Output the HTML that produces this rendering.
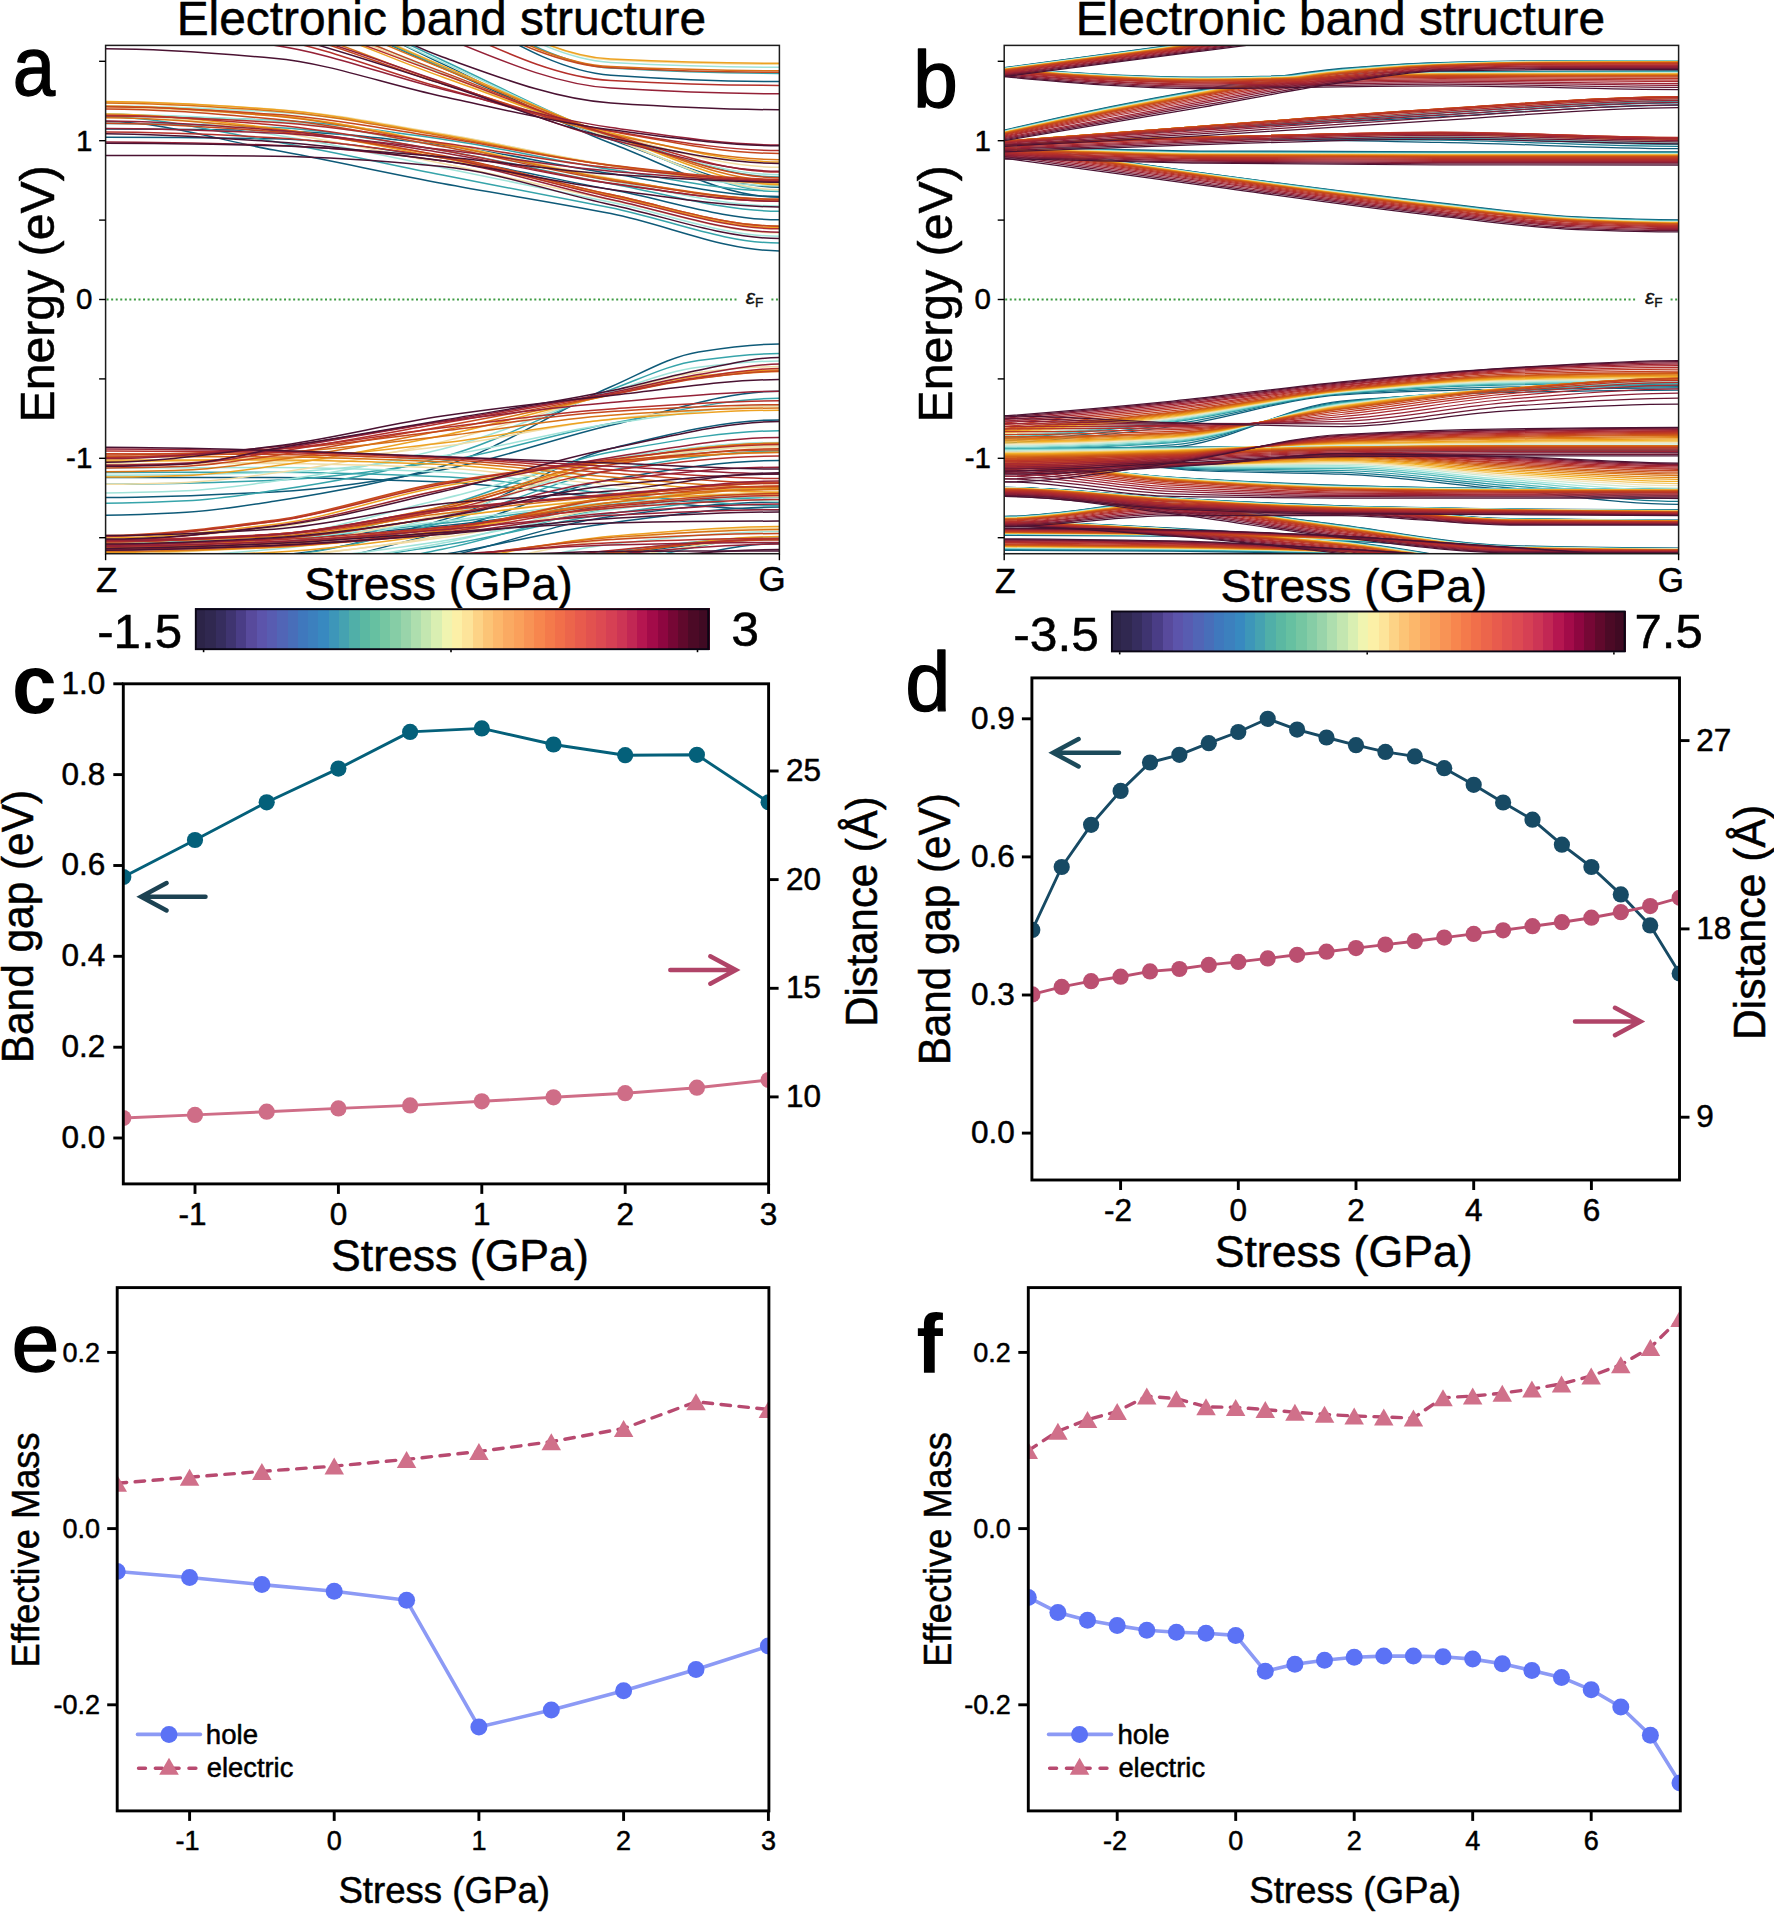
<!DOCTYPE html>
<html lang="en">
<head>
<meta charset="utf-8">
<title>Electronic band structure under stress</title>
<style>
html,body{margin:0;padding:0;background:#fff;}
body{width:1774px;height:1913px;overflow:hidden;}
svg{display:block;font-family:"Liberation Sans", sans-serif;}
svg text{font-family:"Liberation Sans", sans-serif;}
.bd path{fill:none;}
</style>
</head>
<body>
<svg width="1774" height="1913" viewBox="0 0 1774 1913">
<rect x="0" y="0" width="1774" height="1913" fill="#fff"/>
<defs>
<clipPath id="cla"><rect x="105.6" y="45.4" width="673.8" height="508.3"/></clipPath>
<clipPath id="clb"><rect x="1004.2" y="45.4" width="674.4" height="508.3"/></clipPath>
<clipPath id="clc"><rect x="123.3" y="683.8" width="645.3" height="500.1"/></clipPath>
<clipPath id="cld"><rect x="1031.9" y="677.9" width="647.6" height="502.1"/></clipPath>
<clipPath id="cle"><rect x="117.2" y="1287.6" width="651.7" height="523.3"/></clipPath>
<clipPath id="clf"><rect x="1028.3" y="1287.6" width="652" height="523.3"/></clipPath>
</defs>
<line x1="106.6" y1="299.5" x2="738.4" y2="299.5" stroke="#3f9c44" stroke-width="1.9" stroke-dasharray="2 2.55"/>
<line x1="771.4" y1="299.5" x2="778.9" y2="299.5" stroke="#3f9c44" stroke-width="1.9" stroke-dasharray="2 2.55"/>
<text x="745.8" y="303.6" font-size="21" font-style="italic" fill="#111" stroke="#111" stroke-width="0.4" font-family="'DejaVu Sans', 'Liberation Sans', sans-serif">ε<tspan font-size="13.5" font-style="normal" dy="3">F</tspan></text>
<g class="bd" clip-path="url(#cla)" stroke-width="1.5">
<path d="M105.6 121.5C161.7 121.5 217.9 139.9 274 150.1C330.2 160.4 386.3 172.9 442.5 183.5C498.6 194 554.8 202.5 610.9 213.6C667.1 224.8 723.2 250.9 779.4 250.9" stroke="#0e5a78"/>
<path d="M105.6 137.2C161.7 137.2 217.9 137.8 274 138.8C330.2 139.8 386.3 149.9 442.5 157.8C498.6 165.8 554.8 179.3 610.9 189.6C667.1 199.9 723.2 219.8 779.4 219.8" stroke="#0e5a78"/>
<path d="M105.6 129.1C161.7 129.1 217.9 129.8 274 130.7C330.2 131.7 386.3 138.7 442.5 145C498.6 151.4 554.8 165.1 610.9 173.6C667.1 182.1 723.2 196.5 779.4 196.5" stroke="#0e5a78"/>
<path d="M105.6 -51C161.7 -51 217.9 -22.5 274 -3.4C330.2 15.7 386.3 44.2 442.5 68.1C498.6 91.9 554.8 120.5 610.9 139.5C667.1 158.6 723.2 187.2 779.4 187.2" stroke="#0e5a78"/>
<path d="M105.6 -79C161.7 -79 217.9 -39 274 -15.5C330.2 8 386.3 37.4 442.5 63.9C498.6 90.3 554.8 121.9 610.9 143.3C667.1 164.7 723.2 197.3 779.4 197.3" stroke="#0e5a78"/>
<path d="M105.6 -210.6C161.7 -210.6 217.9 -150.6 274 -115.3C330.2 -80 386.3 -26 442.5 3.8C498.6 33.6 554.8 71.4 610.9 75.2C667.1 79.1 723.2 81.6 779.4 81.6" stroke="#0e5a78"/>
<path d="M105.6 515.2C132.6 515.2 159.5 513.8 186.5 512.3C215.7 510.7 244.9 505.7 274 501.2C330.2 492.6 386.3 482.4 442.5 466.2C498.6 450.1 554.8 410.9 610.9 386.8C640.1 374.3 669.3 356.5 698.5 351.9C725.5 347.7 752.4 344 779.4 344" stroke="#0e5a78"/>
<path d="M105.6 497.6C161.7 497.6 217.9 494.9 274 491.9C330.2 488.9 386.3 479.6 442.5 469.7C498.6 459.8 554.8 438 610.9 425.2C667.1 412.4 723.2 391.2 779.4 391.2" stroke="#0e5a78"/>
<path d="M105.6 558.1C161.7 558.1 217.9 556.8 274 554.9C330.2 552.9 386.3 535.6 442.5 519.9C498.6 504.3 554.8 462.1 610.9 448.5C667.1 434.9 723.2 419.9 779.4 419.9" stroke="#0e5a78"/>
<path d="M105.6 477.4C161.7 477.4 217.9 477.4 274 477.4C330.2 477.4 386.3 479.7 442.5 482.1C498.6 484.6 554.8 493.5 610.9 498C667.1 502.5 723.2 509.8 779.4 509.8" stroke="#0e5a78"/>
<path d="M105.6 579.6C161.7 579.6 217.9 574.1 274 568.5C330.2 562.8 386.3 546.3 442.5 531.9C498.6 517.6 554.8 488.8 610.9 479.5C667.1 470.2 723.2 460.5 779.4 460.5" stroke="#0e5a78"/>
<path d="M105.6 602.2C161.7 602.2 217.9 595.5 274 589.5C330.2 583.4 386.3 569.7 442.5 557.7C498.6 545.7 554.8 523.5 610.9 516.4C667.1 509.3 723.2 502.1 779.4 502.1" stroke="#0e5a78"/>
<path d="M105.6 647.5C161.7 647.5 217.9 638.6 274 631.6C330.2 624.5 386.3 612.2 442.5 599.8C498.6 587.5 554.8 563.2 610.9 555.4C667.1 547.6 723.2 539.5 779.4 539.5" stroke="#0e5a78"/>
<path d="M105.6 541.7C161.7 541.7 217.9 540.2 274 538.5C330.2 536.8 386.3 530.9 442.5 525.8C498.6 520.7 554.8 511 610.9 506.8C667.1 502.5 723.2 497.2 779.4 497.2" stroke="#0e5a78"/>
<path d="M105.6 586.4C161.7 586.4 217.9 582.4 274 578.5C330.2 574.5 386.3 563.7 442.5 554.7C498.6 545.6 554.8 530 610.9 522.9C667.1 515.8 723.2 507 779.4 507" stroke="#0e5a78"/>
<path d="M105.6 680.9C161.7 680.9 217.9 672.1 274 665.1C330.2 658 386.3 646.8 442.5 633.3C498.6 619.8 554.8 591.8 610.9 577.7C667.1 563.6 723.2 543.6 779.4 543.6" stroke="#0e5a78"/>
<path d="M105.6 116.9C161.7 116.9 217.9 132.2 274 141.6C330.2 151.1 386.3 164.1 442.5 175.1C498.6 186.1 554.8 196.4 610.9 207.7C667.1 219 723.2 243.1 779.4 243.1" stroke="#36a4aa"/>
<path d="M105.6 123.4C161.7 123.4 217.9 125.3 274 127.6C330.2 130 386.3 141.4 442.5 150.4C498.6 159.5 554.8 173.7 610.9 183.7C667.1 193.8 723.2 211.2 779.4 211.2" stroke="#36a4aa"/>
<path d="M105.6 116.2C161.7 116.2 217.9 118 274 120.3C330.2 122.5 386.3 131.4 442.5 139.2C498.6 147 554.8 161 610.9 169.4C667.1 177.8 723.2 191.1 779.4 191.1" stroke="#36a4aa"/>
<path d="M105.6 -49C161.7 -49 217.9 -21.5 274 -3C330.2 15.4 386.3 43.9 442.5 66.9C498.6 89.9 554.8 117.4 610.9 134.8C667.1 152.1 723.2 177 779.4 177" stroke="#36a4aa"/>
<path d="M105.6 -77C161.7 -77 217.9 -39.7 274 -17.2C330.2 5.2 386.3 34.5 442.5 60.2C498.6 86 554.8 116.3 610.9 137.4C667.1 158.6 723.2 191.4 779.4 191.4" stroke="#36a4aa"/>
<path d="M105.6 -224.8C161.7 -224.8 217.9 -164.5 274 -128.1C330.2 -91.8 386.3 -33.4 442.5 -3.2C498.6 27.1 554.8 64.6 610.9 68C667.1 71.4 723.2 73.4 779.4 73.4" stroke="#36a4aa"/>
<path d="M105.6 503.2C132.6 503.2 159.5 502.1 186.5 500.8C215.7 499.4 244.9 494.8 274 490.6C330.2 482.6 386.3 472 442.5 457C498.6 442.1 554.8 409.9 610.9 389.6C640.1 379.1 669.3 364.3 698.5 360.4C725.5 356.7 752.4 353.5 779.4 353.5" stroke="#36a4aa"/>
<path d="M105.6 484.2C161.7 484.2 217.9 482.5 274 480.3C330.2 478.2 386.3 469.7 442.5 461.3C498.6 452.9 554.8 433.6 610.9 423.6C667.1 413.5 723.2 398.3 779.4 398.3" stroke="#36a4aa"/>
<path d="M105.6 549.5C161.7 549.5 217.9 546.5 274 542.7C330.2 538.9 386.3 521 442.5 506.5C498.6 492 554.8 462.2 610.9 452C667.1 441.9 723.2 430.8 779.4 430.8" stroke="#36a4aa"/>
<path d="M105.6 472.4C161.7 472.4 217.9 472.2 274 472.2C330.2 472.2 386.3 474.4 442.5 476.8C498.6 479.2 554.8 488.8 610.9 493.5C667.1 498.1 723.2 505.5 779.4 505.5" stroke="#36a4aa"/>
<path d="M105.6 567.5C161.7 567.5 217.9 562.5 274 557.2C330.2 551.9 386.3 536.4 442.5 522.5C498.6 508.5 554.8 479.5 610.9 470.2C667.1 460.8 723.2 451 779.4 451" stroke="#36a4aa"/>
<path d="M105.6 587.3C161.7 587.3 217.9 582.1 274 577.1C330.2 572.1 386.3 560.3 442.5 549.2C498.6 538.1 554.8 515.5 610.9 508.2C667.1 500.9 723.2 493.2 779.4 493.2" stroke="#36a4aa"/>
<path d="M105.6 632.7C161.7 632.7 217.9 625 274 618.8C330.2 612.7 386.3 602.1 442.5 591.3C498.6 580.5 554.8 558.7 610.9 551.7C667.1 544.7 723.2 537.3 779.4 537.3" stroke="#36a4aa"/>
<path d="M105.6 542.1C161.7 542.1 217.9 540.5 274 538.5C330.2 536.6 386.3 528.8 442.5 523.2C498.6 517.5 554.8 507.8 610.9 504.2C667.1 500.6 723.2 496.7 779.4 496.7" stroke="#36a4aa"/>
<path d="M105.6 574.2C161.7 574.2 217.9 570.7 274 567.2C330.2 563.7 386.3 554 442.5 545.4C498.6 536.8 554.8 520.8 610.9 513.6C667.1 506.4 723.2 497.2 779.4 497.2" stroke="#36a4aa"/>
<path d="M105.6 658.7C161.7 658.7 217.9 651.5 274 645.3C330.2 639.1 386.3 627.7 442.5 615.3C498.6 602.9 554.8 578.3 610.9 566.1C667.1 554 723.2 537.2 779.4 537.2" stroke="#36a4aa"/>
<path d="M105.6 113.7C161.7 113.7 217.9 126.2 274 134.8C330.2 143.3 386.3 156.4 442.5 167.7C498.6 178.9 554.8 190.9 610.9 202.3C667.1 213.8 723.2 236.3 779.4 236.3" stroke="#a0e3d9"/>
<path d="M105.6 114.6C161.7 114.6 217.9 117.6 274 120.9C330.2 124.3 386.3 136.8 442.5 146.6C498.6 156.4 554.8 171.2 610.9 180.9C667.1 190.6 723.2 206.1 779.4 206.1" stroke="#a0e3d9"/>
<path d="M105.6 106.1C161.7 106.1 217.9 108.8 274 111.9C330.2 115 386.3 125.6 442.5 134.3C498.6 143 554.8 157.1 610.9 165.4C667.1 173.6 723.2 185.8 779.4 185.8" stroke="#a0e3d9"/>
<path d="M105.6 -38.1C161.7 -38.1 217.9 -12.2 274 5.5C330.2 23.2 386.3 51.4 442.5 73.4C498.6 95.4 554.8 121.7 610.9 137.5C667.1 153.2 723.2 174.7 779.4 174.7" stroke="#a0e3d9"/>
<path d="M105.6 -68.9C161.7 -68.9 217.9 -34.2 274 -12.8C330.2 8.6 386.3 37.4 442.5 62.4C498.6 87.4 554.8 116.6 610.9 137.3C667.1 158 723.2 190.4 779.4 190.4" stroke="#a0e3d9"/>
<path d="M105.6 -233.5C161.7 -233.5 217.9 -173.2 274 -136.3C330.2 -99.4 386.3 -38 442.5 -7.8C498.6 22.5 554.8 59.5 610.9 62.4C667.1 65.4 723.2 67.2 779.4 67.2" stroke="#a0e3d9"/>
<path d="M105.6 492.9C132.6 492.9 159.5 491.9 186.5 490.8C215.7 489.6 244.9 485.2 274 481.3C330.2 473.7 386.3 462.7 442.5 448.9C498.6 435.1 554.8 408.9 610.9 391.8C640.1 383 669.3 370.7 698.5 367.2C725.5 364 752.4 361 779.4 361" stroke="#a0e3d9"/>
<path d="M105.6 475.3C161.7 475.3 217.9 474.2 274 472.6C330.2 471.1 386.3 463.1 442.5 455.8C498.6 448.4 554.8 431.5 610.9 423.7C667.1 416 723.2 405.5 779.4 405.5" stroke="#a0e3d9"/>
<path d="M105.6 545.7C161.7 545.7 217.9 541.2 274 536.1C330.2 530.9 386.3 511.9 442.5 498.9C498.6 485.9 554.8 465.5 610.9 458C667.1 450.4 723.2 442.4 779.4 442.4" stroke="#a0e3d9"/>
<path d="M105.6 467.9C161.7 467.9 217.9 467.5 274 467.5C330.2 467.5 386.3 469.7 442.5 472.1C498.6 474.5 554.8 484.4 610.9 489.1C667.1 493.8 723.2 501.2 779.4 501.2" stroke="#a0e3d9"/>
<path d="M105.6 558.8C161.7 558.8 217.9 554.2 274 549.3C330.2 544.4 386.3 529.7 442.5 516.3C498.6 502.9 554.8 473.9 610.9 464.6C667.1 455.4 723.2 445.7 779.4 445.7" stroke="#a0e3d9"/>
<path d="M105.6 575.7C161.7 575.7 217.9 571.6 274 567.5C330.2 563.4 386.3 553.2 442.5 543.1C498.6 533 554.8 510.4 610.9 503C667.1 495.7 723.2 487.8 779.4 487.8" stroke="#a0e3d9"/>
<path d="M105.6 614.9C161.7 614.9 217.9 608.2 274 602.9C330.2 597.6 386.3 588.6 442.5 579.2C498.6 569.8 554.8 550.5 610.9 544.3C667.1 538 723.2 531.5 779.4 531.5" stroke="#a0e3d9"/>
<path d="M105.6 543C161.7 543 217.9 541.3 274 539.1C330.2 537 386.3 527.5 442.5 521.4C498.6 515.3 554.8 505.8 610.9 502.7C667.1 499.6 723.2 496.4 779.4 496.4" stroke="#a0e3d9"/>
<path d="M105.6 567.1C161.7 567.1 217.9 564.1 274 561C330.2 557.8 386.3 549.2 442.5 541.1C498.6 533 554.8 517 610.9 509.8C667.1 502.6 723.2 493.3 779.4 493.3" stroke="#a0e3d9"/>
<path d="M105.6 645C161.7 645 217.9 639 274 633.6C330.2 628.2 386.3 616.8 442.5 605.4C498.6 593.9 554.8 572.4 610.9 561.9C667.1 551.5 723.2 537.5 779.4 537.5" stroke="#a0e3d9"/>
<path d="M105.6 114.4C161.7 114.4 217.9 124.4 274 132C330.2 139.5 386.3 152.4 442.5 163.6C498.6 174.9 554.8 188.5 610.9 200C667.1 211.5 723.2 232.8 779.4 232.8" stroke="#f1dca4"/>
<path d="M105.6 107.8C161.7 107.8 217.9 111.7 274 115.8C330.2 119.9 386.3 133 442.5 143.3C498.6 153.6 554.8 169 610.9 178.2C667.1 187.5 723.2 201.4 779.4 201.4" stroke="#f1dca4"/>
<path d="M105.6 102.1C161.7 102.1 217.9 105.6 274 109.2C330.2 112.9 386.3 124.6 442.5 133.8C498.6 142.9 554.8 157.1 610.9 165C667.1 172.9 723.2 184 779.4 184" stroke="#f1dca4"/>
<path d="M105.6 -31.6C161.7 -31.6 217.9 -7.7 274 9C330.2 25.7 386.3 53.4 442.5 74.3C498.6 95.2 554.8 120.3 610.9 134.5C667.1 148.6 723.2 167.3 779.4 167.3" stroke="#f1dca4"/>
<path d="M105.6 -59.4C161.7 -59.4 217.9 -27.2 274 -6.9C330.2 13.5 386.3 41.7 442.5 65.8C498.6 90 554.8 118.1 610.9 138.2C667.1 158.2 723.2 189.7 779.4 189.7" stroke="#f1dca4"/>
<path d="M105.6 -235.5C161.7 -235.5 217.9 -175.5 274 -138.5C330.2 -101.4 386.3 -38.7 442.5 -8.8C498.6 21.2 554.8 57.2 610.9 59.9C667.1 62.6 723.2 64.2 779.4 64.2" stroke="#f1dca4"/>
<path d="M105.6 484.2C132.6 484.2 159.5 483.4 186.5 482.4C215.7 481.3 244.9 477 274 473.1C330.2 465.8 386.3 454.4 442.5 441.7C498.6 429 554.8 408 610.9 393.5C640.1 385.9 669.3 375.7 698.5 372.5C725.5 369.4 752.4 366.5 779.4 366.5" stroke="#f1dca4"/>
<path d="M105.6 464.4C161.7 464.4 217.9 463.4 274 462C330.2 460.7 386.3 453 442.5 446.3C498.6 439.7 554.8 424.8 610.9 419C667.1 413.2 723.2 406.1 779.4 406.1" stroke="#f1dca4"/>
<path d="M105.6 539.3C161.7 539.3 217.9 533.4 274 527.3C330.2 521.3 386.3 500.9 442.5 489.6C498.6 478.3 554.8 464.4 610.9 458.7C667.1 453 723.2 446.9 779.4 446.9" stroke="#f1dca4"/>
<path d="M105.6 463.8C161.7 463.8 217.9 463.4 274 463.4C330.2 463.4 386.3 465.6 442.5 468C498.6 470.4 554.8 480.3 610.9 484.9C667.1 489.6 723.2 496.8 779.4 496.8" stroke="#f1dca4"/>
<path d="M105.6 554.4C161.7 554.4 217.9 550.1 274 545.6C330.2 541 386.3 527.2 442.5 514.3C498.6 501.5 554.8 472.9 610.9 463.9C667.1 454.8 723.2 445.3 779.4 445.3" stroke="#f1dca4"/>
<path d="M105.6 563.6C161.7 563.6 217.9 560.4 274 557C330.2 553.7 386.3 544.8 442.5 535.7C498.6 526.5 554.8 504.5 610.9 497.2C667.1 490 723.2 482.1 779.4 482.1" stroke="#f1dca4"/>
<path d="M105.6 600.3C161.7 600.3 217.9 594.6 274 590.1C330.2 585.6 386.3 577.9 442.5 569.8C498.6 561.7 554.8 544.9 610.9 539.5C667.1 534 723.2 528.2 779.4 528.2" stroke="#f1dca4"/>
<path d="M105.6 541.5C161.7 541.5 217.9 539.6 274 537.3C330.2 534.9 386.3 523.8 442.5 517.5C498.6 511.1 554.8 502.1 610.9 499.1C667.1 496.2 723.2 493.4 779.4 493.4" stroke="#f1dca4"/>
<path d="M105.6 561.3C161.7 561.3 217.9 558.6 274 555.8C330.2 553 386.3 545.2 442.5 537.6C498.6 530.1 554.8 514.6 610.9 507.7C667.1 500.7 723.2 491.6 779.4 491.6" stroke="#f1dca4"/>
<path d="M105.6 634C161.7 634 217.9 629 274 624.3C330.2 619.5 386.3 608.2 442.5 597.8C498.6 587.4 554.8 568.4 610.9 559.5C667.1 550.6 723.2 539 779.4 539" stroke="#f1dca4"/>
<path d="M105.6 114.1C161.7 114.1 217.9 121.9 274 128.4C330.2 134.8 386.3 147.1 442.5 158.1C498.6 169.2 554.8 184.2 610.9 195.8C667.1 207.3 723.2 227.8 779.4 227.8" stroke="#eda222"/>
<path d="M105.6 106.2C161.7 106.2 217.9 110.8 274 115.4C330.2 120 386.3 133.4 442.5 143.8C498.6 154.3 554.8 170 610.9 178.9C667.1 187.7 723.2 200.3 779.4 200.3" stroke="#eda222"/>
<path d="M105.6 101.6C161.7 101.6 217.9 105.4 274 109.4C330.2 113.4 386.3 125.5 442.5 134.8C498.6 144.1 554.8 158.1 610.9 165.5C667.1 172.9 723.2 183 779.4 183" stroke="#eda222"/>
<path d="M105.6 -22.1C161.7 -22.1 217.9 -0.6 274 14.9C330.2 30.4 386.3 57.4 442.5 77C498.6 96.7 554.8 120.4 610.9 133.1C667.1 145.8 723.2 161.9 779.4 161.9" stroke="#eda222"/>
<path d="M105.6 -53.2C161.7 -53.2 217.9 -23.2 274 -4C330.2 15.3 386.3 42.6 442.5 65.9C498.6 89.1 554.8 116.3 610.9 135.5C667.1 154.7 723.2 184.7 779.4 184.7" stroke="#eda222"/>
<path d="M105.6 -231.9C161.7 -231.9 217.9 -172.5 274 -135.8C330.2 -99.2 386.3 -36.5 442.5 -7.3C498.6 21.9 554.8 56.5 610.9 59.1C667.1 61.7 723.2 63.3 779.4 63.3" stroke="#eda222"/>
<path d="M105.6 477.1C132.6 477.1 159.5 476.4 186.5 475.5C215.7 474.5 244.9 469.9 274 466.1C330.2 458.8 386.3 447.3 442.5 435.6C498.6 423.9 554.8 407.1 610.9 394.5C640.1 387.9 669.3 379.3 698.5 376.1C725.5 373.1 752.4 370 779.4 370" stroke="#eda222"/>
<path d="M105.6 461.4C161.7 461.4 217.9 460.2 274 458.6C330.2 457.1 386.3 449.3 442.5 443.1C498.6 436.8 554.8 423.8 610.9 419.4C667.1 415 723.2 410.2 779.4 410.2" stroke="#eda222"/>
<path d="M105.6 538.1C161.7 538.1 217.9 531.1 274 524.4C330.2 517.7 386.3 496.2 442.5 486.3C498.6 476.5 554.8 466.8 610.9 462.1C667.1 457.4 723.2 452.3 779.4 452.3" stroke="#eda222"/>
<path d="M105.6 460C161.7 460 217.9 459.9 274 459.9C330.2 459.9 386.3 462.1 442.5 464.6C498.6 467 554.8 476.4 610.9 480.9C667.1 485.4 723.2 492.3 779.4 492.3" stroke="#eda222"/>
<path d="M105.6 547.5C161.7 547.5 217.9 543.6 274 539.3C330.2 535 386.3 522.1 442.5 509.8C498.6 497.6 554.8 469.8 610.9 461.1C667.1 452.4 723.2 443.2 779.4 443.2" stroke="#eda222"/>
<path d="M105.6 557.4C161.7 557.4 217.9 554.9 274 552.2C330.2 549.4 386.3 541.7 442.5 533.5C498.6 525.3 554.8 504.2 610.9 497.2C667.1 490.3 723.2 482.6 779.4 482.6" stroke="#eda222"/>
<path d="M105.6 588.1C161.7 588.1 217.9 583.3 274 579.4C330.2 575.6 386.3 569.1 442.5 562.2C498.6 555.3 554.8 540.9 610.9 536.2C667.1 531.5 723.2 526.6 779.4 526.6" stroke="#eda222"/>
<path d="M105.6 543.7C161.7 543.7 217.9 541.6 274 539.1C330.2 536.6 386.3 524.1 442.5 517.6C498.6 511.1 554.8 502.8 610.9 499.8C667.1 496.8 723.2 493.9 779.4 493.9" stroke="#eda222"/>
<path d="M105.6 552.4C161.7 552.4 217.9 549.9 274 547.4C330.2 544.9 386.3 537.8 442.5 530.8C498.6 523.8 554.8 509.2 610.9 502.6C667.1 496.1 723.2 487.6 779.4 487.6" stroke="#eda222"/>
<path d="M105.6 620.7C161.7 620.7 217.9 616.5 274 612.3C330.2 608.1 386.3 597.1 442.5 587.6C498.6 578.1 554.8 561.4 610.9 553.8C667.1 546.2 723.2 536.6 779.4 536.6" stroke="#eda222"/>
<path d="M105.6 117.7C161.7 117.7 217.9 123.6 274 128.9C330.2 134.2 386.3 145.5 442.5 156.1C498.6 166.7 554.8 183 610.9 194.6C667.1 206.2 723.2 226.2 779.4 226.2" stroke="#d87217"/>
<path d="M105.6 106.3C161.7 106.3 217.9 111.3 274 116.1C330.2 121 386.3 134.2 442.5 144.6C498.6 155 554.8 170.9 610.9 179.3C667.1 187.8 723.2 199.3 779.4 199.3" stroke="#d87217"/>
<path d="M105.6 102.9C161.7 102.9 217.9 106.8 274 110.9C330.2 114.9 386.3 126.9 442.5 135.9C498.6 145 554.8 158.5 610.9 165.4C667.1 172.3 723.2 181.2 779.4 181.2" stroke="#d87217"/>
<path d="M105.6 -8.6C161.7 -8.6 217.9 10.2 274 24.2C330.2 38.2 386.3 64.3 442.5 82.6C498.6 100.9 554.8 123.1 610.9 134.4C667.1 145.8 723.2 159.7 779.4 159.7" stroke="#d87217"/>
<path d="M105.6 -44.4C161.7 -44.4 217.9 -16.5 274 1.7C330.2 19.8 386.3 46.1 442.5 68.3C498.6 90.6 554.8 117 610.9 135.2C667.1 153.3 723.2 181.1 779.4 181.1" stroke="#d87217"/>
<path d="M105.6 -216.3C161.7 -216.3 217.9 -157.9 274 -122C330.2 -86.2 386.3 -25.2 442.5 2.9C498.6 31.1 554.8 64 610.9 66.6C667.1 69.2 723.2 70.7 779.4 70.7" stroke="#d87217"/>
<path d="M105.6 471.7C132.6 471.7 159.5 471 186.5 470.1C215.7 469.1 244.9 464.2 274 460.3C330.2 452.8 386.3 441.3 442.5 430.5C498.6 419.6 554.8 406.2 610.9 394.9C640.1 389.1 669.3 381.5 698.5 378.1C725.5 375 752.4 371.5 779.4 371.5" stroke="#d87217"/>
<path d="M105.6 456.5C161.7 456.5 217.9 454.7 274 452.7C330.2 450.6 386.3 442.4 442.5 436.2C498.6 430.1 554.8 418.7 610.9 415.2C667.1 411.6 723.2 408 779.4 408" stroke="#d87217"/>
<path d="M105.6 536.1C161.7 536.1 217.9 528.4 274 521.4C330.2 514.3 386.3 492.3 442.5 483.3C498.6 474.2 554.8 466.6 610.9 462.2C667.1 457.8 723.2 452.5 779.4 452.5" stroke="#d87217"/>
<path d="M105.6 456.7C161.7 456.7 217.9 456.7 274 456.9C330.2 457 386.3 459.3 442.5 461.7C498.6 464.2 554.8 472.8 610.9 477C667.1 481.2 723.2 487.8 779.4 487.8" stroke="#d87217"/>
<path d="M105.6 542C161.7 542 217.9 538.3 274 534.3C330.2 530.3 386.3 518.2 442.5 506.6C498.6 495.1 554.8 468.5 610.9 460.2C667.1 451.9 723.2 443.2 779.4 443.2" stroke="#d87217"/>
<path d="M105.6 551.4C161.7 551.4 217.9 549.3 274 547C330.2 544.7 386.3 538 442.5 530.7C498.6 523.3 554.8 503.7 610.9 497.2C667.1 490.7 723.2 483.4 779.4 483.4" stroke="#d87217"/>
<path d="M105.6 581C161.7 581 217.9 577 274 573.7C330.2 570.5 386.3 564.9 442.5 559.1C498.6 553.3 554.8 541.3 610.9 537.4C667.1 533.5 723.2 529.5 779.4 529.5" stroke="#d87217"/>
<path d="M105.6 541.5C161.7 541.5 217.9 539.2 274 536.5C330.2 533.8 386.3 520.2 442.5 513.6C498.6 507.1 554.8 499.8 610.9 496.5C667.1 493.3 723.2 489.6 779.4 489.6" stroke="#d87217"/>
<path d="M105.6 548C161.7 548 217.9 545.8 274 543.4C330.2 541.1 386.3 534.6 442.5 528.2C498.6 521.9 554.8 508.4 610.9 502.5C667.1 496.7 723.2 489.1 779.4 489.1" stroke="#d87217"/>
<path d="M105.6 613.9C161.7 613.9 217.9 610.1 274 606.3C330.2 602.6 386.3 592.1 442.5 583.4C498.6 574.8 554.8 560.1 610.9 553.5C667.1 547 723.2 538.9 779.4 538.9" stroke="#d87217"/>
<path d="M105.6 123.3C161.7 123.3 217.9 127.5 274 131.6C330.2 135.7 386.3 145.7 442.5 155.6C498.6 165.5 554.8 183 610.9 194.6C667.1 206.2 723.2 226.2 779.4 226.2" stroke="#c5471e"/>
<path d="M105.6 108.9C161.7 108.9 217.9 114.1 274 119C330.2 123.9 386.3 136.4 442.5 146.5C498.6 156.6 554.8 172.3 610.9 180.4C667.1 188.5 723.2 199.3 779.4 199.3" stroke="#c5471e"/>
<path d="M105.6 106.8C161.7 106.8 217.9 110.4 274 114.2C330.2 117.9 386.3 129.2 442.5 137.6C498.6 146.1 554.8 159 610.9 165.2C667.1 171.4 723.2 179.2 779.4 179.2" stroke="#c5471e"/>
<path d="M105.6 1.7C161.7 1.7 217.9 17.3 274 29.6C330.2 41.9 386.3 66.9 442.5 83.8C498.6 100.6 554.8 121.1 610.9 131.2C667.1 141.3 723.2 153.5 779.4 153.5" stroke="#c5471e"/>
<path d="M105.6 -34.4C161.7 -34.4 217.9 -8.4 274 8.7C330.2 25.8 386.3 50.7 442.5 71.9C498.6 93 554.8 118.8 610.9 135.7C667.1 152.6 723.2 177.7 779.4 177.7" stroke="#c5471e"/>
<path d="M105.6 -203.2C161.7 -203.2 217.9 -146 274 -111.5C330.2 -76.9 386.3 -19 442.5 7.6C498.6 34.3 554.8 65 610.9 67.8C667.1 70.6 723.2 72.3 779.4 72.3" stroke="#c5471e"/>
<path d="M105.6 467.9C132.6 467.9 159.5 467.2 186.5 466.2C215.7 465.2 244.9 459.7 274 455.7C330.2 447.8 386.3 436.5 442.5 426.4C498.6 416.2 554.8 405.2 610.9 394.8C640.1 389.3 669.3 382.2 698.5 378.5C725.5 375.2 752.4 371 779.4 371" stroke="#c5471e"/>
<path d="M105.6 455C161.7 455 217.9 452.2 274 449.3C330.2 446.4 386.3 437.2 442.5 430.9C498.6 424.6 554.8 414.9 610.9 411.5C667.1 408.2 723.2 404.7 779.4 404.7" stroke="#c5471e"/>
<path d="M105.6 535.5C161.7 535.5 217.9 527.5 274 520.3C330.2 513.1 386.3 491.6 442.5 482.5C498.6 473.4 554.8 466.1 610.9 461.2C667.1 456.3 723.2 449.9 779.4 449.9" stroke="#c5471e"/>
<path d="M105.6 453.7C161.7 453.7 217.9 454 274 454.4C330.2 454.8 386.3 457 442.5 459.5C498.6 462 554.8 469.5 610.9 473.3C667.1 477.1 723.2 483.2 779.4 483.2" stroke="#c5471e"/>
<path d="M105.6 541.4C161.7 541.4 217.9 538 274 534.2C330.2 530.4 386.3 519.1 442.5 508.3C498.6 497.4 554.8 472.4 610.9 464.7C667.1 456.9 723.2 448.8 779.4 448.8" stroke="#c5471e"/>
<path d="M105.6 547.2C161.7 547.2 217.9 545.4 274 543.3C330.2 541.3 386.3 535.4 442.5 528.9C498.6 522.4 554.8 504.8 610.9 498.9C667.1 493 723.2 486.3 779.4 486.3" stroke="#c5471e"/>
<path d="M105.6 575.6C161.7 575.6 217.9 572.3 274 569.6C330.2 566.9 386.3 562.1 442.5 557.2C498.6 552.4 554.8 542.6 610.9 539.6C667.1 536.6 723.2 533.5 779.4 533.5" stroke="#c5471e"/>
<path d="M105.6 540.2C161.7 540.2 217.9 537.8 274 534.9C330.2 532 386.3 517.4 442.5 510.9C498.6 504.5 554.8 498.5 610.9 494.7C667.1 490.9 723.2 486.1 779.4 486.1" stroke="#c5471e"/>
<path d="M105.6 545.9C161.7 545.9 217.9 543.8 274 541.5C330.2 539.3 386.3 533.3 442.5 527.6C498.6 521.8 554.8 510 610.9 505C667.1 500 723.2 493.6 779.4 493.6" stroke="#c5471e"/>
<path d="M105.6 607.4C161.7 607.4 217.9 603.9 274 600.3C330.2 596.8 386.3 587 442.5 579.2C498.6 571.3 554.8 558.2 610.9 552.5C667.1 546.8 723.2 539.9 779.4 539.9" stroke="#c5471e"/>
<path d="M105.6 132.1C161.7 132.1 217.9 134.7 274 137.7C330.2 140.6 386.3 148.9 442.5 157.8C498.6 166.6 554.8 185.1 610.9 196.9C667.1 208.6 723.2 228.8 779.4 228.8" stroke="#b4302b"/>
<path d="M105.6 115.2C161.7 115.2 217.9 120.3 274 125C330.2 129.7 386.3 141.1 442.5 150.6C498.6 160.2 554.8 175.5 610.9 183.2C667.1 191 723.2 201.3 779.4 201.3" stroke="#b4302b"/>
<path d="M105.6 116C161.7 116 217.9 119.1 274 122.3C330.2 125.6 386.3 135.4 442.5 142.9C498.6 150.4 554.8 162.4 610.9 167.8C667.1 173.2 723.2 179.9 779.4 179.9" stroke="#b4302b"/>
<path d="M105.6 16.3C161.7 16.3 217.9 28.4 274 38.7C330.2 48.9 386.3 72.7 442.5 88C498.6 103.3 554.8 122 610.9 130.9C667.1 139.9 723.2 150.6 779.4 150.6" stroke="#b4302b"/>
<path d="M105.6 -25.4C161.7 -25.4 217.9 -1.2 274 14.8C330.2 30.8 386.3 54.1 442.5 74.2C498.6 94.2 554.8 119.5 610.9 134.9C667.1 150.3 723.2 172.1 779.4 172.1" stroke="#b4302b"/>
<path d="M105.6 -174.9C161.7 -174.9 217.9 -119.3 274 -86.5C330.2 -53.7 386.3 -0.5 442.5 24.4C498.6 49.2 554.8 77.4 610.9 80.5C667.1 83.5 723.2 85.4 779.4 85.4" stroke="#b4302b"/>
<path d="M105.6 465.7C132.6 465.7 159.5 464.9 186.5 463.9C215.7 462.8 244.9 456.5 274 452.2C330.2 443.8 386.3 433 442.5 423.3C498.6 413.6 554.8 404.3 610.9 394C640.1 388.7 669.3 381.4 698.5 377.4C725.5 373.6 752.4 368.5 779.4 368.5" stroke="#b4302b"/>
<path d="M105.6 457.4C161.7 457.4 217.9 453 274 449C330.2 445 386.3 434.4 442.5 427.8C498.6 421.1 554.8 412.7 610.9 409C667.1 405.2 723.2 400.8 779.4 400.8" stroke="#b4302b"/>
<path d="M105.6 536.4C161.7 536.4 217.9 528.5 274 521.4C330.2 514.3 386.3 494.3 442.5 484.3C498.6 474.3 554.8 465.4 610.9 459.2C667.1 453 723.2 444.5 779.4 444.5" stroke="#b4302b"/>
<path d="M105.6 451.1C161.7 451.1 217.9 451.8 274 452.5C330.2 453.2 386.3 455.5 442.5 458C498.6 460.4 554.8 466.4 610.9 469.7C667.1 473.1 723.2 478.6 779.4 478.6" stroke="#b4302b"/>
<path d="M105.6 541.8C161.7 541.8 217.9 538.5 274 534.9C330.2 531.3 386.3 520.8 442.5 510.7C498.6 500.7 554.8 477.6 610.9 470.5C667.1 463.4 723.2 456 779.4 456" stroke="#b4302b"/>
<path d="M105.6 549.1C161.7 549.1 217.9 547.2 274 545.3C330.2 543.3 386.3 538.1 442.5 532.3C498.6 526.6 554.8 511.5 610.9 506.4C667.1 501.3 723.2 495.5 779.4 495.5" stroke="#b4302b"/>
<path d="M105.6 571.8C161.7 571.8 217.9 569.1 274 566.9C330.2 564.7 386.3 560.4 442.5 556.4C498.6 552.4 554.8 544.9 610.9 542.7C667.1 540.5 723.2 538.3 779.4 538.3" stroke="#b4302b"/>
<path d="M105.6 539.8C161.7 539.8 217.9 537.2 274 534.2C330.2 531.1 386.3 515.7 442.5 509.4C498.6 503.1 554.8 498.5 610.9 494.2C667.1 489.9 723.2 483.1 779.4 483.1" stroke="#b4302b"/>
<path d="M105.6 544.3C161.7 544.3 217.9 542.1 274 539.9C330.2 537.7 386.3 532.2 442.5 527.1C498.6 522 554.8 512.2 610.9 508.2C667.1 504.2 723.2 499.5 779.4 499.5" stroke="#b4302b"/>
<path d="M105.6 600.8C161.7 600.8 217.9 597.2 274 593.8C330.2 590.4 386.3 581.5 442.5 574.4C498.6 567.2 554.8 555.5 610.9 550.4C667.1 545.3 723.2 539.1 779.4 539.1" stroke="#b4302b"/>
<path d="M105.6 142.1C161.7 142.1 217.9 143.5 274 145.2C330.2 146.9 386.3 153.3 442.5 160.7C498.6 168.1 554.8 187.7 610.9 199.5C667.1 211.4 723.2 232.2 779.4 232.2" stroke="#952137"/>
<path d="M105.6 120.9C161.7 120.9 217.9 125.7 274 130C330.2 134.3 386.3 144.1 442.5 152.8C498.6 161.6 554.8 176.2 610.9 183.6C667.1 191.1 723.2 201.3 779.4 201.3" stroke="#952137"/>
<path d="M105.6 128.5C161.7 128.5 217.9 130.7 274 133.1C330.2 135.6 386.3 143.4 442.5 149.6C498.6 155.9 554.8 166.6 610.9 171.2C667.1 175.7 723.2 181.3 779.4 181.3" stroke="#952137"/>
<path d="M105.6 29C161.7 29 217.9 37.3 274 45.2C330.2 53.2 386.3 75.6 442.5 89.3C498.6 102.9 554.8 119.5 610.9 127.5C667.1 135.5 723.2 145 779.4 145" stroke="#952137"/>
<path d="M105.6 -10.6C161.7 -10.6 217.9 12 274 26.9C330.2 41.8 386.3 63.3 442.5 82.1C498.6 100.9 554.8 125.9 610.9 139.6C667.1 153.2 723.2 171.3 779.4 171.3" stroke="#952137"/>
<path d="M105.6 -147.9C161.7 -147.9 217.9 -94.1 274 -63.6C330.2 -33.1 386.3 14 442.5 36.7C498.6 59.3 554.8 84.6 610.9 88.1C667.1 91.5 723.2 93.7 779.4 93.7" stroke="#952137"/>
<path d="M105.6 465.1C132.6 465.1 159.5 464.3 186.5 463.1C215.7 461.9 244.9 454.5 274 449.9C330.2 441 386.3 430.8 442.5 421.2C498.6 411.7 554.8 403.3 610.9 392.7C640.1 387.2 669.3 379.2 698.5 374.6C725.5 370.3 752.4 364 779.4 364" stroke="#952137"/>
<path d="M105.6 458.6C161.7 458.6 217.9 452.2 274 446.9C330.2 441.5 386.3 428.9 442.5 421.7C498.6 414.4 554.8 407.2 610.9 402.5C667.1 397.7 723.2 391.3 779.4 391.3" stroke="#952137"/>
<path d="M105.6 540C161.7 540 217.9 532.7 274 525.9C330.2 519.1 386.3 501 442.5 489.7C498.6 478.3 554.8 465.6 610.9 457.4C667.1 449.2 723.2 437.5 779.4 437.5" stroke="#952137"/>
<path d="M105.6 449C161.7 449 217.9 450.1 274 451.2C330.2 452.2 386.3 454.6 442.5 457C498.6 459.4 554.8 463.5 610.9 466.3C667.1 469.1 723.2 473.9 779.4 473.9" stroke="#952137"/>
<path d="M105.6 545.3C161.7 545.3 217.9 542.1 274 538.8C330.2 535.4 386.3 525.6 442.5 516.4C498.6 507.1 554.8 486.5 610.9 480.1C667.1 473.7 723.2 467.2 779.4 467.2" stroke="#952137"/>
<path d="M105.6 549.9C161.7 549.9 217.9 547.9 274 545.9C330.2 543.8 386.3 539.1 442.5 534C498.6 529 554.8 517 610.9 512.8C667.1 508.7 723.2 504 779.4 504" stroke="#952137"/>
<path d="M105.6 567.8C161.7 567.8 217.9 565.7 274 563.9C330.2 562.1 386.3 558 442.5 554.9C498.6 551.7 554.8 546.2 610.9 544.9C667.1 543.6 723.2 542.4 779.4 542.4" stroke="#952137"/>
<path d="M105.6 540.6C161.7 540.6 217.9 537.9 274 534.6C330.2 531.4 386.3 515.4 442.5 509.4C498.6 503.4 554.8 500.1 610.9 495.3C667.1 490.6 723.2 481 779.4 481" stroke="#952137"/>
<path d="M105.6 546.2C161.7 546.2 217.9 543.9 274 541.7C330.2 539.6 386.3 534.2 442.5 529.8C498.6 525.5 554.8 518 610.9 515.3C667.1 512.6 723.2 509.7 779.4 509.7" stroke="#952137"/>
<path d="M105.6 601.6C161.7 601.6 217.9 597.8 274 594.4C330.2 591 386.3 583.3 442.5 576.7C498.6 570.2 554.8 559.5 610.9 554.7C667.1 550 723.2 544.1 779.4 544.1" stroke="#952137"/>
<path d="M105.6 155.4C161.7 155.4 217.9 155.7 274 156.2C330.2 156.7 386.3 161.1 442.5 166.6C498.6 172 554.8 192.7 610.9 204.7C667.1 216.6 723.2 238.5 779.4 238.5" stroke="#4a1232"/>
<path d="M105.6 133.8C161.7 133.8 217.9 138 274 141.7C330.2 145.5 386.3 153.2 442.5 160.8C498.6 168.4 554.8 182.2 610.9 189.4C667.1 196.6 723.2 206.9 779.4 206.9" stroke="#4a1232"/>
<path d="M105.6 143.3C161.7 143.3 217.9 144.4 274 145.7C330.2 147 386.3 152.3 442.5 156.8C498.6 161.3 554.8 170.6 610.9 174.3C667.1 177.9 723.2 182.2 779.4 182.2" stroke="#4a1232"/>
<path d="M105.6 48.8C161.7 48.8 217.9 53.3 274 58.3C330.2 63.4 386.3 84.6 442.5 96.4C498.6 108.3 554.8 122.6 610.9 129.8C667.1 137 723.2 145.7 779.4 145.7" stroke="#4a1232"/>
<path d="M105.6 -1.8C161.7 -1.8 217.9 19.3 274 33.1C330.2 46.9 386.3 66.5 442.5 84C498.6 101.4 554.8 126.4 610.9 137.9C667.1 149.5 723.2 163.4 779.4 163.4" stroke="#4a1232"/>
<path d="M105.6 -109.7C161.7 -109.7 217.9 -58.1 274 -30.3C330.2 -2.6 386.3 36.9 442.5 57C498.6 77.1 554.8 99.2 610.9 103.1C667.1 106.9 723.2 109.7 779.4 109.7" stroke="#4a1232"/>
<path d="M105.6 466.2C132.6 466.2 159.5 465.2 186.5 463.9C215.7 462.4 244.9 453.8 274 448.8C330.2 439.2 386.3 429.8 442.5 420.2C498.6 410.5 554.8 402.2 610.9 390.8C640.1 384.9 669.3 375.7 698.5 370.2C725.5 365.1 752.4 357.5 779.4 357.5" stroke="#4a1232"/>
<path d="M105.6 462.2C161.7 462.2 217.9 453.2 274 446.3C330.2 439.4 386.3 424.3 442.5 416.1C498.6 408 554.8 401.5 610.9 395.5C667.1 389.5 723.2 379.6 779.4 379.6" stroke="#4a1232"/>
<path d="M105.6 539.1C161.7 539.1 217.9 532.6 274 526.4C330.2 520.2 386.3 504.3 442.5 491.5C498.6 478.6 554.8 459.6 610.9 448.6C667.1 437.5 723.2 421.6 779.4 421.6" stroke="#4a1232"/>
<path d="M105.6 447.2C161.7 447.2 217.9 448.9 274 450.4C330.2 451.8 386.3 454.6 442.5 456.7C498.6 458.8 554.8 461 610.9 463.1C667.1 465.1 723.2 469.1 779.4 469.1" stroke="#4a1232"/>
<path d="M105.6 544C161.7 544 217.9 540.9 274 537.7C330.2 534.4 386.3 525.4 442.5 517C498.6 508.7 554.8 490.7 610.9 485.3C667.1 479.8 723.2 474.1 779.4 474.1" stroke="#4a1232"/>
<path d="M105.6 550.2C161.7 550.2 217.9 547.6 274 545.4C330.2 543.2 386.3 538.6 442.5 534.3C498.6 529.9 554.8 521.4 610.9 518.4C667.1 515.4 723.2 512 779.4 512" stroke="#4a1232"/>
<path d="M105.6 569C161.7 569 217.9 567.3 274 565.8C330.2 564.3 386.3 560.2 442.5 557.8C498.6 555.5 554.8 551.9 610.9 551.5C667.1 551.1 723.2 550.9 779.4 550.9" stroke="#4a1232"/>
<path d="M105.6 535.6C161.7 535.6 217.9 532.6 274 529.2C330.2 525.8 386.3 509.5 442.5 503.8C498.6 498.2 554.8 496.1 610.9 491.1C667.1 486.1 723.2 472.8 779.4 472.8" stroke="#4a1232"/>
<path d="M105.6 548.4C161.7 548.4 217.9 545.9 274 543.6C330.2 541.4 386.3 535.9 442.5 532.5C498.6 529.1 554.8 524 610.9 523C667.1 521.9 723.2 521.1 779.4 521.1" stroke="#4a1232"/>
<path d="M105.6 604.4C161.7 604.4 217.9 600 274 596.5C330.2 592.9 386.3 586.6 442.5 580.6C498.6 574.6 554.8 564.6 610.9 559.9C667.1 555.3 723.2 549.5 779.4 549.5" stroke="#4a1232"/>
</g>
<rect x="105.6" y="45.4" width="673.8" height="508.3" fill="none" stroke="#1c1c1c" stroke-width="1.5"/>
<line x1="99.1" y1="537.7" x2="105.6" y2="537.7" stroke="#000" stroke-width="1.4"/>
<line x1="99.1" y1="458.3" x2="105.6" y2="458.3" stroke="#000" stroke-width="1.4"/>
<text x="92.3" y="468.2" text-anchor="end" font-size="29.5" stroke="#000" stroke-width="0.5" stroke-linejoin="round">-1</text>
<line x1="99.1" y1="378.9" x2="105.6" y2="378.9" stroke="#000" stroke-width="1.4"/>
<line x1="99.1" y1="299.5" x2="105.6" y2="299.5" stroke="#000" stroke-width="1.4"/>
<text x="92.3" y="309.4" text-anchor="end" font-size="29.5" stroke="#000" stroke-width="0.5" stroke-linejoin="round">0</text>
<line x1="99.1" y1="220.1" x2="105.6" y2="220.1" stroke="#000" stroke-width="1.4"/>
<line x1="99.1" y1="140.7" x2="105.6" y2="140.7" stroke="#000" stroke-width="1.4"/>
<text x="92.3" y="150.6" text-anchor="end" font-size="29.5" stroke="#000" stroke-width="0.5" stroke-linejoin="round">1</text>
<line x1="99.1" y1="61.3" x2="105.6" y2="61.3" stroke="#000" stroke-width="1.4"/>
<line x1="105.6" y1="553.7" x2="105.6" y2="560.2" stroke="#000" stroke-width="1.4"/>
<line x1="779.4" y1="553.7" x2="779.4" y2="560.2" stroke="#000" stroke-width="1.4"/>
<text x="96" y="592" font-size="34.5" stroke="#000" stroke-width="0.5" stroke-linejoin="round" textLength="21.4" lengthAdjust="spacingAndGlyphs">Z</text>
<text x="758.5" y="590.7" font-size="35" stroke="#000" stroke-width="0.5" stroke-linejoin="round" textLength="27.2" lengthAdjust="spacingAndGlyphs">G</text>
<text x="176.7" y="35" font-size="47.5" stroke="#000" stroke-width="0.5" stroke-linejoin="round" textLength="529.4" lengthAdjust="spacingAndGlyphs">Electronic band structure</text>
<text x="53.7" y="422.5" font-size="48" stroke="#000" stroke-width="0.5" stroke-linejoin="round" textLength="257.2" lengthAdjust="spacingAndGlyphs" transform="rotate(-90 53.7 422.5)">Energy (eV)</text>
<text x="304.3" y="599.5" font-size="45.5" stroke="#000" stroke-width="0.5" stroke-linejoin="round" textLength="268.4" lengthAdjust="spacingAndGlyphs">Stress (GPa)</text>
<g shape-rendering="crispEdges">
<rect x="195" y="608.4" width="10.9" height="41.6" fill="#2c2448"/>
<rect x="205.3" y="608.4" width="10.9" height="41.6" fill="#302850"/>
<rect x="215.6" y="608.4" width="10.9" height="41.6" fill="#362d5e"/>
<rect x="225.8" y="608.4" width="10.9" height="41.6" fill="#3f3470"/>
<rect x="236.1" y="608.4" width="10.9" height="41.6" fill="#4a3d86"/>
<rect x="246.4" y="608.4" width="10.9" height="41.6" fill="#584a9c"/>
<rect x="256.7" y="608.4" width="10.9" height="41.6" fill="#5c54ab"/>
<rect x="267" y="608.4" width="10.9" height="41.6" fill="#585cb1"/>
<rect x="277.2" y="608.4" width="10.9" height="41.6" fill="#5165b6"/>
<rect x="287.5" y="608.4" width="10.9" height="41.6" fill="#486eb9"/>
<rect x="297.8" y="608.4" width="10.9" height="41.6" fill="#3f78bd"/>
<rect x="308.1" y="608.4" width="10.9" height="41.6" fill="#3c80be"/>
<rect x="318.4" y="608.4" width="10.9" height="41.6" fill="#3889c0"/>
<rect x="328.6" y="608.4" width="10.9" height="41.6" fill="#3d96b9"/>
<rect x="338.9" y="608.4" width="10.9" height="41.6" fill="#45a2b1"/>
<rect x="349.2" y="608.4" width="10.9" height="41.6" fill="#50afa8"/>
<rect x="359.5" y="608.4" width="10.9" height="41.6" fill="#5bb8a2"/>
<rect x="369.8" y="608.4" width="10.9" height="41.6" fill="#66c0a1"/>
<rect x="380" y="608.4" width="10.9" height="41.6" fill="#75c6a2"/>
<rect x="390.3" y="608.4" width="10.9" height="41.6" fill="#86cda6"/>
<rect x="400.6" y="608.4" width="10.9" height="41.6" fill="#99d4aa"/>
<rect x="410.9" y="608.4" width="10.9" height="41.6" fill="#aedeae"/>
<rect x="421.2" y="608.4" width="10.9" height="41.6" fill="#c3e6b0"/>
<rect x="431.4" y="608.4" width="10.9" height="41.6" fill="#d9efb2"/>
<rect x="441.7" y="608.4" width="10.9" height="41.6" fill="#f0f4b0"/>
<rect x="452" y="608.4" width="10.9" height="41.6" fill="#fcf0a7"/>
<rect x="462.3" y="608.4" width="10.9" height="41.6" fill="#fde49a"/>
<rect x="472.6" y="608.4" width="10.9" height="41.6" fill="#fdd386"/>
<rect x="482.8" y="608.4" width="10.9" height="41.6" fill="#fcc476"/>
<rect x="493.1" y="608.4" width="10.9" height="41.6" fill="#fcb76b"/>
<rect x="503.4" y="608.4" width="10.9" height="41.6" fill="#faaa62"/>
<rect x="513.7" y="608.4" width="10.9" height="41.6" fill="#faa05b"/>
<rect x="524" y="608.4" width="10.9" height="41.6" fill="#f89355"/>
<rect x="534.2" y="608.4" width="10.9" height="41.6" fill="#f7864e"/>
<rect x="544.5" y="608.4" width="10.9" height="41.6" fill="#f47a4b"/>
<rect x="554.8" y="608.4" width="10.9" height="41.6" fill="#f16f4a"/>
<rect x="565.1" y="608.4" width="10.9" height="41.6" fill="#ec654b"/>
<rect x="575.4" y="608.4" width="10.9" height="41.6" fill="#e85b4d"/>
<rect x="585.6" y="608.4" width="10.9" height="41.6" fill="#e2524f"/>
<rect x="595.9" y="608.4" width="10.9" height="41.6" fill="#dd4a52"/>
<rect x="606.2" y="608.4" width="10.9" height="41.6" fill="#d64054"/>
<rect x="616.5" y="608.4" width="10.9" height="41.6" fill="#cd3555"/>
<rect x="626.8" y="608.4" width="10.9" height="41.6" fill="#c22754"/>
<rect x="637" y="608.4" width="10.9" height="41.6" fill="#b51650"/>
<rect x="647.3" y="608.4" width="10.9" height="41.6" fill="#a30b49"/>
<rect x="657.6" y="608.4" width="10.9" height="41.6" fill="#8e0640"/>
<rect x="667.9" y="608.4" width="10.9" height="41.6" fill="#760735"/>
<rect x="678.2" y="608.4" width="10.9" height="41.6" fill="#60092c"/>
<rect x="688.4" y="608.4" width="10.9" height="41.6" fill="#4c0a26"/>
<rect x="698.7" y="608.4" width="10.9" height="41.6" fill="#400a23"/>
</g>
<rect x="195.8" y="609.2" width="512.4" height="40" fill="none" stroke="#0a0614" stroke-width="1.9"/>
<line x1="203.6" y1="650" x2="203.6" y2="652.2" stroke="#000" stroke-width="1.6"/>
<line x1="451" y1="650" x2="451" y2="652.2" stroke="#000" stroke-width="1.6"/>
<line x1="697.5" y1="650" x2="697.5" y2="652.2" stroke="#000" stroke-width="1.6"/>
<text x="97.2" y="648.3" font-size="48.5" stroke="#000" stroke-width="0.5" stroke-linejoin="round" textLength="84.9" lengthAdjust="spacingAndGlyphs">-1.5</text>
<text x="731.3" y="645.5" font-size="48.5" stroke="#000" stroke-width="0.5" stroke-linejoin="round" textLength="27.8" lengthAdjust="spacingAndGlyphs">3</text>
<text x="12.8" y="94.8" font-size="84" stroke="#000" stroke-width="1.3" stroke-linejoin="round" textLength="42.4" lengthAdjust="spacingAndGlyphs">a</text>
<line x1="1005.2" y1="299.5" x2="1637.6" y2="299.5" stroke="#3f9c44" stroke-width="1.9" stroke-dasharray="2 2.55"/>
<line x1="1670.6" y1="299.5" x2="1678.1" y2="299.5" stroke="#3f9c44" stroke-width="1.9" stroke-dasharray="2 2.55"/>
<text x="1645" y="303.6" font-size="21" font-style="italic" fill="#111" stroke="#111" stroke-width="0.4" font-family="'DejaVu Sans', 'Liberation Sans', sans-serif">ε<tspan font-size="13.5" font-style="normal" dy="3">F</tspan></text>
<g class="bd" clip-path="url(#clb)" stroke-width="1.25">
<path d="M1004.2 67.7C1069.4 58.9 1134.6 50.2 1199.8 41.4C1269.5 32.1 1339.2 22.4 1408.8 13.7C1498.8 2.4 1588.7 -18.1 1678.6 -18.1" stroke="#0e5a78"/>
<path d="M1004.2 67.7C1069.4 72.9 1134.6 77.2 1199.8 77.2C1279.8 77.2 1359.8 72.1 1439.9 71.6C1519.4 71.2 1599 70.8 1678.6 70.8" stroke="#0e5a78"/>
<path d="M1004.2 130.2C1069.4 114.7 1134.6 101.2 1199.8 89.9C1247 81.7 1294.2 72.4 1341.4 68.4C1374.2 65.7 1407 63.4 1439.9 62.6C1474.5 61.7 1509.1 61.2 1543.7 61C1588.7 60.7 1633.6 60.5 1678.6 60.5" stroke="#0e5a78"/>
<path d="M1004.2 142.3C1069.4 137.7 1134.6 133.4 1199.8 129.6C1279.8 124.9 1359.8 121 1439.9 116.9C1519.4 112.8 1599 105 1678.6 105" stroke="#0e5a78"/>
<path d="M1004.2 145.5C1069.4 142 1134.6 139.1 1199.8 139.1C1279.8 139.1 1359.8 140.9 1439.9 142.3C1519.4 143.7 1599 148.6 1678.6 148.6" stroke="#0e5a78"/>
<path d="M1004.2 147.1C1069.4 147.1 1134.6 150.6 1199.8 151C1279.8 151.5 1359.8 151.8 1439.9 151.8C1519.4 151.8 1599 151.8 1678.6 151.8" stroke="#0e5a78"/>
<path d="M1004.2 144.7C1069.4 154.4 1134.6 163.7 1199.8 172.5C1279.8 183.2 1359.8 193.8 1439.9 202.8C1485.7 207.9 1531.6 214.9 1577.4 216.9C1611.2 218.4 1644.9 219.8 1678.6 219.8" stroke="#0e5a78"/>
<path d="M1004.2 443.2C1060.4 440.2 1116.6 433.8 1172.8 426.5C1229 419.3 1285.2 397.9 1341.4 394.8C1397.6 391.6 1453.8 390 1510 389.2C1566.2 388.5 1622.4 387.8 1678.6 387.8" stroke="#0e5a78"/>
<path d="M1004.2 454.3C1060.4 454.3 1116.6 451.3 1172.8 447.2C1229 443.1 1285.2 406 1341.4 401.1C1397.6 396.2 1453.8 393.6 1510 392.4C1566.2 391.2 1622.4 390 1678.6 390" stroke="#0e5a78"/>
<path d="M1004.2 448.8C1060.4 448.8 1116.6 447.2 1172.8 447.2C1229 447.2 1285.2 447.2 1341.4 447.2C1397.6 447.2 1453.8 450.4 1510 451.2C1566.2 451.9 1622.4 452.7 1678.6 452.7" stroke="#0e5a78"/>
<path d="M1004.2 454.3C1060.4 454.3 1116.6 452.6 1172.8 451.9C1229 451.3 1285.2 450.4 1341.4 450.4C1397.6 450.4 1453.8 451.9 1510 451.9C1566.2 451.9 1622.4 451.9 1678.6 451.9" stroke="#0e5a78"/>
<path d="M1004.2 451.9C1071.6 451.9 1139.1 468.6 1206.5 471C1251.5 472.6 1296.4 472.5 1341.4 474.2C1397.6 476.3 1453.8 485 1510 490.1C1566.2 495.1 1622.4 504.4 1678.6 504.4" stroke="#0e5a78"/>
<path d="M1004.2 463.1C1060.4 463.1 1116.6 474 1172.8 477.4C1229 480.8 1285.2 483.8 1341.4 485.3C1397.6 486.8 1453.8 488.5 1510 488.5C1566.2 488.5 1622.4 488.5 1678.6 488.5" stroke="#0e5a78"/>
<path d="M1004.2 487.4C1060.4 487.4 1116.6 495 1172.8 498C1229 501 1285.2 504.4 1341.4 505.9C1397.6 507.5 1453.8 508.7 1510 509.1C1566.2 509.5 1622.4 509.9 1678.6 509.9" stroke="#0e5a78"/>
<path d="M1004.2 516.3C1060.4 516.3 1116.6 501.2 1172.8 501.2C1229 501.2 1285.2 503.6 1341.4 505.9C1397.6 508.2 1453.8 517.7 1510 518.6C1566.2 519.6 1622.4 520.2 1678.6 520.2" stroke="#0e5a78"/>
<path d="M1004.2 535.3C1060.4 535.3 1116.6 535.7 1172.8 536.1C1229 536.6 1285.2 538.8 1341.4 540.9C1397.6 543 1453.8 547.9 1510 550.4C1566.2 552.9 1622.4 556.8 1678.6 556.8" stroke="#0e5a78"/>
<path d="M1004.2 487.4C1060.4 487.4 1116.6 496.7 1172.8 502.8C1229 508.8 1285.2 517.9 1341.4 525C1397.6 532.1 1453.8 544.2 1510 545.6C1566.2 547.1 1622.4 548 1678.6 548" stroke="#0e5a78"/>
<path d="M1004.2 521.8C1060.4 521.8 1116.6 525.3 1172.8 528.2C1229 531 1285.2 535.2 1341.4 540.9C1397.6 546.5 1453.8 559 1510 566.3C1566.2 573.5 1622.4 585.3 1678.6 585.3" stroke="#0e5a78"/>
<path d="M1004.2 550.4C1060.4 550.4 1116.6 550.8 1172.8 551.2C1229 551.6 1285.2 552.3 1341.4 553.6C1397.6 554.9 1453.8 560.6 1510 563.1C1566.2 565.6 1622.4 569.5 1678.6 569.5" stroke="#0e5a78"/>
<path d="M1004.2 67.9C1069.4 59.2 1134.6 50.5 1199.8 41.8C1269.5 32.6 1339.2 22.9 1408.8 14.2C1498.8 2.9 1588.7 -17.6 1678.6 -17.6" stroke="#17788c"/>
<path d="M1004.2 67.9C1069.4 73.2 1134.6 77.5 1199.8 77.5C1279.8 77.5 1359.8 72.4 1439.9 72C1519.4 71.6 1599 71.3 1678.6 71.3" stroke="#17788c"/>
<path d="M1004.2 130.6C1069.4 115.1 1134.6 101.7 1199.8 90.4C1247 82.2 1294.2 73 1341.4 69C1374.2 66.2 1407 63.8 1439.9 62.9C1474.5 62 1509.1 61.3 1543.7 61.1C1588.7 60.9 1633.6 60.7 1678.6 60.7" stroke="#17788c"/>
<path d="M1004.2 141.9C1069.4 137.1 1134.6 132.7 1199.8 128.6C1279.8 123.6 1359.8 119.2 1439.9 114.9C1519.4 110.6 1599 102.9 1678.6 102.9" stroke="#17788c"/>
<path d="M1004.2 145.1C1069.4 141.7 1134.6 138.5 1199.8 138.5C1279.8 138.5 1359.8 139.3 1439.9 140.2C1519.4 141.1 1599 146.4 1678.6 146.4" stroke="#17788c"/>
<path d="M1004.2 147.5C1069.4 147.5 1134.6 151.3 1199.8 151.6C1279.8 152.1 1359.8 152.4 1439.9 152.4C1519.4 152.4 1599 152.4 1678.6 152.4" stroke="#17788c"/>
<path d="M1004.2 144.9C1069.4 154.6 1134.6 163.9 1199.8 172.7C1279.8 183.5 1359.8 194.3 1439.9 203.3C1485.7 208.5 1531.6 215.3 1577.4 217.3C1611.2 218.8 1644.9 220.3 1678.6 220.3" stroke="#17788c"/>
<path d="M1004.2 440.9C1060.4 437.6 1116.6 431.4 1172.8 424.3C1229 417.1 1285.2 397.9 1341.4 394C1397.6 390.2 1453.8 387.8 1510 386.9C1566.2 386.1 1622.4 385.4 1678.6 385.4" stroke="#17788c"/>
<path d="M1004.2 451.9C1060.4 451.9 1116.6 448.9 1172.8 444.9C1229 440.9 1285.2 407.8 1341.4 401.9C1397.6 396.1 1453.8 392.9 1510 390.9C1566.2 388.9 1622.4 386.7 1678.6 386.7" stroke="#17788c"/>
<path d="M1004.2 448.8C1060.4 448.8 1116.6 447.6 1172.8 447.4C1229 447.1 1285.2 446.9 1341.4 446.9C1397.6 446.9 1453.8 449.4 1510 450C1566.2 450.6 1622.4 451.2 1678.6 451.2" stroke="#17788c"/>
<path d="M1004.2 453.8C1060.4 453.8 1116.6 452.2 1172.8 451.5C1229 450.8 1285.2 449.5 1341.4 449.5C1397.6 449.5 1453.8 450.7 1510 450.7C1566.2 450.7 1622.4 450.7 1678.6 450.7" stroke="#17788c"/>
<path d="M1004.2 452.1C1071.6 452.1 1139.1 468 1206.5 469.9C1251.5 471.2 1296.4 471 1341.4 472.3C1397.6 473.9 1453.8 483 1510 487.9C1566.2 492.7 1622.4 501.4 1678.6 501.4" stroke="#17788c"/>
<path d="M1004.2 462.8C1060.4 462.8 1116.6 473.9 1172.8 477.4C1229 481 1285.2 484.2 1341.4 485.7C1397.6 487.2 1453.8 488.7 1510 488.7C1566.2 488.7 1622.4 488.7 1678.6 488.7" stroke="#17788c"/>
<path d="M1004.2 487.5C1060.4 487.5 1116.6 495.1 1172.8 498.1C1229 501.2 1285.2 504.8 1341.4 506.2C1397.6 507.7 1453.8 508.7 1510 509.2C1566.2 509.7 1622.4 510.2 1678.6 510.2" stroke="#17788c"/>
<path d="M1004.2 516.6C1060.4 516.6 1116.6 501.5 1172.8 501.5C1229 501.5 1285.2 503.9 1341.4 506.2C1397.6 508.4 1453.8 518 1510 518.8C1566.2 519.7 1622.4 520.3 1678.6 520.3" stroke="#17788c"/>
<path d="M1004.2 534.8C1060.4 534.8 1116.6 535.2 1172.8 535.7C1229 536.2 1285.2 538.3 1341.4 540.4C1397.6 542.5 1453.8 547.6 1510 550.2C1566.2 552.8 1622.4 556.8 1678.6 556.8" stroke="#17788c"/>
<path d="M1004.2 487.5C1060.4 487.5 1116.6 496.8 1172.8 502.9C1229 509 1285.2 518.2 1341.4 525.4C1397.6 532.6 1453.8 544.6 1510 546C1566.2 547.4 1622.4 548.3 1678.6 548.3" stroke="#17788c"/>
<path d="M1004.2 521.9C1060.4 521.9 1116.6 525.6 1172.8 528.5C1229 531.4 1285.2 535.6 1341.4 541.3C1397.6 546.9 1453.8 559.3 1510 566.4C1566.2 573.5 1622.4 584.9 1678.6 584.9" stroke="#17788c"/>
<path d="M1004.2 549.6C1060.4 549.6 1116.6 550 1172.8 550.5C1229 550.9 1285.2 551.7 1341.4 553.1C1397.6 554.5 1453.8 560.3 1510 562.9C1566.2 565.5 1622.4 569.5 1678.6 569.5" stroke="#17788c"/>
<path d="M1004.2 68.2C1069.4 59.5 1134.6 50.9 1199.8 42.2C1269.5 33 1339.2 23.4 1408.8 14.7C1498.8 3.5 1588.7 -17.1 1678.6 -17.1" stroke="#2696a1"/>
<path d="M1004.2 68.2C1069.4 73.5 1134.6 77.8 1199.8 77.8C1279.8 77.8 1359.8 72.7 1439.9 72.3C1519.4 72 1599 71.8 1678.6 71.8" stroke="#2696a1"/>
<path d="M1004.2 131C1069.4 115.6 1134.6 102.2 1199.8 91C1247 82.8 1294.2 73.6 1341.4 69.5C1374.2 66.6 1407 64.3 1439.9 63.3C1474.5 62.3 1509.1 61.5 1543.7 61.3C1588.7 61.1 1633.6 60.9 1678.6 60.9" stroke="#2696a1"/>
<path d="M1004.2 141.6C1069.4 136.7 1134.6 132.1 1199.8 127.8C1279.8 122.6 1359.8 117.6 1439.9 113.2C1519.4 108.8 1599 101.2 1678.6 101.2" stroke="#2696a1"/>
<path d="M1004.2 144.9C1069.4 141.5 1134.6 137.9 1199.8 137.9C1279.8 137.9 1359.8 138.1 1439.9 138.3C1519.4 138.6 1599 144.4 1678.6 144.4" stroke="#2696a1"/>
<path d="M1004.2 148C1069.4 148 1134.6 151.9 1199.8 152.3C1279.8 152.7 1359.8 153 1439.9 153C1519.4 153 1599 153 1678.6 153" stroke="#2696a1"/>
<path d="M1004.2 145.1C1069.4 154.8 1134.6 164.2 1199.8 173C1279.8 183.8 1359.8 194.9 1439.9 203.9C1485.7 209 1531.6 215.7 1577.4 217.8C1611.2 219.3 1644.9 220.8 1678.6 220.8" stroke="#2696a1"/>
<path d="M1004.2 438.6C1060.4 435.2 1116.6 429.1 1172.8 422.1C1229 415.1 1285.2 397.7 1341.4 393.3C1397.6 388.9 1453.8 385.7 1510 384.8C1566.2 383.9 1622.4 383.2 1678.6 383.2" stroke="#2696a1"/>
<path d="M1004.2 449.4C1060.4 449.4 1116.6 446.5 1172.8 442.7C1229 438.9 1285.2 409.4 1341.4 402.8C1397.6 396.3 1453.8 392.4 1510 389.7C1566.2 387.1 1622.4 384 1678.6 384" stroke="#2696a1"/>
<path d="M1004.2 448.9C1060.4 448.9 1116.6 448 1172.8 447.6C1229 447.2 1285.2 446.6 1341.4 446.6C1397.6 446.6 1453.8 448.5 1510 448.9C1566.2 449.3 1622.4 449.6 1678.6 449.6" stroke="#2696a1"/>
<path d="M1004.2 453.4C1060.4 453.4 1116.6 451.9 1172.8 451.1C1229 450.4 1285.2 448.8 1341.4 448.8C1397.6 448.8 1453.8 449.6 1510 449.6C1566.2 449.6 1622.4 449.6 1678.6 449.6" stroke="#2696a1"/>
<path d="M1004.2 452.4C1071.6 452.4 1139.1 467.5 1206.5 468.9C1251.5 469.7 1296.4 469.5 1341.4 470.5C1397.6 471.6 1453.8 481.1 1510 485.7C1566.2 490.4 1622.4 498.5 1678.6 498.5" stroke="#2696a1"/>
<path d="M1004.2 462.7C1060.4 462.7 1116.6 474 1172.8 477.6C1229 481.3 1285.2 484.8 1341.4 486.2C1397.6 487.6 1453.8 488.9 1510 488.9C1566.2 488.9 1622.4 488.9 1678.6 488.9" stroke="#2696a1"/>
<path d="M1004.2 487.7C1060.4 487.7 1116.6 495.2 1172.8 498.3C1229 501.4 1285.2 505.2 1341.4 506.6C1397.6 507.9 1453.8 508.7 1510 509.3C1566.2 509.8 1622.4 510.4 1678.6 510.4" stroke="#2696a1"/>
<path d="M1004.2 517C1060.4 517 1116.6 501.9 1172.8 501.9C1229 501.9 1285.2 504.2 1341.4 506.4C1397.6 508.6 1453.8 518.2 1510 519.1C1566.2 519.9 1622.4 520.5 1678.6 520.5" stroke="#2696a1"/>
<path d="M1004.2 534.3C1060.4 534.3 1116.6 534.8 1172.8 535.3C1229 535.9 1285.2 537.9 1341.4 540C1397.6 542.1 1453.8 547.3 1510 550C1566.2 552.7 1622.4 556.8 1678.6 556.8" stroke="#2696a1"/>
<path d="M1004.2 487.7C1060.4 487.7 1116.6 497 1172.8 503.1C1229 509.2 1285.2 518.7 1341.4 525.9C1397.6 533 1453.8 545 1510 546.3C1566.2 547.7 1622.4 548.6 1678.6 548.6" stroke="#2696a1"/>
<path d="M1004.2 522.1C1060.4 522.1 1116.6 525.8 1172.8 528.8C1229 531.7 1285.2 536.1 1341.4 541.7C1397.6 547.4 1453.8 559.7 1510 566.6C1566.2 573.6 1622.4 584.6 1678.6 584.6" stroke="#2696a1"/>
<path d="M1004.2 548.8C1060.4 548.8 1116.6 549.3 1172.8 549.8C1229 550.3 1285.2 551.2 1341.4 552.7C1397.6 554.2 1453.8 560 1510 562.7C1566.2 565.4 1622.4 569.5 1678.6 569.5" stroke="#2696a1"/>
<path d="M1004.2 68.3C1069.4 59.7 1134.6 51 1199.8 42.4C1269.5 33.2 1339.2 23.6 1408.8 14.9C1498.8 3.7 1588.7 -16.9 1678.6 -16.9" stroke="#4ab4b5"/>
<path d="M1004.2 68.3C1069.4 73.6 1134.6 78 1199.8 78C1279.8 78 1359.8 72.8 1439.9 72.5C1519.4 72.3 1599 72.1 1678.6 72.1" stroke="#4ab4b5"/>
<path d="M1004.2 131.2C1069.4 115.9 1134.6 102.5 1199.8 91.2C1247 83.1 1294.2 73.9 1341.4 69.8C1374.2 66.9 1407 64.5 1439.9 63.5C1474.5 62.4 1509.1 61.6 1543.7 61.4C1588.7 61.2 1633.6 61 1678.6 61" stroke="#4ab4b5"/>
<path d="M1004.2 141.5C1069.4 136.5 1134.6 131.8 1199.8 127.5C1279.8 122.1 1359.8 117 1439.9 112.5C1519.4 108.1 1599 100.5 1678.6 100.5" stroke="#4ab4b5"/>
<path d="M1004.2 144.8C1069.4 141.4 1134.6 137.8 1199.8 137.7C1279.8 137.6 1359.8 137.6 1439.9 137.6C1519.4 137.6 1599 143.5 1678.6 143.5" stroke="#4ab4b5"/>
<path d="M1004.2 148.2C1069.4 148.2 1134.6 152.2 1199.8 152.5C1279.8 153 1359.8 153.2 1439.9 153.2C1519.4 153.2 1599 153.2 1678.6 153.2" stroke="#4ab4b5"/>
<path d="M1004.2 145.3C1069.4 155 1134.6 164.3 1199.8 173.2C1279.8 184 1359.8 195.2 1439.9 204.1C1485.7 209.3 1531.6 215.9 1577.4 218C1611.2 219.5 1644.9 221.1 1678.6 221.1" stroke="#4ab4b5"/>
<path d="M1004.2 437.7C1060.4 434.1 1116.6 428.1 1172.8 421.2C1229 414.3 1285.2 397.5 1341.4 392.9C1397.6 388.4 1453.8 384.8 1510 383.9C1566.2 382.9 1622.4 382.2 1678.6 382.2" stroke="#4ab4b5"/>
<path d="M1004.2 448.3C1060.4 448.3 1116.6 445.5 1172.8 441.8C1229 438 1285.2 410.1 1341.4 403.3C1397.6 396.4 1453.8 392.2 1510 389.3C1566.2 386.4 1622.4 383 1678.6 383" stroke="#4ab4b5"/>
<path d="M1004.2 449.2C1060.4 449.2 1116.6 448.4 1172.8 447.9C1229 447.4 1285.2 446.2 1341.4 446.2C1397.6 446.2 1453.8 447.5 1510 447.7C1566.2 448 1622.4 448.2 1678.6 448.2" stroke="#4ab4b5"/>
<path d="M1004.2 453.1C1060.4 453.1 1116.6 451.6 1172.8 450.8C1229 450 1285.2 448.2 1341.4 448.2C1397.6 448.2 1453.8 448.6 1510 448.6C1566.2 448.6 1622.4 448.6 1678.6 448.6" stroke="#4ab4b5"/>
<path d="M1004.2 452.7C1071.6 452.7 1139.1 467.1 1206.5 467.9C1251.5 468.4 1296.4 468.2 1341.4 468.7C1397.6 469.4 1453.8 479.2 1510 483.6C1566.2 488.1 1622.4 495.7 1678.6 495.7" stroke="#4ab4b5"/>
<path d="M1004.2 462.7C1060.4 462.7 1116.6 474.1 1172.8 477.8C1229 481.4 1285.2 485 1341.4 486.4C1397.6 487.7 1453.8 489.1 1510 489.1C1566.2 489.1 1622.4 489 1678.6 489" stroke="#4ab4b5"/>
<path d="M1004.2 487.8C1060.4 487.8 1116.6 495.3 1172.8 498.4C1229 501.5 1285.2 505.4 1341.4 506.7C1397.6 508 1453.8 508.8 1510 509.3C1566.2 509.9 1622.4 510.5 1678.6 510.5" stroke="#4ab4b5"/>
<path d="M1004.2 517.2C1060.4 517.2 1116.6 502.1 1172.8 502.1C1229 502.1 1285.2 504.3 1341.4 506.5C1397.6 508.7 1453.8 518.4 1510 519.2C1566.2 520 1622.4 520.5 1678.6 520.5" stroke="#4ab4b5"/>
<path d="M1004.2 534.1C1060.4 534.1 1116.6 534.6 1172.8 535.2C1229 535.8 1285.2 537.7 1341.4 539.8C1397.6 541.9 1453.8 547.2 1510 549.9C1566.2 552.7 1622.4 556.8 1678.6 556.8" stroke="#4ab4b5"/>
<path d="M1004.2 487.8C1060.4 487.8 1116.6 497.1 1172.8 503.2C1229 509.3 1285.2 518.9 1341.4 526.1C1397.6 533.3 1453.8 545.2 1510 546.5C1566.2 547.8 1622.4 548.7 1678.6 548.7" stroke="#4ab4b5"/>
<path d="M1004.2 522.1C1060.4 522.1 1116.6 526 1172.8 528.9C1229 531.9 1285.2 536.3 1341.4 541.9C1397.6 547.6 1453.8 559.8 1510 566.7C1566.2 573.6 1622.4 584.5 1678.6 584.5" stroke="#4ab4b5"/>
<path d="M1004.2 548.4C1060.4 548.4 1116.6 549 1172.8 549.5C1229 550 1285.2 550.9 1341.4 552.5C1397.6 554 1453.8 559.9 1510 562.6C1566.2 565.4 1622.4 569.5 1678.6 569.5" stroke="#4ab4b5"/>
<path d="M1004.2 68.5C1069.4 59.8 1134.6 51.2 1199.8 42.6C1269.5 33.4 1339.2 23.8 1408.8 15.1C1498.8 3.9 1588.7 -16.6 1678.6 -16.6" stroke="#74cfc9"/>
<path d="M1004.2 68.5C1069.4 73.8 1134.6 78.2 1199.8 78.2C1279.8 78.2 1359.8 73 1439.9 72.8C1519.4 72.5 1599 72.4 1678.6 72.4" stroke="#74cfc9"/>
<path d="M1004.2 131.4C1069.4 116.1 1134.6 102.8 1199.8 91.5C1247 83.4 1294.2 74.2 1341.4 70C1374.2 67.1 1407 64.7 1439.9 63.6C1474.5 62.6 1509.1 61.7 1543.7 61.5C1588.7 61.3 1633.6 61.1 1678.6 61.1" stroke="#74cfc9"/>
<path d="M1004.2 141.4C1069.4 136.4 1134.6 131.6 1199.8 127.2C1279.8 121.8 1359.8 116.4 1439.9 111.9C1519.4 107.4 1599 99.8 1678.6 99.8" stroke="#74cfc9"/>
<path d="M1004.2 144.7C1069.4 141.4 1134.6 137.9 1199.8 137.6C1279.8 137.1 1359.8 136.9 1439.9 136.9C1519.4 136.9 1599 142.8 1678.6 142.8" stroke="#74cfc9"/>
<path d="M1004.2 148.4C1069.4 148.4 1134.6 152.5 1199.8 152.8C1279.8 153.2 1359.8 153.5 1439.9 153.5C1519.4 153.5 1599 153.5 1678.6 153.5" stroke="#74cfc9"/>
<path d="M1004.2 145.4C1069.4 155.1 1134.6 164.5 1199.8 173.3C1279.8 184.2 1359.8 195.4 1439.9 204.4C1485.7 209.5 1531.6 216.1 1577.4 218.2C1611.2 219.8 1644.9 221.3 1678.6 221.3" stroke="#74cfc9"/>
<path d="M1004.2 436.7C1060.4 433.1 1116.6 427.2 1172.8 420.3C1229 413.4 1285.2 397.4 1341.4 392.6C1397.6 387.8 1453.8 384 1510 383C1566.2 382 1622.4 381.2 1678.6 381.2" stroke="#74cfc9"/>
<path d="M1004.2 447.3C1060.4 447.3 1116.6 444.5 1172.8 440.8C1229 437.2 1285.2 410.8 1341.4 403.7C1397.6 396.7 1453.8 392.1 1510 389C1566.2 385.8 1622.4 382 1678.6 382" stroke="#74cfc9"/>
<path d="M1004.2 449.7C1060.4 449.7 1116.6 448.8 1172.8 448.2C1229 447.6 1285.2 445.8 1341.4 445.8C1397.6 445.8 1453.8 446.6 1510 446.6C1566.2 446.7 1622.4 446.7 1678.6 446.7" stroke="#74cfc9"/>
<path d="M1004.2 452.9C1060.4 452.9 1116.6 451.5 1172.8 450.7C1229 449.8 1285.2 447.8 1341.4 447.7C1397.6 447.7 1453.8 447.7 1510 447.7C1566.2 447.7 1622.4 447.7 1678.6 447.7" stroke="#74cfc9"/>
<path d="M1004.2 453.2C1071.6 453.2 1139.1 466.9 1206.5 467C1251.5 467.1 1296.4 467.1 1341.4 467.1C1397.6 467.2 1453.8 477.4 1510 481.6C1566.2 485.9 1622.4 493.1 1678.6 493.1" stroke="#74cfc9"/>
<path d="M1004.2 462.8C1060.4 462.8 1116.6 474.3 1172.8 477.9C1229 481.6 1285.2 485.3 1341.4 486.6C1397.6 487.9 1453.8 489.2 1510 489.2C1566.2 489.2 1622.4 489.2 1678.6 489.2" stroke="#74cfc9"/>
<path d="M1004.2 487.9C1060.4 487.9 1116.6 495.5 1172.8 498.6C1229 501.7 1285.2 505.6 1341.4 506.9C1397.6 508.2 1453.8 508.8 1510 509.4C1566.2 510 1622.4 510.6 1678.6 510.6" stroke="#74cfc9"/>
<path d="M1004.2 517.4C1060.4 517.4 1116.6 502.3 1172.8 502.3C1229 502.3 1285.2 504.5 1341.4 506.7C1397.6 508.9 1453.8 518.5 1510 519.3C1566.2 520.1 1622.4 520.6 1678.6 520.6" stroke="#74cfc9"/>
<path d="M1004.2 533.8C1060.4 533.8 1116.6 534.4 1172.8 535C1229 535.6 1285.2 537.5 1341.4 539.6C1397.6 541.7 1453.8 547.1 1510 549.9C1566.2 552.6 1622.4 556.8 1678.6 556.8" stroke="#74cfc9"/>
<path d="M1004.2 487.9C1060.4 487.9 1116.6 497.2 1172.8 503.3C1229 509.5 1285.2 519.1 1341.4 526.3C1397.6 533.5 1453.8 545.4 1510 546.7C1566.2 548 1622.4 548.8 1678.6 548.8" stroke="#74cfc9"/>
<path d="M1004.2 522.2C1060.4 522.2 1116.6 526.1 1172.8 529.1C1229 532.1 1285.2 536.5 1341.4 542.2C1397.6 547.9 1453.8 560 1510 566.8C1566.2 573.7 1622.4 584.4 1678.6 584.4" stroke="#74cfc9"/>
<path d="M1004.2 548.1C1060.4 548.1 1116.6 548.6 1172.8 549.2C1229 549.7 1285.2 550.7 1341.4 552.3C1397.6 553.9 1453.8 559.8 1510 562.6C1566.2 565.3 1622.4 569.5 1678.6 569.5" stroke="#74cfc9"/>
<path d="M1004.2 68.6C1069.4 60 1134.6 51.4 1199.8 42.8C1269.5 33.6 1339.2 24.1 1408.8 15.4C1498.8 4.2 1588.7 -16.4 1678.6 -16.4" stroke="#a6e6db"/>
<path d="M1004.2 68.6C1069.4 74 1134.6 78.4 1199.8 78.4C1279.8 78.4 1359.8 73.2 1439.9 73C1519.4 72.8 1599 72.7 1678.6 72.7" stroke="#a6e6db"/>
<path d="M1004.2 131.6C1069.4 116.4 1134.6 103.1 1199.8 91.8C1247 83.7 1294.2 74.5 1341.4 70.3C1374.2 67.4 1407 64.9 1439.9 63.8C1474.5 62.7 1509.1 61.9 1543.7 61.7C1588.7 61.4 1633.6 61.3 1678.6 61.3" stroke="#a6e6db"/>
<path d="M1004.2 141.3C1069.4 136.3 1134.6 131.5 1199.8 127C1279.8 121.5 1359.8 115.9 1439.9 111.4C1519.4 106.8 1599 99.3 1678.6 99.3" stroke="#a6e6db"/>
<path d="M1004.2 144.7C1069.4 141.3 1134.6 138 1199.8 137.4C1279.8 136.7 1359.8 136.2 1439.9 136.2C1519.4 136.2 1599 142.1 1678.6 142.1" stroke="#a6e6db"/>
<path d="M1004.2 148.7C1069.4 148.7 1134.6 152.8 1199.8 153.1C1279.8 153.5 1359.8 153.8 1439.9 153.8C1519.4 153.8 1599 153.8 1678.6 153.8" stroke="#a6e6db"/>
<path d="M1004.2 145.6C1069.4 155.3 1134.6 164.6 1199.8 173.5C1279.8 184.4 1359.8 195.7 1439.9 204.7C1485.7 209.8 1531.6 216.3 1577.4 218.5C1611.2 220 1644.9 221.6 1678.6 221.6" stroke="#a6e6db"/>
<path d="M1004.2 435.8C1060.4 432.1 1116.6 426.2 1172.8 419.4C1229 412.6 1285.2 397.2 1341.4 392.3C1397.6 387.3 1453.8 383.2 1510 382.1C1566.2 381.1 1622.4 380.3 1678.6 380.3" stroke="#a6e6db"/>
<path d="M1004.2 446.2C1060.4 446.2 1116.6 443.5 1172.8 439.9C1229 436.4 1285.2 411.4 1341.4 404.2C1397.6 397 1453.8 392 1510 388.7C1566.2 385.3 1622.4 381.2 1678.6 381.2" stroke="#a6e6db"/>
<path d="M1004.2 450.3C1060.4 450.3 1116.6 449.3 1172.8 448.6C1229 447.8 1285.2 445.4 1341.4 445.4C1397.6 445.4 1453.8 445.5 1510 445.5C1566.2 445.5 1622.4 445.3 1678.6 445.3" stroke="#a6e6db"/>
<path d="M1004.2 452.8C1060.4 452.8 1116.6 451.5 1172.8 450.6C1229 449.7 1285.2 447.6 1341.4 447.3C1397.6 447.1 1453.8 447 1510 447C1566.2 447 1622.4 447 1678.6 447" stroke="#a6e6db"/>
<path d="M1004.2 453.7C1071.6 453.7 1139.1 466.2 1206.5 466.2C1251.5 466.2 1296.4 465.6 1341.4 465.6C1397.6 465.6 1453.8 475.6 1510 479.7C1566.2 483.8 1622.4 490.5 1678.6 490.5" stroke="#a6e6db"/>
<path d="M1004.2 462.9C1060.4 462.9 1116.6 474.4 1172.8 478.1C1229 481.8 1285.2 485.5 1341.4 486.8C1397.6 488.1 1453.8 489.4 1510 489.4C1566.2 489.4 1622.4 489.3 1678.6 489.3" stroke="#a6e6db"/>
<path d="M1004.2 488C1060.4 488 1116.6 495.6 1172.8 498.7C1229 501.8 1285.2 505.8 1341.4 507C1397.6 508.3 1453.8 508.9 1510 509.5C1566.2 510 1622.4 510.8 1678.6 510.8" stroke="#a6e6db"/>
<path d="M1004.2 517.6C1060.4 517.6 1116.6 502.5 1172.8 502.5C1229 502.5 1285.2 504.7 1341.4 506.8C1397.6 509 1453.8 518.6 1510 519.4C1566.2 520.2 1622.4 520.7 1678.6 520.7" stroke="#a6e6db"/>
<path d="M1004.2 533.6C1060.4 533.6 1116.6 534.2 1172.8 534.8C1229 535.5 1285.2 537.3 1341.4 539.4C1397.6 541.5 1453.8 547 1510 549.8C1566.2 552.5 1622.4 556.8 1678.6 556.8" stroke="#a6e6db"/>
<path d="M1004.2 488C1060.4 488 1116.6 497.3 1172.8 503.5C1229 509.6 1285.2 519.3 1341.4 526.5C1397.6 533.7 1453.8 545.5 1510 546.8C1566.2 548.1 1622.4 548.9 1678.6 548.9" stroke="#a6e6db"/>
<path d="M1004.2 522.3C1060.4 522.3 1116.6 526.2 1172.8 529.3C1229 532.3 1285.2 536.7 1341.4 542.4C1397.6 548.1 1453.8 560.2 1510 567C1566.2 573.8 1622.4 584.4 1678.6 584.4" stroke="#a6e6db"/>
<path d="M1004.2 547.7C1060.4 547.7 1116.6 548.3 1172.8 548.9C1229 549.4 1285.2 550.5 1341.4 552.1C1397.6 553.8 1453.8 559.7 1510 562.5C1566.2 565.3 1622.4 569.5 1678.6 569.5" stroke="#a6e6db"/>
<path d="M1004.2 68.8C1069.4 60.2 1134.6 51.6 1199.8 43C1269.5 33.9 1339.2 24.3 1408.8 15.6C1498.8 4.5 1588.7 -16.1 1678.6 -16.1" stroke="#cde9d1"/>
<path d="M1004.2 68.8C1069.4 74.1 1134.6 78.6 1199.8 78.6C1279.8 78.6 1359.8 73.4 1439.9 73.2C1519.4 73.1 1599 73 1678.6 73" stroke="#cde9d1"/>
<path d="M1004.2 131.8C1069.4 116.7 1134.6 103.4 1199.8 92.1C1247 84 1294.2 74.9 1341.4 70.6C1374.2 67.6 1407 65.1 1439.9 64C1474.5 62.9 1509.1 62 1543.7 61.8C1588.7 61.6 1633.6 61.4 1678.6 61.4" stroke="#cde9d1"/>
<path d="M1004.2 141.2C1069.4 136.2 1134.6 131.4 1199.8 126.8C1279.8 121.2 1359.8 115.5 1439.9 110.9C1519.4 106.3 1599 98.7 1678.6 98.7" stroke="#cde9d1"/>
<path d="M1004.2 144.7C1069.4 141.3 1134.6 138.1 1199.8 137.3C1279.8 136.3 1359.8 135.6 1439.9 135.6C1519.4 135.6 1599 141.4 1678.6 141.4" stroke="#cde9d1"/>
<path d="M1004.2 148.9C1069.4 148.9 1134.6 153.1 1199.8 153.4C1279.8 153.8 1359.8 154.1 1439.9 154.1C1519.4 154.1 1599 154.1 1678.6 154.1" stroke="#cde9d1"/>
<path d="M1004.2 145.8C1069.4 155.5 1134.6 164.8 1199.8 173.7C1279.8 184.6 1359.8 196 1439.9 204.9C1485.7 210.1 1531.6 216.6 1577.4 218.7C1611.2 220.3 1644.9 221.9 1678.6 221.9" stroke="#cde9d1"/>
<path d="M1004.2 434.9C1060.4 431.1 1116.6 425.3 1172.8 418.5C1229 411.8 1285.2 397 1341.4 391.9C1397.6 386.9 1453.8 382.4 1510 381.3C1566.2 380.2 1622.4 379.3 1678.6 379.3" stroke="#cde9d1"/>
<path d="M1004.2 445.1C1060.4 445.1 1116.6 442.5 1172.8 439.1C1229 435.6 1285.2 412 1341.4 404.7C1397.6 397.3 1453.8 392 1510 388.5C1566.2 384.9 1622.4 380.5 1678.6 380.5" stroke="#cde9d1"/>
<path d="M1004.2 451C1060.4 451 1116.6 449.9 1172.8 449C1229 448.1 1285.2 445.3 1341.4 445C1397.6 444.7 1453.8 444.6 1510 444.5C1566.2 444.3 1622.4 443.9 1678.6 443.9" stroke="#cde9d1"/>
<path d="M1004.2 452.9C1060.4 452.9 1116.6 451.5 1172.8 450.6C1229 449.6 1285.2 447.4 1341.4 447.1C1397.6 446.7 1453.8 446.4 1510 446.4C1566.2 446.4 1622.4 446.4 1678.6 446.4" stroke="#cde9d1"/>
<path d="M1004.2 454.2C1071.6 454.2 1139.1 465.5 1206.5 465.5C1251.5 465.5 1296.4 464.1 1341.4 464.1C1397.6 464.1 1453.8 473.9 1510 477.8C1566.2 481.7 1622.4 488.1 1678.6 488.1" stroke="#cde9d1"/>
<path d="M1004.2 463C1060.4 463 1116.6 474.6 1172.8 478.3C1229 482.1 1285.2 485.8 1341.4 487.1C1397.6 488.3 1453.8 489.5 1510 489.5C1566.2 489.5 1622.4 489.5 1678.6 489.5" stroke="#cde9d1"/>
<path d="M1004.2 488.1C1060.4 488.1 1116.6 495.7 1172.8 498.9C1229 502 1285.2 506 1341.4 507.2C1397.6 508.4 1453.8 509 1510 509.5C1566.2 510.1 1622.4 510.9 1678.6 510.9" stroke="#cde9d1"/>
<path d="M1004.2 517.8C1060.4 517.8 1116.6 502.8 1172.8 502.8C1229 502.8 1285.2 504.9 1341.4 507C1397.6 509.1 1453.8 518.8 1510 519.5C1566.2 520.3 1622.4 520.8 1678.6 520.8" stroke="#cde9d1"/>
<path d="M1004.2 533.4C1060.4 533.4 1116.6 534 1172.8 534.7C1229 535.3 1285.2 537.1 1341.4 539.2C1397.6 541.4 1453.8 546.9 1510 549.7C1566.2 552.5 1622.4 556.8 1678.6 556.8" stroke="#cde9d1"/>
<path d="M1004.2 488.1C1060.4 488.1 1116.6 497.4 1172.8 503.6C1229 509.8 1285.2 519.6 1341.4 526.8C1397.6 534 1453.8 545.7 1510 547C1566.2 548.2 1622.4 549.1 1678.6 549.1" stroke="#cde9d1"/>
<path d="M1004.2 522.3C1060.4 522.3 1116.6 526.3 1172.8 529.4C1229 532.5 1285.2 536.9 1341.4 542.7C1397.6 548.4 1453.8 560.4 1510 567.1C1566.2 573.9 1622.4 584.4 1678.6 584.4" stroke="#cde9d1"/>
<path d="M1004.2 547.4C1060.4 547.4 1116.6 548 1172.8 548.6C1229 549.2 1285.2 550.2 1341.4 551.9C1397.6 553.6 1453.8 559.6 1510 562.4C1566.2 565.2 1622.4 569.5 1678.6 569.5" stroke="#cde9d1"/>
<path d="M1004.2 68.9C1069.4 60.3 1134.6 51.8 1199.8 43.2C1269.5 34.1 1339.2 24.5 1408.8 15.9C1498.8 4.7 1588.7 -15.9 1678.6 -15.9" stroke="#efe4bd"/>
<path d="M1004.2 68.9C1069.4 74.3 1134.6 78.8 1199.8 78.8C1279.8 78.8 1359.8 73.6 1439.9 73.5C1519.4 73.4 1599 73.3 1678.6 73.3" stroke="#efe4bd"/>
<path d="M1004.2 132C1069.4 117 1134.6 103.7 1199.8 92.5C1247 84.3 1294.2 75.2 1341.4 70.9C1374.2 67.9 1407 65.3 1439.9 64.2C1474.5 63 1509.1 62.1 1543.7 61.9C1588.7 61.7 1633.6 61.5 1678.6 61.5" stroke="#efe4bd"/>
<path d="M1004.2 141.2C1069.4 136.1 1134.6 131.2 1199.8 126.6C1279.8 120.9 1359.8 115.1 1439.9 110.4C1519.4 105.8 1599 98.3 1678.6 98.3" stroke="#efe4bd"/>
<path d="M1004.2 144.7C1069.4 141.3 1134.6 138.2 1199.8 137.2C1279.8 136 1359.8 135.1 1439.9 135.1C1519.4 135.1 1599 140.8 1678.6 140.8" stroke="#efe4bd"/>
<path d="M1004.2 149.2C1069.4 149.2 1134.6 153.4 1199.8 153.7C1279.8 154.1 1359.8 154.4 1439.9 154.4C1519.4 154.4 1599 154.4 1678.6 154.4" stroke="#efe4bd"/>
<path d="M1004.2 146C1069.4 155.7 1134.6 165 1199.8 173.9C1279.8 184.8 1359.8 196.3 1439.9 205.2C1485.7 210.3 1531.6 216.8 1577.4 219C1611.2 220.5 1644.9 222.1 1678.6 222.1" stroke="#efe4bd"/>
<path d="M1004.2 434C1060.4 430.2 1116.6 424.4 1172.8 417.7C1229 411 1285.2 396.8 1341.4 391.6C1397.6 386.4 1453.8 381.6 1510 380.5C1566.2 379.3 1622.4 378.4 1678.6 378.4" stroke="#efe4bd"/>
<path d="M1004.2 444.1C1060.4 444.1 1116.6 441.5 1172.8 438.2C1229 434.9 1285.2 412.6 1341.4 405.2C1397.6 397.7 1453.8 392.1 1510 388.3C1566.2 384.5 1622.4 379.8 1678.6 379.8" stroke="#efe4bd"/>
<path d="M1004.2 451.8C1060.4 451.8 1116.6 450.5 1172.8 449.5C1229 448.4 1285.2 445.1 1341.4 444.5C1397.6 443.9 1453.8 443.7 1510 443.4C1566.2 443.1 1622.4 442.6 1678.6 442.6" stroke="#efe4bd"/>
<path d="M1004.2 453.1C1060.4 453.1 1116.6 451.6 1172.8 450.7C1229 449.7 1285.2 447.4 1341.4 446.9C1397.6 446.4 1453.8 446 1510 446C1566.2 446 1622.4 446 1678.6 446" stroke="#efe4bd"/>
<path d="M1004.2 454.9C1071.6 454.9 1139.1 464.8 1206.5 464.8C1251.5 464.8 1296.4 462.8 1341.4 462.8C1397.6 462.8 1453.8 472.3 1510 476C1566.2 479.7 1622.4 485.7 1678.6 485.7" stroke="#efe4bd"/>
<path d="M1004.2 463.1C1060.4 463.1 1116.6 474.9 1172.8 478.6C1229 482.3 1285.2 486.1 1341.4 487.3C1397.6 488.6 1453.8 489.7 1510 489.7C1566.2 489.7 1622.4 489.7 1678.6 489.7" stroke="#efe4bd"/>
<path d="M1004.2 488.3C1060.4 488.3 1116.6 495.9 1172.8 499C1229 502.2 1285.2 506.2 1341.4 507.4C1397.6 508.5 1453.8 509.1 1510 509.6C1566.2 510.2 1622.4 511 1678.6 511" stroke="#efe4bd"/>
<path d="M1004.2 518C1060.4 518 1116.6 503 1172.8 503C1229 503 1285.2 505.1 1341.4 507.2C1397.6 509.2 1453.8 518.9 1510 519.7C1566.2 520.4 1622.4 520.8 1678.6 520.8" stroke="#efe4bd"/>
<path d="M1004.2 533.2C1060.4 533.2 1116.6 533.8 1172.8 534.5C1229 535.2 1285.2 536.9 1341.4 539.1C1397.6 541.2 1453.8 546.8 1510 549.6C1566.2 552.4 1622.4 556.8 1678.6 556.8" stroke="#efe4bd"/>
<path d="M1004.2 488.3C1060.4 488.3 1116.6 497.6 1172.8 503.8C1229 510 1285.2 519.8 1341.4 527C1397.6 534.2 1453.8 545.9 1510 547.2C1566.2 548.4 1622.4 549.2 1678.6 549.2" stroke="#efe4bd"/>
<path d="M1004.2 522.4C1060.4 522.4 1116.6 526.5 1172.8 529.6C1229 532.7 1285.2 537.2 1341.4 542.9C1397.6 548.6 1453.8 560.6 1510 567.3C1566.2 574 1622.4 584.3 1678.6 584.3" stroke="#efe4bd"/>
<path d="M1004.2 547C1060.4 547 1116.6 547.7 1172.8 548.3C1229 548.9 1285.2 550 1341.4 551.8C1397.6 553.5 1453.8 559.5 1510 562.3C1566.2 565.1 1622.4 569.5 1678.6 569.5" stroke="#efe4bd"/>
<path d="M1004.2 69.1C1069.4 60.5 1134.6 52 1199.8 43.4C1269.5 34.3 1339.2 24.8 1408.8 16.1C1498.8 5 1588.7 -15.6 1678.6 -15.6" stroke="#f2cb6c"/>
<path d="M1004.2 69.1C1069.4 74.5 1134.6 79 1199.8 79C1279.8 79 1359.8 73.8 1439.9 73.7C1519.4 73.7 1599 73.7 1678.6 73.7" stroke="#f2cb6c"/>
<path d="M1004.2 132.3C1069.4 117.3 1134.6 104.1 1199.8 92.8C1247 84.7 1294.2 75.6 1341.4 71.2C1374.2 68.1 1407 65.5 1439.9 64.4C1474.5 63.2 1509.1 62.3 1543.7 62.1C1588.7 61.9 1633.6 61.7 1678.6 61.7" stroke="#f2cb6c"/>
<path d="M1004.2 141.2C1069.4 136.1 1134.6 131.2 1199.8 126.5C1279.8 120.7 1359.8 114.7 1439.9 110C1519.4 105.4 1599 97.9 1678.6 97.9" stroke="#f2cb6c"/>
<path d="M1004.2 144.7C1069.4 141.4 1134.6 138.3 1199.8 137.1C1279.8 135.8 1359.8 134.6 1439.9 134.6C1519.4 134.6 1599 140.2 1678.6 140.2" stroke="#f2cb6c"/>
<path d="M1004.2 149.4C1069.4 149.4 1134.6 153.7 1199.8 154C1279.8 154.4 1359.8 154.7 1439.9 154.7C1519.4 154.7 1599 154.7 1678.6 154.7" stroke="#f2cb6c"/>
<path d="M1004.2 146.2C1069.4 155.9 1134.6 165.2 1199.8 174.1C1279.8 185.1 1359.8 196.6 1439.9 205.5C1485.7 210.6 1531.6 217.1 1577.4 219.2C1611.2 220.8 1644.9 222.4 1678.6 222.4" stroke="#f2cb6c"/>
<path d="M1004.2 433.1C1060.4 429.2 1116.6 423.5 1172.8 416.8C1229 410.2 1285.2 396.6 1341.4 391.2C1397.6 385.9 1453.8 380.9 1510 379.7C1566.2 378.5 1622.4 377.5 1678.6 377.5" stroke="#f2cb6c"/>
<path d="M1004.2 443C1060.4 443 1116.6 440.6 1172.8 437.4C1229 434.2 1285.2 413.2 1341.4 405.7C1397.6 398.2 1453.8 392.2 1510 388.2C1566.2 384.3 1622.4 379.3 1678.6 379.3" stroke="#f2cb6c"/>
<path d="M1004.2 452.8C1060.4 452.8 1116.6 451.3 1172.8 450C1229 448.7 1285.2 444.9 1341.4 444C1397.6 443.2 1453.8 442.8 1510 442.3C1566.2 441.9 1622.4 441.3 1678.6 441.3" stroke="#f2cb6c"/>
<path d="M1004.2 453.4C1060.4 453.4 1116.6 451.9 1172.8 450.8C1229 449.8 1285.2 447.4 1341.4 446.8C1397.6 446.2 1453.8 445.7 1510 445.7C1566.2 445.7 1622.4 445.7 1678.6 445.7" stroke="#f2cb6c"/>
<path d="M1004.2 455.6C1071.6 455.6 1139.1 464.3 1206.5 464.3C1251.5 464.3 1296.4 461.5 1341.4 461.5C1397.6 461.5 1453.8 470.7 1510 474.3C1566.2 477.8 1622.4 483.5 1678.6 483.5" stroke="#f2cb6c"/>
<path d="M1004.2 463.3C1060.4 463.3 1116.6 475.1 1172.8 478.9C1229 482.6 1285.2 486.4 1341.4 487.6C1397.6 488.8 1453.8 489.9 1510 489.9C1566.2 489.9 1622.4 489.8 1678.6 489.8" stroke="#f2cb6c"/>
<path d="M1004.2 488.4C1060.4 488.4 1116.6 496.1 1172.8 499.2C1229 502.3 1285.2 506.4 1341.4 507.5C1397.6 508.7 1453.8 509.1 1510 509.7C1566.2 510.3 1622.4 511.2 1678.6 511.2" stroke="#f2cb6c"/>
<path d="M1004.2 518.2C1060.4 518.2 1116.6 503.3 1172.8 503.3C1229 503.3 1285.2 505.3 1341.4 507.3C1397.6 509.4 1453.8 519.1 1510 519.8C1566.2 520.5 1622.4 520.9 1678.6 520.9" stroke="#f2cb6c"/>
<path d="M1004.2 533C1060.4 533 1116.6 533.6 1172.8 534.3C1229 535 1285.2 536.8 1341.4 538.9C1397.6 541 1453.8 546.6 1510 549.5C1566.2 552.4 1622.4 556.8 1678.6 556.8" stroke="#f2cb6c"/>
<path d="M1004.2 488.4C1060.4 488.4 1116.6 497.7 1172.8 504C1229 510.2 1285.2 520.1 1341.4 527.3C1397.6 534.5 1453.8 546.1 1510 547.3C1566.2 548.5 1622.4 549.3 1678.6 549.3" stroke="#f2cb6c"/>
<path d="M1004.2 522.5C1060.4 522.5 1116.6 526.6 1172.8 529.8C1229 532.9 1285.2 537.4 1341.4 543.2C1397.6 548.9 1453.8 560.8 1510 567.5C1566.2 574.1 1622.4 584.4 1678.6 584.4" stroke="#f2cb6c"/>
<path d="M1004.2 546.7C1060.4 546.7 1116.6 547.3 1172.8 548C1229 548.6 1285.2 549.8 1341.4 551.6C1397.6 553.4 1453.8 559.3 1510 562.2C1566.2 565.1 1622.4 569.5 1678.6 569.5" stroke="#f2cb6c"/>
<path d="M1004.2 69.3C1069.4 60.7 1134.6 52.2 1199.8 43.7C1269.5 34.6 1339.2 25 1408.8 16.4C1498.8 5.3 1588.7 -15.4 1678.6 -15.4" stroke="#f3b228"/>
<path d="M1004.2 69.3C1069.4 74.7 1134.6 79.2 1199.8 79.2C1279.8 79.2 1359.8 74 1439.9 74C1519.4 74 1599 74 1678.6 74" stroke="#f3b228"/>
<path d="M1004.2 132.5C1069.4 117.6 1134.6 104.5 1199.8 93.2C1247 85 1294.2 75.9 1341.4 71.5C1374.2 68.4 1407 65.7 1439.9 64.6C1474.5 63.4 1509.1 62.4 1543.7 62.3C1588.7 62 1633.6 61.9 1678.6 61.9" stroke="#f3b228"/>
<path d="M1004.2 141.1C1069.4 136.1 1134.6 131.1 1199.8 126.4C1279.8 120.6 1359.8 114.4 1439.9 109.7C1519.4 105 1599 97.5 1678.6 97.5" stroke="#f3b228"/>
<path d="M1004.2 144.7C1069.4 141.4 1134.6 138.3 1199.8 137.1C1279.8 135.6 1359.8 134.1 1439.9 134.1C1519.4 134.1 1599 139.7 1678.6 139.7" stroke="#f3b228"/>
<path d="M1004.2 149.7C1069.4 149.7 1134.6 154 1199.8 154.3C1279.8 154.7 1359.8 155 1439.9 155C1519.4 155 1599 155 1678.6 155" stroke="#f3b228"/>
<path d="M1004.2 146.5C1069.4 156.1 1134.6 165.5 1199.8 174.4C1279.8 185.3 1359.8 196.9 1439.9 205.8C1485.7 210.9 1531.6 217.3 1577.4 219.5C1611.2 221.1 1644.9 222.7 1678.6 222.7" stroke="#f3b228"/>
<path d="M1004.2 432.2C1060.4 428.3 1116.6 422.6 1172.8 416C1229 409.4 1285.2 396.3 1341.4 390.9C1397.6 385.5 1453.8 380.1 1510 378.9C1566.2 377.6 1622.4 376.7 1678.6 376.7" stroke="#f3b228"/>
<path d="M1004.2 442C1060.4 442 1116.6 439.6 1172.8 436.6C1229 433.5 1285.2 413.8 1341.4 406.3C1397.6 398.7 1453.8 392.3 1510 388.2C1566.2 384.1 1622.4 378.9 1678.6 378.9" stroke="#f3b228"/>
<path d="M1004.2 454C1060.4 454 1116.6 452.1 1172.8 450.6C1229 449.1 1285.2 444.7 1341.4 443.5C1397.6 442.4 1453.8 441.8 1510 441.3C1566.2 440.8 1622.4 440 1678.6 440" stroke="#f3b228"/>
<path d="M1004.2 453.9C1060.4 453.9 1116.6 452.2 1172.8 451.1C1229 450 1285.2 447.5 1341.4 446.8C1397.6 446.1 1453.8 445.5 1510 445.5C1566.2 445.5 1622.4 445.5 1678.6 445.5" stroke="#f3b228"/>
<path d="M1004.2 456.4C1071.6 456.4 1139.1 463.8 1206.5 463.8C1251.5 463.8 1296.4 460.4 1341.4 460.4C1397.6 460.4 1453.8 469.2 1510 472.6C1566.2 476 1622.4 481.3 1678.6 481.3" stroke="#f3b228"/>
<path d="M1004.2 463.6C1060.4 463.6 1116.6 475.4 1172.8 479.2C1229 482.9 1285.2 486.7 1341.4 487.9C1397.6 489 1453.8 490.1 1510 490.1C1566.2 490.1 1622.4 490 1678.6 490" stroke="#f3b228"/>
<path d="M1004.2 488.6C1060.4 488.6 1116.6 496.3 1172.8 499.4C1229 502.5 1285.2 506.6 1341.4 507.7C1397.6 508.8 1453.8 509.2 1510 509.8C1566.2 510.4 1622.4 511.3 1678.6 511.3" stroke="#f3b228"/>
<path d="M1004.2 518.4C1060.4 518.4 1116.6 503.5 1172.8 503.5C1229 503.5 1285.2 505.5 1341.4 507.5C1397.6 509.5 1453.8 519.3 1510 519.9C1566.2 520.6 1622.4 521 1678.6 521" stroke="#f3b228"/>
<path d="M1004.2 532.8C1060.4 532.8 1116.6 533.4 1172.8 534.2C1229 534.9 1285.2 536.6 1341.4 538.7C1397.6 540.9 1453.8 546.5 1510 549.4C1566.2 552.3 1622.4 556.8 1678.6 556.8" stroke="#f3b228"/>
<path d="M1004.2 488.6C1060.4 488.6 1116.6 497.9 1172.8 504.2C1229 510.4 1285.2 520.4 1341.4 527.6C1397.6 534.7 1453.8 546.3 1510 547.5C1566.2 548.7 1622.4 549.5 1678.6 549.5" stroke="#f3b228"/>
<path d="M1004.2 522.6C1060.4 522.6 1116.6 526.8 1172.8 529.9C1229 533.1 1285.2 537.7 1341.4 543.4C1397.6 549.2 1453.8 561.1 1510 567.7C1566.2 574.3 1622.4 584.4 1678.6 584.4" stroke="#f3b228"/>
<path d="M1004.2 546.4C1060.4 546.4 1116.6 547 1172.8 547.7C1229 548.3 1285.2 549.6 1341.4 551.4C1397.6 553.3 1453.8 559.2 1510 562.1C1566.2 565 1622.4 569.5 1678.6 569.5" stroke="#f3b228"/>
<path d="M1004.2 69.5C1069.4 60.9 1134.6 52.4 1199.8 43.9C1269.5 34.8 1339.2 25.3 1408.8 16.7C1498.8 5.5 1588.7 -15.1 1678.6 -15.1" stroke="#eb9e20"/>
<path d="M1004.2 69.5C1069.4 74.9 1134.6 79.5 1199.8 79.5C1279.8 79.5 1359.8 74.3 1439.9 74.3C1519.4 74.3 1599 74.4 1678.6 74.4" stroke="#eb9e20"/>
<path d="M1004.2 132.7C1069.4 117.9 1134.6 104.8 1199.8 93.6C1247 85.4 1294.2 76.3 1341.4 71.8C1374.2 68.7 1407 65.9 1439.9 64.8C1474.5 63.6 1509.1 62.6 1543.7 62.4C1588.7 62.2 1633.6 62.1 1678.6 62.1" stroke="#eb9e20"/>
<path d="M1004.2 141.1C1069.4 136.1 1134.6 131.1 1199.8 126.3C1279.8 120.5 1359.8 114.2 1439.9 109.4C1519.4 104.7 1599 97.2 1678.6 97.2" stroke="#eb9e20"/>
<path d="M1004.2 144.8C1069.4 141.5 1134.6 138.4 1199.8 137.1C1279.8 135.4 1359.8 133.7 1439.9 133.7C1519.4 133.7 1599 139.3 1678.6 139.3" stroke="#eb9e20"/>
<path d="M1004.2 150C1069.4 150 1134.6 154.3 1199.8 154.6C1279.8 155 1359.8 155.3 1439.9 155.3C1519.4 155.3 1599 155.3 1678.6 155.3" stroke="#eb9e20"/>
<path d="M1004.2 146.7C1069.4 156.4 1134.6 165.7 1199.8 174.6C1279.8 185.6 1359.8 197.2 1439.9 206.1C1485.7 211.2 1531.6 217.6 1577.4 219.8C1611.2 221.3 1644.9 223 1678.6 223" stroke="#eb9e20"/>
<path d="M1004.2 431.4C1060.4 427.4 1116.6 421.7 1172.8 415.2C1229 408.7 1285.2 396.1 1341.4 390.6C1397.6 385.1 1453.8 379.5 1510 378.2C1566.2 376.8 1622.4 375.8 1678.6 375.8" stroke="#eb9e20"/>
<path d="M1004.2 440.9C1060.4 440.9 1116.6 438.7 1172.8 435.8C1229 432.9 1285.2 414.3 1341.4 406.8C1397.6 399.3 1453.8 392.5 1510 388.3C1566.2 384 1622.4 378.6 1678.6 378.6" stroke="#eb9e20"/>
<path d="M1004.2 455.3C1060.4 455.3 1116.6 453.1 1172.8 451.3C1229 449.4 1285.2 444.4 1341.4 443C1397.6 441.6 1453.8 440.9 1510 440.3C1566.2 439.6 1622.4 438.8 1678.6 438.8" stroke="#eb9e20"/>
<path d="M1004.2 454.4C1060.4 454.4 1116.6 452.7 1172.8 451.5C1229 450.3 1285.2 447.7 1341.4 446.9C1397.6 446.2 1453.8 445.5 1510 445.5C1566.2 445.5 1622.4 445.5 1678.6 445.5" stroke="#eb9e20"/>
<path d="M1004.2 457.3C1071.6 457.3 1139.1 463.4 1206.5 463.4C1251.5 463.4 1296.4 459.3 1341.4 459.3C1397.6 459.3 1453.8 467.7 1510 471C1566.2 474.2 1622.4 479.3 1678.6 479.3" stroke="#eb9e20"/>
<path d="M1004.2 463.8C1060.4 463.8 1116.6 475.8 1172.8 479.5C1229 483.2 1285.2 487 1341.4 488.1C1397.6 489.3 1453.8 490.2 1510 490.2C1566.2 490.2 1622.4 490.2 1678.6 490.2" stroke="#eb9e20"/>
<path d="M1004.2 488.8C1060.4 488.8 1116.6 496.5 1172.8 499.6C1229 502.7 1285.2 506.8 1341.4 507.9C1397.6 509 1453.8 509.3 1510 509.9C1566.2 510.5 1622.4 511.4 1678.6 511.4" stroke="#eb9e20"/>
<path d="M1004.2 518.7C1060.4 518.7 1116.6 503.8 1172.8 503.8C1229 503.8 1285.2 505.7 1341.4 507.7C1397.6 509.7 1453.8 519.4 1510 520.1C1566.2 520.7 1622.4 521.1 1678.6 521.1" stroke="#eb9e20"/>
<path d="M1004.2 532.6C1060.4 532.6 1116.6 533.3 1172.8 534C1229 534.7 1285.2 536.4 1341.4 538.6C1397.6 540.7 1453.8 546.4 1510 549.3C1566.2 552.3 1622.4 556.8 1678.6 556.8" stroke="#eb9e20"/>
<path d="M1004.2 488.8C1060.4 488.8 1116.6 498.1 1172.8 504.4C1229 510.6 1285.2 520.7 1341.4 527.8C1397.6 535 1453.8 546.5 1510 547.7C1566.2 548.8 1622.4 549.6 1678.6 549.6" stroke="#eb9e20"/>
<path d="M1004.2 522.7C1060.4 522.7 1116.6 526.9 1172.8 530.1C1229 533.3 1285.2 537.9 1341.4 543.7C1397.6 549.5 1453.8 561.3 1510 567.9C1566.2 574.4 1622.4 584.5 1678.6 584.5" stroke="#eb9e20"/>
<path d="M1004.2 546C1060.4 546 1116.6 546.7 1172.8 547.4C1229 548.1 1285.2 549.4 1341.4 551.3C1397.6 553.2 1453.8 559.1 1510 562C1566.2 565 1622.4 569.5 1678.6 569.5" stroke="#eb9e20"/>
<path d="M1004.2 69.7C1069.4 61.1 1134.6 52.6 1199.8 44.1C1269.5 35 1339.2 25.6 1408.8 16.9C1498.8 5.8 1588.7 -14.8 1678.6 -14.8" stroke="#e48a18"/>
<path d="M1004.2 69.7C1069.4 75.1 1134.6 79.7 1199.8 79.7C1279.8 79.7 1359.8 74.6 1439.9 74.6C1519.4 74.6 1599 74.8 1678.6 74.8" stroke="#e48a18"/>
<path d="M1004.2 133C1069.4 118.3 1134.6 105.2 1199.8 94C1247 85.8 1294.2 76.7 1341.4 72.1C1374.2 69 1407 66.1 1439.9 65C1474.5 63.8 1509.1 62.8 1543.7 62.6C1588.7 62.4 1633.6 62.2 1678.6 62.2" stroke="#e48a18"/>
<path d="M1004.2 141.2C1069.4 136.1 1134.6 131.1 1199.8 126.3C1279.8 120.4 1359.8 114 1439.9 109.2C1519.4 104.5 1599 96.9 1678.6 96.9" stroke="#e48a18"/>
<path d="M1004.2 144.8C1069.4 141.5 1134.6 138.6 1199.8 137.1C1279.8 135.3 1359.8 133.4 1439.9 133.4C1519.4 133.4 1599 138.9 1678.6 138.9" stroke="#e48a18"/>
<path d="M1004.2 150.3C1069.4 150.3 1134.6 154.6 1199.8 154.9C1279.8 155.4 1359.8 155.6 1439.9 155.6C1519.4 155.6 1599 155.6 1678.6 155.6" stroke="#e48a18"/>
<path d="M1004.2 147C1069.4 156.6 1134.6 166 1199.8 174.9C1279.8 185.9 1359.8 197.5 1439.9 206.4C1485.7 211.6 1531.6 217.9 1577.4 220.1C1611.2 221.6 1644.9 223.3 1678.6 223.3" stroke="#e48a18"/>
<path d="M1004.2 430.6C1060.4 426.5 1116.6 420.9 1172.8 414.4C1229 408 1285.2 395.8 1341.4 390.2C1397.6 384.6 1453.8 378.8 1510 377.4C1566.2 376.1 1622.4 375 1678.6 375" stroke="#e48a18"/>
<path d="M1004.2 439.8C1060.4 439.8 1116.6 437.7 1172.8 435C1229 432.2 1285.2 414.9 1341.4 407.4C1397.6 399.9 1453.8 392.7 1510 388.4C1566.2 384 1622.4 378.4 1678.6 378.4" stroke="#e48a18"/>
<path d="M1004.2 456.7C1060.4 456.7 1116.6 454.1 1172.8 451.9C1229 449.8 1285.2 444 1341.4 442.4C1397.6 440.8 1453.8 439.9 1510 439.2C1566.2 438.5 1622.4 437.7 1678.6 437.7" stroke="#e48a18"/>
<path d="M1004.2 455.1C1060.4 455.1 1116.6 453.2 1172.8 451.9C1229 450.7 1285.2 448 1341.4 447.2C1397.6 446.4 1453.8 445.6 1510 445.6C1566.2 445.6 1622.4 445.6 1678.6 445.6" stroke="#e48a18"/>
<path d="M1004.2 458.3C1071.6 458.3 1139.1 463.1 1206.5 463.1C1251.5 463.1 1296.4 458.3 1341.4 458.3C1397.6 458.3 1453.8 466.3 1510 469.4C1566.2 472.5 1622.4 477.4 1678.6 477.4" stroke="#e48a18"/>
<path d="M1004.2 464.1C1060.4 464.1 1116.6 476.1 1172.8 479.8C1229 483.5 1285.2 487.3 1341.4 488.4C1397.6 489.5 1453.8 490.5 1510 490.5C1566.2 490.5 1622.4 490.4 1678.6 490.4" stroke="#e48a18"/>
<path d="M1004.2 488.9C1060.4 488.9 1116.6 496.7 1172.8 499.8C1229 502.9 1285.2 507 1341.4 508.1C1397.6 509.1 1453.8 509.5 1510 510C1566.2 510.6 1622.4 511.6 1678.6 511.6" stroke="#e48a18"/>
<path d="M1004.2 518.9C1060.4 518.9 1116.6 504.1 1172.8 504.1C1229 504.1 1285.2 506 1341.4 507.9C1397.6 509.8 1453.8 519.6 1510 520.2C1566.2 520.8 1622.4 521.2 1678.6 521.2" stroke="#e48a18"/>
<path d="M1004.2 532.4C1060.4 532.4 1116.6 533.1 1172.8 533.8C1229 534.5 1285.2 536.3 1341.4 538.4C1397.6 540.6 1453.8 546.3 1510 549.3C1566.2 552.2 1622.4 556.8 1678.6 556.8" stroke="#e48a18"/>
<path d="M1004.2 488.9C1060.4 488.9 1116.6 498.3 1172.8 504.6C1229 510.8 1285.2 521 1341.4 528.1C1397.6 535.3 1453.8 546.7 1510 547.9C1566.2 549 1622.4 549.7 1678.6 549.7" stroke="#e48a18"/>
<path d="M1004.2 522.8C1060.4 522.8 1116.6 527.1 1172.8 530.3C1229 533.5 1285.2 538.2 1341.4 544C1397.6 549.8 1453.8 561.6 1510 568.1C1566.2 574.6 1622.4 584.5 1678.6 584.5" stroke="#e48a18"/>
<path d="M1004.2 545.7C1060.4 545.7 1116.6 546.4 1172.8 547.1C1229 547.8 1285.2 549.2 1341.4 551.1C1397.6 553.1 1453.8 559 1510 562C1566.2 564.9 1622.4 569.5 1678.6 569.5" stroke="#e48a18"/>
<path d="M1004.2 69.9C1069.4 61.4 1134.6 52.9 1199.8 44.4C1269.5 35.3 1339.2 25.8 1408.8 17.2C1498.8 6.1 1588.7 -14.5 1678.6 -14.5" stroke="#da7617"/>
<path d="M1004.2 69.9C1069.4 75.4 1134.6 80 1199.8 80C1279.8 80 1359.8 74.9 1439.9 74.9C1519.4 74.9 1599 75.2 1678.6 75.2" stroke="#da7617"/>
<path d="M1004.2 133.2C1069.4 118.6 1134.6 105.6 1199.8 94.4C1247 86.2 1294.2 77.1 1341.4 72.5C1374.2 69.3 1407 66.3 1439.9 65.2C1474.5 64 1509.1 63 1543.7 62.8C1588.7 62.6 1633.6 62.4 1678.6 62.4" stroke="#da7617"/>
<path d="M1004.2 141.2C1069.4 136.1 1134.6 131.1 1199.8 126.3C1279.8 120.4 1359.8 113.8 1439.9 109C1519.4 104.3 1599 96.8 1678.6 96.8" stroke="#da7617"/>
<path d="M1004.2 144.9C1069.4 141.6 1134.6 138.7 1199.8 137.1C1279.8 135.2 1359.8 133.1 1439.9 133.1C1519.4 133.1 1599 138.5 1678.6 138.5" stroke="#da7617"/>
<path d="M1004.2 150.5C1069.4 150.5 1134.6 154.9 1199.8 155.2C1279.8 155.7 1359.8 156 1439.9 156C1519.4 156 1599 156 1678.6 156" stroke="#da7617"/>
<path d="M1004.2 147.3C1069.4 156.9 1134.6 166.2 1199.8 175.2C1279.8 186.1 1359.8 197.8 1439.9 206.8C1485.7 211.9 1531.6 218.2 1577.4 220.3C1611.2 221.9 1644.9 223.6 1678.6 223.6" stroke="#da7617"/>
<path d="M1004.2 429.7C1060.4 425.7 1116.6 420.1 1172.8 413.7C1229 407.3 1285.2 395.5 1341.4 389.9C1397.6 384.2 1453.8 378.2 1510 376.7C1566.2 375.3 1622.4 374.2 1678.6 374.2" stroke="#da7617"/>
<path d="M1004.2 438.8C1060.4 438.8 1116.6 436.8 1172.8 434.2C1229 431.6 1285.2 415.4 1341.4 408C1397.6 400.5 1453.8 393 1510 388.6C1566.2 384.1 1622.4 378.2 1678.6 378.2" stroke="#da7617"/>
<path d="M1004.2 458.3C1060.4 458.3 1116.6 455.2 1172.8 452.7C1229 450.2 1285.2 443.6 1341.4 441.8C1397.6 440 1453.8 439 1510 438.2C1566.2 437.5 1622.4 436.5 1678.6 436.5" stroke="#da7617"/>
<path d="M1004.2 455.9C1060.4 455.9 1116.6 453.9 1172.8 452.5C1229 451.1 1285.2 448.4 1341.4 447.5C1397.6 446.7 1453.8 445.8 1510 445.8C1566.2 445.8 1622.4 445.8 1678.6 445.8" stroke="#da7617"/>
<path d="M1004.2 459.3C1071.6 459.3 1139.1 462.8 1206.5 462.8C1251.5 462.8 1296.4 457.4 1341.4 457.4C1397.6 457.4 1453.8 465 1510 467.9C1566.2 470.9 1622.4 475.5 1678.6 475.5" stroke="#da7617"/>
<path d="M1004.2 464.5C1060.4 464.5 1116.6 476.6 1172.8 480.2C1229 483.9 1285.2 487.7 1341.4 488.7C1397.6 489.8 1453.8 490.7 1510 490.7C1566.2 490.7 1622.4 490.6 1678.6 490.6" stroke="#da7617"/>
<path d="M1004.2 489.1C1060.4 489.1 1116.6 496.9 1172.8 500.1C1229 503.2 1285.2 507.3 1341.4 508.3C1397.6 509.3 1453.8 509.6 1510 510.1C1566.2 510.7 1622.4 511.7 1678.6 511.7" stroke="#da7617"/>
<path d="M1004.2 519.1C1060.4 519.1 1116.6 504.5 1172.8 504.5C1229 504.5 1285.2 506.3 1341.4 508.1C1397.6 510 1453.8 519.8 1510 520.4C1566.2 521 1622.4 521.3 1678.6 521.3" stroke="#da7617"/>
<path d="M1004.2 532.2C1060.4 532.2 1116.6 532.9 1172.8 533.6C1229 534.4 1285.2 536.1 1341.4 538.3C1397.6 540.4 1453.8 546.2 1510 549.2C1566.2 552.2 1622.4 556.8 1678.6 556.8" stroke="#da7617"/>
<path d="M1004.2 489.1C1060.4 489.1 1116.6 498.5 1172.8 504.8C1229 511.1 1285.2 521.3 1341.4 528.4C1397.6 535.6 1453.8 546.9 1510 548C1566.2 549.1 1622.4 549.8 1678.6 549.8" stroke="#da7617"/>
<path d="M1004.2 522.9C1060.4 522.9 1116.6 527.2 1172.8 530.5C1229 533.8 1285.2 538.5 1341.4 544.3C1397.6 550.1 1453.8 561.9 1510 568.3C1566.2 574.8 1622.4 584.7 1678.6 584.7" stroke="#da7617"/>
<path d="M1004.2 545.4C1060.4 545.4 1116.6 546.1 1172.8 546.8C1229 547.5 1285.2 549 1341.4 551C1397.6 553 1453.8 558.9 1510 561.9C1566.2 564.9 1622.4 569.5 1678.6 569.5" stroke="#da7617"/>
<path d="M1004.2 70.1C1069.4 61.6 1134.6 53.1 1199.8 44.6C1269.5 35.6 1339.2 26.1 1408.8 17.5C1498.8 6.4 1588.7 -14.3 1678.6 -14.3" stroke="#d16216"/>
<path d="M1004.2 70.1C1069.4 75.6 1134.6 80.2 1199.8 80.2C1279.8 80.2 1359.8 75.3 1439.9 75.3C1519.4 75.3 1599 75.7 1678.6 75.7" stroke="#d16216"/>
<path d="M1004.2 133.5C1069.4 119 1134.6 106.1 1199.8 94.8C1247 86.6 1294.2 77.5 1341.4 72.8C1374.2 69.6 1407 66.5 1439.9 65.4C1474.5 64.2 1509.1 63.2 1543.7 63C1588.7 62.8 1633.6 62.6 1678.6 62.6" stroke="#d16216"/>
<path d="M1004.2 141.2C1069.4 136.2 1134.6 131.2 1199.8 126.4C1279.8 120.4 1359.8 113.7 1439.9 108.9C1519.4 104.1 1599 96.6 1678.6 96.6" stroke="#d16216"/>
<path d="M1004.2 145C1069.4 141.8 1134.6 138.8 1199.8 137.2C1279.8 135.1 1359.8 132.8 1439.9 132.8C1519.4 132.8 1599 138.2 1678.6 138.2" stroke="#d16216"/>
<path d="M1004.2 150.8C1069.4 150.8 1134.6 155.2 1199.8 155.6C1279.8 156 1359.8 156.3 1439.9 156.3C1519.4 156.3 1599 156.3 1678.6 156.3" stroke="#d16216"/>
<path d="M1004.2 147.6C1069.4 157.2 1134.6 166.5 1199.8 175.4C1279.8 186.4 1359.8 198.2 1439.9 207.1C1485.7 212.2 1531.6 218.5 1577.4 220.7C1611.2 222.2 1644.9 223.9 1678.6 223.9" stroke="#d16216"/>
<path d="M1004.2 428.9C1060.4 424.8 1116.6 419.2 1172.8 412.9C1229 406.6 1285.2 395.2 1341.4 389.5C1397.6 383.8 1453.8 377.6 1510 376.1C1566.2 374.6 1622.4 373.4 1678.6 373.4" stroke="#d16216"/>
<path d="M1004.2 437.8C1060.4 437.8 1116.6 435.9 1172.8 433.5C1229 431.1 1285.2 415.9 1341.4 408.6C1397.6 401.2 1453.8 393.4 1510 388.8C1566.2 384.2 1622.4 378.2 1678.6 378.2" stroke="#d16216"/>
<path d="M1004.2 460C1060.4 460 1116.6 456.3 1172.8 453.5C1229 450.7 1285.2 443.2 1341.4 441.2C1397.6 439.2 1453.8 438.1 1510 437.2C1566.2 436.4 1622.4 435.4 1678.6 435.4" stroke="#d16216"/>
<path d="M1004.2 456.9C1060.4 456.9 1116.6 454.6 1172.8 453.1C1229 451.7 1285.2 448.8 1341.4 448C1397.6 447.1 1453.8 446.2 1510 446.2C1566.2 446.2 1622.4 446.2 1678.6 446.2" stroke="#d16216"/>
<path d="M1004.2 460.5C1071.6 460.5 1139.1 462.6 1206.5 462.6C1251.5 462.6 1296.4 456.6 1341.4 456.6C1397.6 456.6 1453.8 463.7 1510 466.5C1566.2 469.3 1622.4 473.8 1678.6 473.8" stroke="#d16216"/>
<path d="M1004.2 464.8C1060.4 464.8 1116.6 477 1172.8 480.6C1229 484.3 1285.2 488 1341.4 489C1397.6 490 1453.8 490.9 1510 490.9C1566.2 490.9 1622.4 490.9 1678.6 490.9" stroke="#d16216"/>
<path d="M1004.2 489.3C1060.4 489.3 1116.6 497.2 1172.8 500.3C1229 503.4 1285.2 507.5 1341.4 508.5C1397.6 509.4 1453.8 509.7 1510 510.3C1566.2 510.8 1622.4 511.8 1678.6 511.8" stroke="#d16216"/>
<path d="M1004.2 519.4C1060.4 519.4 1116.6 504.8 1172.8 504.8C1229 504.8 1285.2 506.5 1341.4 508.4C1397.6 510.2 1453.8 519.9 1510 520.5C1566.2 521.1 1622.4 521.4 1678.6 521.4" stroke="#d16216"/>
<path d="M1004.2 532C1060.4 532 1116.6 532.7 1172.8 533.5C1229 534.2 1285.2 535.9 1341.4 538.1C1397.6 540.3 1453.8 546.1 1510 549.1C1566.2 552.1 1622.4 556.8 1678.6 556.8" stroke="#d16216"/>
<path d="M1004.2 489.3C1060.4 489.3 1116.6 498.8 1172.8 505.1C1229 511.4 1285.2 521.6 1341.4 528.7C1397.6 535.9 1453.8 547.1 1510 548.2C1566.2 549.3 1622.4 550 1678.6 550" stroke="#d16216"/>
<path d="M1004.2 523C1060.4 523 1116.6 527.4 1172.8 530.7C1229 534 1285.2 538.7 1341.4 544.6C1397.6 550.5 1453.8 562.1 1510 568.6C1566.2 575 1622.4 584.8 1678.6 584.8" stroke="#d16216"/>
<path d="M1004.2 545.1C1060.4 545.1 1116.6 545.8 1172.8 546.5C1229 547.3 1285.2 548.8 1341.4 550.8C1397.6 552.9 1453.8 558.8 1510 561.8C1566.2 564.8 1622.4 569.5 1678.6 569.5" stroke="#d16216"/>
<path d="M1004.2 70.3C1069.4 61.8 1134.6 53.3 1199.8 44.9C1269.5 35.8 1339.2 26.4 1408.8 17.8C1498.8 6.7 1588.7 -14 1678.6 -14" stroke="#ca521a"/>
<path d="M1004.2 70.3C1069.4 75.8 1134.6 80.5 1199.8 80.5C1279.8 80.5 1359.8 75.6 1439.9 75.6C1519.4 75.6 1599 76.1 1678.6 76.1" stroke="#ca521a"/>
<path d="M1004.2 133.8C1069.4 119.4 1134.6 106.5 1199.8 95.2C1247 87.1 1294.2 78 1341.4 73.2C1374.2 69.9 1407 66.8 1439.9 65.6C1474.5 64.4 1509.1 63.4 1543.7 63.2C1588.7 63 1633.6 62.9 1678.6 62.9" stroke="#ca521a"/>
<path d="M1004.2 141.3C1069.4 136.3 1134.6 131.3 1199.8 126.4C1279.8 120.5 1359.8 113.7 1439.9 108.9C1519.4 104 1599 96.5 1678.6 96.5" stroke="#ca521a"/>
<path d="M1004.2 145.1C1069.4 141.9 1134.6 139 1199.8 137.3C1279.8 135.1 1359.8 132.6 1439.9 132.6C1519.4 132.6 1599 137.9 1678.6 137.9" stroke="#ca521a"/>
<path d="M1004.2 151.1C1069.4 151.1 1134.6 155.5 1199.8 155.9C1279.8 156.3 1359.8 156.6 1439.9 156.6C1519.4 156.6 1599 156.6 1678.6 156.6" stroke="#ca521a"/>
<path d="M1004.2 147.9C1069.4 157.5 1134.6 166.8 1199.8 175.7C1279.8 186.7 1359.8 198.5 1439.9 207.4C1485.7 212.5 1531.6 218.8 1577.4 221C1611.2 222.5 1644.9 224.2 1678.6 224.2" stroke="#ca521a"/>
<path d="M1004.2 428.2C1060.4 424 1116.6 418.5 1172.8 412.2C1229 405.9 1285.2 394.9 1341.4 389.2C1397.6 383.4 1453.8 377 1510 375.4C1566.2 373.9 1622.4 372.6 1678.6 372.6" stroke="#ca521a"/>
<path d="M1004.2 436.7C1060.4 436.7 1116.6 435 1172.8 432.8C1229 430.5 1285.2 416.5 1341.4 409.2C1397.6 402 1453.8 393.8 1510 389.1C1566.2 384.4 1622.4 378.3 1678.6 378.3" stroke="#ca521a"/>
<path d="M1004.2 461.9C1060.4 461.9 1116.6 457.6 1172.8 454.3C1229 451.1 1285.2 442.8 1341.4 440.6C1397.6 438.4 1453.8 437.2 1510 436.3C1566.2 435.4 1622.4 434.4 1678.6 434.4" stroke="#ca521a"/>
<path d="M1004.2 458C1060.4 458 1116.6 455.4 1172.8 453.9C1229 452.3 1285.2 449.4 1341.4 448.5C1397.6 447.6 1453.8 446.8 1510 446.8C1566.2 446.8 1622.4 446.8 1678.6 446.8" stroke="#ca521a"/>
<path d="M1004.2 461.7C1071.6 461.7 1139.1 462.6 1206.5 462.6C1251.5 462.6 1296.4 455.9 1341.4 455.9C1397.6 455.9 1453.8 462.5 1510 465.2C1566.2 467.8 1622.4 472.2 1678.6 472.2" stroke="#ca521a"/>
<path d="M1004.2 465.2C1060.4 465.2 1116.6 477.5 1172.8 481.1C1229 484.7 1285.2 488.4 1341.4 489.3C1397.6 490.3 1453.8 491.1 1510 491.1C1566.2 491.1 1622.4 491.1 1678.6 491.1" stroke="#ca521a"/>
<path d="M1004.2 489.6C1060.4 489.6 1116.6 497.5 1172.8 500.6C1229 503.7 1285.2 507.7 1341.4 508.7C1397.6 509.6 1453.8 509.8 1510 510.4C1566.2 510.9 1622.4 512 1678.6 512" stroke="#ca521a"/>
<path d="M1004.2 519.6C1060.4 519.6 1116.6 505.1 1172.8 505.1C1229 505.1 1285.2 506.8 1341.4 508.6C1397.6 510.4 1453.8 520.1 1510 520.7C1566.2 521.2 1622.4 521.6 1678.6 521.6" stroke="#ca521a"/>
<path d="M1004.2 531.8C1060.4 531.8 1116.6 532.5 1172.8 533.3C1229 534.1 1285.2 535.8 1341.4 538C1397.6 540.2 1453.8 546 1510 549C1566.2 552 1622.4 556.8 1678.6 556.8" stroke="#ca521a"/>
<path d="M1004.2 489.6C1060.4 489.6 1116.6 499 1172.8 505.3C1229 511.6 1285.2 521.9 1341.4 529C1397.6 536.2 1453.8 547.4 1510 548.4C1566.2 549.5 1622.4 550.1 1678.6 550.1" stroke="#ca521a"/>
<path d="M1004.2 523.1C1060.4 523.1 1116.6 527.6 1172.8 530.9C1229 534.2 1285.2 539 1341.4 544.9C1397.6 550.8 1453.8 562.4 1510 568.8C1566.2 575.3 1622.4 584.9 1678.6 584.9" stroke="#ca521a"/>
<path d="M1004.2 544.7C1060.4 544.7 1116.6 545.5 1172.8 546.2C1229 547 1285.2 548.6 1341.4 550.7C1397.6 552.8 1453.8 558.7 1510 561.7C1566.2 564.7 1622.4 569.5 1678.6 569.5" stroke="#ca521a"/>
<path d="M1004.2 70.8C1069.4 62.3 1134.6 53.9 1199.8 45.4C1269.5 36.4 1339.2 27 1408.8 18.4C1498.8 7.3 1588.7 -13.3 1678.6 -13.3" stroke="#c34220"/>
<path d="M1004.2 70.8C1069.4 76.4 1134.6 81.1 1199.8 81.1C1279.8 81.1 1359.8 76.4 1439.9 76.4C1519.4 76.4 1599 77.2 1678.6 77.2" stroke="#c34220"/>
<path d="M1004.2 134.3C1069.4 120.2 1134.6 107.5 1199.8 96.2C1247 88.1 1294.2 78.9 1341.4 74C1374.2 70.6 1407 67.2 1439.9 66.1C1474.5 64.8 1509.1 63.8 1543.7 63.7C1588.7 63.5 1633.6 63.4 1678.6 63.4" stroke="#c34220"/>
<path d="M1004.2 141.5C1069.4 136.5 1134.6 131.6 1199.8 126.7C1279.8 120.7 1359.8 113.8 1439.9 108.9C1519.4 104.1 1599 96.6 1678.6 96.6" stroke="#c34220"/>
<path d="M1004.2 145.5C1069.4 142.3 1134.6 139.4 1199.8 137.5C1279.8 135.2 1359.8 132.3 1439.9 132.3C1519.4 132.3 1599 137.5 1678.6 137.5" stroke="#c34220"/>
<path d="M1004.2 151.8C1069.4 151.8 1134.6 156.2 1199.8 156.6C1279.8 157.1 1359.8 157.4 1439.9 157.4C1519.4 157.4 1599 157.4 1678.6 157.4" stroke="#c34220"/>
<path d="M1004.2 148.6C1069.4 158.2 1134.6 167.5 1199.8 176.4C1279.8 187.4 1359.8 199.3 1439.9 208.2C1485.7 213.3 1531.6 219.6 1577.4 221.7C1611.2 223.3 1644.9 224.9 1678.6 224.9" stroke="#c34220"/>
<path d="M1004.2 426.5C1060.4 422.3 1116.6 416.8 1172.8 410.7C1229 404.5 1285.2 394.2 1341.4 388.4C1397.6 382.6 1453.8 375.9 1510 374.1C1566.2 372.4 1622.4 371 1678.6 371" stroke="#c34220"/>
<path d="M1004.2 434.5C1060.4 434.5 1116.6 433.1 1172.8 431.3C1229 429.5 1285.2 417.5 1341.4 410.7C1397.6 403.8 1453.8 394.8 1510 390C1566.2 385.2 1622.4 378.9 1678.6 378.9" stroke="#c34220"/>
<path d="M1004.2 463.9C1060.4 463.9 1116.6 458.9 1172.8 455.3C1229 451.6 1285.2 442.3 1341.4 439.9C1397.6 437.5 1453.8 436.2 1510 435.3C1566.2 434.4 1622.4 433.4 1678.6 433.4" stroke="#c34220"/>
<path d="M1004.2 459.2C1060.4 459.2 1116.6 456.3 1172.8 454.7C1229 453.1 1285.2 450.1 1341.4 449.2C1397.6 448.3 1453.8 447.4 1510 447.4C1566.2 447.4 1622.4 447.4 1678.6 447.4" stroke="#c34220"/>
<path d="M1004.2 463C1071.6 463 1139.1 462.8 1206.5 462.5C1251.5 462.3 1296.4 455.3 1341.4 455.3C1397.6 455.3 1453.8 461.3 1510 463.9C1566.2 466.4 1622.4 470.7 1678.6 470.7" stroke="#c34220"/>
<path d="M1004.2 466.2C1060.4 466.2 1116.6 478.6 1172.8 482.1C1229 485.6 1285.2 489.2 1341.4 490.1C1397.6 490.9 1453.8 491.6 1510 491.6C1566.2 491.6 1622.4 491.6 1678.6 491.6" stroke="#c34220"/>
<path d="M1004.2 490.1C1060.4 490.1 1116.6 498.1 1172.8 501.2C1229 504.3 1285.2 508.2 1341.4 509.1C1397.6 510 1453.8 510.2 1510 510.7C1566.2 511.2 1622.4 512.3 1678.6 512.3" stroke="#c34220"/>
<path d="M1004.2 520.2C1060.4 520.2 1116.6 505.9 1172.8 505.9C1229 505.9 1285.2 507.4 1341.4 509.1C1397.6 510.8 1453.8 520.5 1510 521C1566.2 521.5 1622.4 521.8 1678.6 521.8" stroke="#c34220"/>
<path d="M1004.2 531.3C1060.4 531.3 1116.6 532.1 1172.8 532.9C1229 533.7 1285.2 535.5 1341.4 537.7C1397.6 539.9 1453.8 545.7 1510 548.8C1566.2 551.9 1622.4 556.8 1678.6 556.8" stroke="#c34220"/>
<path d="M1004.2 490.1C1060.4 490.1 1116.6 499.6 1172.8 505.9C1229 512.3 1285.2 522.7 1341.4 529.8C1397.6 536.8 1453.8 547.8 1510 548.8C1566.2 549.8 1622.4 550.4 1678.6 550.4" stroke="#c34220"/>
<path d="M1004.2 523.4C1060.4 523.4 1116.6 527.9 1172.8 531.3C1229 534.8 1285.2 539.7 1341.4 545.6C1397.6 551.6 1453.8 563.1 1510 569.5C1566.2 575.8 1622.4 585.3 1678.6 585.3" stroke="#c34220"/>
<path d="M1004.2 544.1C1060.4 544.1 1116.6 544.8 1172.8 545.6C1229 546.4 1285.2 548.2 1341.4 550.4C1397.6 552.6 1453.8 558.4 1510 561.5C1566.2 564.6 1622.4 569.5 1678.6 569.5" stroke="#c34220"/>
<path d="M1004.2 71.5C1069.4 63 1134.6 54.6 1199.8 46.1C1269.5 37.1 1339.2 27.8 1408.8 19.2C1498.8 8.2 1588.7 -12.5 1678.6 -12.5" stroke="#bc3825"/>
<path d="M1004.2 71.5C1069.4 77.1 1134.6 82 1199.8 82C1279.8 82 1359.8 77.4 1439.9 77.4C1519.4 77.4 1599 78.6 1678.6 78.6" stroke="#bc3825"/>
<path d="M1004.2 135.1C1069.4 121.3 1134.6 108.8 1199.8 97.6C1247 89.4 1294.2 80.2 1341.4 75.1C1374.2 71.5 1407 67.8 1439.9 66.7C1474.5 65.4 1509.1 64.5 1543.7 64.3C1588.7 64.2 1633.6 64 1678.6 64" stroke="#bc3825"/>
<path d="M1004.2 141.8C1069.4 137 1134.6 132.2 1199.8 127.3C1279.8 121.3 1359.8 114.3 1439.9 109.4C1519.4 104.5 1599 96.9 1678.6 96.9" stroke="#bc3825"/>
<path d="M1004.2 146C1069.4 142.8 1134.6 140 1199.8 138C1279.8 135.6 1359.8 132.2 1439.9 132.2C1519.4 132.2 1599 137.4 1678.6 137.4" stroke="#bc3825"/>
<path d="M1004.2 152.7C1069.4 152.7 1134.6 157 1199.8 157.5C1279.8 158 1359.8 158.3 1439.9 158.3C1519.4 158.3 1599 158.3 1678.6 158.3" stroke="#bc3825"/>
<path d="M1004.2 149.7C1069.4 159.2 1134.6 168.4 1199.8 177.4C1279.8 188.3 1359.8 200.3 1439.9 209.2C1485.7 214.3 1531.6 220.5 1577.4 222.6C1611.2 224.2 1644.9 225.7 1678.6 225.7" stroke="#bc3825"/>
<path d="M1004.2 424.7C1060.4 420.3 1116.6 415 1172.8 408.9C1229 402.9 1285.2 393.3 1341.4 387.5C1397.6 381.7 1453.8 374.6 1510 372.7C1566.2 370.8 1622.4 369.1 1678.6 369.1" stroke="#bc3825"/>
<path d="M1004.2 431.7C1060.4 431.7 1116.6 430.9 1172.8 429.6C1229 428.4 1285.2 418.8 1341.4 412.5C1397.6 406.3 1453.8 396.4 1510 391.6C1566.2 386.7 1622.4 380.3 1678.6 380.3" stroke="#bc3825"/>
<path d="M1004.2 466C1060.4 466 1116.6 460.4 1172.8 456.2C1229 452.1 1285.2 441.7 1341.4 439.2C1397.6 436.7 1453.8 435.3 1510 434.4C1566.2 433.4 1622.4 432.4 1678.6 432.4" stroke="#bc3825"/>
<path d="M1004.2 460.5C1060.4 460.5 1116.6 457.4 1172.8 455.6C1229 453.9 1285.2 450.8 1341.4 449.9C1397.6 449.1 1453.8 448.2 1510 448.2C1566.2 448.2 1622.4 448.2 1678.6 448.2" stroke="#bc3825"/>
<path d="M1004.2 464.3C1071.6 464.3 1139.1 463.7 1206.5 462.6C1251.5 461.9 1296.4 454.8 1341.4 454.8C1397.6 454.8 1453.8 460.3 1510 462.7C1566.2 465.1 1622.4 469.3 1678.6 469.3" stroke="#bc3825"/>
<path d="M1004.2 467.7C1060.4 467.7 1116.6 480.2 1172.8 483.6C1229 486.9 1285.2 490.2 1341.4 491C1397.6 491.8 1453.8 492.3 1510 492.4C1566.2 492.4 1622.4 492.4 1678.6 492.4" stroke="#bc3825"/>
<path d="M1004.2 490.7C1060.4 490.7 1116.6 499 1172.8 502C1229 505.1 1285.2 508.9 1341.4 509.7C1397.6 510.5 1453.8 510.6 1510 511.1C1566.2 511.6 1622.4 512.7 1678.6 512.7" stroke="#bc3825"/>
<path d="M1004.2 521C1060.4 521 1116.6 507 1172.8 507C1229 507 1285.2 508.3 1341.4 509.8C1397.6 511.3 1453.8 521.1 1510 521.5C1566.2 521.9 1622.4 522.2 1678.6 522.2" stroke="#bc3825"/>
<path d="M1004.2 530.8C1060.4 530.8 1116.6 531.7 1172.8 532.5C1229 533.3 1285.2 535.1 1341.4 537.4C1397.6 539.6 1453.8 545.4 1510 548.6C1566.2 551.7 1622.4 556.8 1678.6 556.8" stroke="#bc3825"/>
<path d="M1004.2 490.7C1060.4 490.7 1116.6 500.4 1172.8 506.8C1229 513.2 1285.2 523.7 1341.4 530.7C1397.6 537.7 1453.8 548.4 1510 549.3C1566.2 550.2 1622.4 550.8 1678.6 550.8" stroke="#bc3825"/>
<path d="M1004.2 523.8C1060.4 523.8 1116.6 528.4 1172.8 531.9C1229 535.4 1285.2 540.5 1341.4 546.6C1397.6 552.6 1453.8 564 1510 570.3C1566.2 576.6 1622.4 586 1678.6 586" stroke="#bc3825"/>
<path d="M1004.2 543.2C1060.4 543.2 1116.6 544.1 1172.8 544.9C1229 545.8 1285.2 547.7 1341.4 550.1C1397.6 552.4 1453.8 558.1 1510 561.3C1566.2 564.4 1622.4 569.5 1678.6 569.5" stroke="#bc3825"/>
<path d="M1004.2 72.2C1069.4 63.8 1134.6 55.3 1199.8 46.9C1269.5 37.9 1339.2 28.7 1408.8 20.1C1498.8 9 1588.7 -11.7 1678.6 -11.7" stroke="#b4302b"/>
<path d="M1004.2 72.2C1069.4 77.9 1134.6 82.9 1199.8 82.9C1279.8 82.9 1359.8 78.6 1439.9 78.6C1519.4 78.6 1599 80.1 1678.6 80.1" stroke="#b4302b"/>
<path d="M1004.2 135.9C1069.4 122.6 1134.6 110.3 1199.8 99C1247 90.8 1294.2 81.5 1341.4 76.2C1374.2 72.4 1407 68.4 1439.9 67.3C1474.5 66.1 1509.1 65.2 1543.7 65.1C1588.7 64.9 1633.6 64.8 1678.6 64.8" stroke="#b4302b"/>
<path d="M1004.2 142.3C1069.4 137.6 1134.6 132.9 1199.8 128.1C1279.8 122.2 1359.8 115.2 1439.9 110.2C1519.4 105.3 1599 97.7 1678.6 97.7" stroke="#b4302b"/>
<path d="M1004.2 146.6C1069.4 143.5 1134.6 140.7 1199.8 138.7C1279.8 136.1 1359.8 132.5 1439.9 132.5C1519.4 132.5 1599 137.6 1678.6 137.6" stroke="#b4302b"/>
<path d="M1004.2 153.6C1069.4 153.6 1134.6 157.9 1199.8 158.4C1279.8 158.9 1359.8 159.3 1439.9 159.3C1519.4 159.3 1599 159.3 1678.6 159.3" stroke="#b4302b"/>
<path d="M1004.2 150.8C1069.4 160.2 1134.6 169.5 1199.8 178.4C1279.8 189.3 1359.8 201.3 1439.9 210.2C1485.7 215.3 1531.6 221.6 1577.4 223.6C1611.2 225.1 1644.9 226.7 1678.6 226.7" stroke="#b4302b"/>
<path d="M1004.2 422.9C1060.4 418.5 1116.6 413.2 1172.8 407.3C1229 401.4 1285.2 392.4 1341.4 386.6C1397.6 380.7 1453.8 373.6 1510 371.4C1566.2 369.3 1622.4 367.3 1678.6 367.3" stroke="#b4302b"/>
<path d="M1004.2 429C1060.4 429 1116.6 428.7 1172.8 428.1C1229 427.5 1285.2 420 1341.4 414.5C1397.6 409.1 1453.8 398.4 1510 393.6C1566.2 388.7 1622.4 382.4 1678.6 382.4" stroke="#b4302b"/>
<path d="M1004.2 468.3C1060.4 468.3 1116.6 461.9 1172.8 457.2C1229 452.6 1285.2 441.1 1341.4 438.5C1397.6 435.8 1453.8 434.4 1510 433.4C1566.2 432.5 1622.4 431.4 1678.6 431.4" stroke="#b4302b"/>
<path d="M1004.2 461.9C1060.4 461.9 1116.6 458.5 1172.8 456.6C1229 454.8 1285.2 451.7 1341.4 450.8C1397.6 450 1453.8 449.2 1510 449.2C1566.2 449.2 1622.4 449.2 1678.6 449.2" stroke="#b4302b"/>
<path d="M1004.2 465.8C1071.6 465.8 1139.1 464.4 1206.5 462.7C1251.5 461.6 1296.4 454.3 1341.4 454.3C1397.6 454.3 1453.8 459.2 1510 461.5C1566.2 463.8 1622.4 468 1678.6 468" stroke="#b4302b"/>
<path d="M1004.2 469.4C1060.4 469.4 1116.6 482.1 1172.8 485.2C1229 488.4 1285.2 491.4 1341.4 492C1397.6 492.7 1453.8 493.1 1510 493.1C1566.2 493.2 1622.4 493.2 1678.6 493.2" stroke="#b4302b"/>
<path d="M1004.2 491.5C1060.4 491.5 1116.6 500 1172.8 503C1229 505.9 1285.2 509.6 1341.4 510.3C1397.6 511 1453.8 511.1 1510 511.6C1566.2 512.1 1622.4 513.1 1678.6 513.1" stroke="#b4302b"/>
<path d="M1004.2 521.8C1060.4 521.8 1116.6 508.2 1172.8 508.2C1229 508.2 1285.2 509.3 1341.4 510.6C1397.6 511.9 1453.8 521.6 1510 522C1566.2 522.4 1622.4 522.6 1678.6 522.6" stroke="#b4302b"/>
<path d="M1004.2 530.4C1060.4 530.4 1116.6 531.2 1172.8 532C1229 532.9 1285.2 534.8 1341.4 537.1C1397.6 539.4 1453.8 545.2 1510 548.4C1566.2 551.6 1622.4 556.8 1678.6 556.8" stroke="#b4302b"/>
<path d="M1004.2 491.5C1060.4 491.5 1116.6 501.3 1172.8 507.7C1229 514.2 1285.2 524.8 1341.4 531.7C1397.6 538.6 1453.8 549.1 1510 549.9C1566.2 550.7 1622.4 551.1 1678.6 551.1" stroke="#b4302b"/>
<path d="M1004.2 524.2C1060.4 524.2 1116.6 529 1172.8 532.5C1229 536.1 1285.2 541.5 1341.4 547.6C1397.6 553.7 1453.8 565 1510 571.2C1566.2 577.5 1622.4 586.8 1678.6 586.8" stroke="#b4302b"/>
<path d="M1004.2 542.4C1060.4 542.4 1116.6 543.3 1172.8 544.2C1229 545.1 1285.2 547.3 1341.4 549.8C1397.6 552.3 1453.8 557.9 1510 561.1C1566.2 564.3 1622.4 569.5 1678.6 569.5" stroke="#b4302b"/>
<path d="M1004.2 73C1069.4 64.5 1134.6 56.1 1199.8 47.7C1269.5 38.7 1339.2 29.5 1408.8 21C1498.8 9.9 1588.7 -10.8 1678.6 -10.8" stroke="#ab2a30"/>
<path d="M1004.2 73C1069.4 78.8 1134.6 83.9 1199.8 83.9C1279.8 83.9 1359.8 79.8 1439.9 79.8C1519.4 79.8 1599 81.7 1678.6 81.7" stroke="#ab2a30"/>
<path d="M1004.2 136.8C1069.4 123.9 1134.6 111.8 1199.8 100.5C1247 92.3 1294.2 83 1341.4 77.4C1374.2 73.5 1407 69 1439.9 68C1474.5 66.8 1509.1 66 1543.7 65.9C1588.7 65.7 1633.6 65.6 1678.6 65.6" stroke="#ab2a30"/>
<path d="M1004.2 142.9C1069.4 138.4 1134.6 133.9 1199.8 129.2C1279.8 123.5 1359.8 116.4 1439.9 111.5C1519.4 106.6 1599 98.9 1678.6 98.9" stroke="#ab2a30"/>
<path d="M1004.2 147.4C1069.4 144.4 1134.6 141.6 1199.8 139.5C1279.8 136.9 1359.8 133.1 1439.9 133.1C1519.4 133.1 1599 138.1 1678.6 138.1" stroke="#ab2a30"/>
<path d="M1004.2 154.6C1069.4 154.6 1134.6 158.8 1199.8 159.3C1279.8 159.9 1359.8 160.4 1439.9 160.4C1519.4 160.4 1599 160.4 1678.6 160.4" stroke="#ab2a30"/>
<path d="M1004.2 152C1069.4 161.4 1134.6 170.6 1199.8 179.5C1279.8 190.4 1359.8 202.4 1439.9 211.3C1485.7 216.4 1531.6 222.7 1577.4 224.7C1611.2 226.2 1644.9 227.6 1678.6 227.6" stroke="#ab2a30"/>
<path d="M1004.2 421.2C1060.4 416.9 1116.6 411.6 1172.8 405.8C1229 400 1285.2 391.4 1341.4 385.6C1397.6 379.8 1453.8 372.7 1510 370.3C1566.2 368 1622.4 365.7 1678.6 365.7" stroke="#ab2a30"/>
<path d="M1004.2 426.4C1060.4 426.4 1116.6 426.7 1172.8 426.7C1229 426.7 1285.2 421.2 1341.4 416.7C1397.6 412.2 1453.8 400.8 1510 396C1566.2 391.3 1622.4 385.2 1678.6 385.2" stroke="#ab2a30"/>
<path d="M1004.2 470.7C1060.4 470.7 1116.6 463.4 1172.8 458.3C1229 453.1 1285.2 440.5 1341.4 437.7C1397.6 434.9 1453.8 433.4 1510 432.5C1566.2 431.5 1622.4 430.5 1678.6 430.5" stroke="#ab2a30"/>
<path d="M1004.2 463.5C1060.4 463.5 1116.6 459.7 1172.8 457.7C1229 455.8 1285.2 452.6 1341.4 451.8C1397.6 451 1453.8 450.2 1510 450.2C1566.2 450.2 1622.4 450.2 1678.6 450.2" stroke="#ab2a30"/>
<path d="M1004.2 467.3C1071.6 467.3 1139.1 465.2 1206.5 463C1251.5 461.5 1296.4 454 1341.4 454C1397.6 454 1453.8 458.3 1510 460.4C1566.2 462.5 1622.4 466.8 1678.6 466.8" stroke="#ab2a30"/>
<path d="M1004.2 471.4C1060.4 471.4 1116.6 484.2 1172.8 487.1C1229 490 1285.2 492.5 1341.4 493.1C1397.6 493.6 1453.8 493.9 1510 494C1566.2 494 1622.4 494.1 1678.6 494.1" stroke="#ab2a30"/>
<path d="M1004.2 492.3C1060.4 492.3 1116.6 501.1 1172.8 504C1229 506.9 1285.2 510.3 1341.4 511C1397.6 511.6 1453.8 511.7 1510 512.1C1566.2 512.5 1622.4 513.6 1678.6 513.6" stroke="#ab2a30"/>
<path d="M1004.2 522.7C1060.4 522.7 1116.6 509.4 1172.8 509.4C1229 509.4 1285.2 510.3 1341.4 511.4C1397.6 512.6 1453.8 522.2 1510 522.5C1566.2 522.8 1622.4 523 1678.6 523" stroke="#ab2a30"/>
<path d="M1004.2 529.9C1060.4 529.9 1116.6 530.7 1172.8 531.6C1229 532.4 1285.2 534.4 1341.4 536.8C1397.6 539.2 1453.8 544.9 1510 548.1C1566.2 551.4 1622.4 556.8 1678.6 556.8" stroke="#ab2a30"/>
<path d="M1004.2 492.3C1060.4 492.3 1116.6 502.3 1172.8 508.8C1229 515.3 1285.2 526 1341.4 532.8C1397.6 539.6 1453.8 549.7 1510 550.4C1566.2 551.1 1622.4 551.5 1678.6 551.5" stroke="#ab2a30"/>
<path d="M1004.2 524.6C1060.4 524.6 1116.6 529.5 1172.8 533.2C1229 536.9 1285.2 542.4 1341.4 548.7C1397.6 554.9 1453.8 566 1510 572.3C1566.2 578.5 1622.4 587.8 1678.6 587.8" stroke="#ab2a30"/>
<path d="M1004.2 541.7C1060.4 541.7 1116.6 542.6 1172.8 543.5C1229 544.4 1285.2 546.9 1341.4 549.5C1397.6 552.2 1453.8 557.6 1510 560.8C1566.2 564.1 1622.4 569.5 1678.6 569.5" stroke="#ab2a30"/>
<path d="M1004.2 73.9C1069.4 65.4 1134.6 56.9 1199.8 48.5C1269.5 39.6 1339.2 30.4 1408.8 21.9C1498.8 10.8 1588.7 -9.9 1678.6 -9.9" stroke="#9d2434"/>
<path d="M1004.2 73.9C1069.4 79.7 1134.6 85 1199.8 85C1279.8 85 1359.8 81.2 1439.9 81.2C1519.4 81.2 1599 83.5 1678.6 83.5" stroke="#9d2434"/>
<path d="M1004.2 137.7C1069.4 125.3 1134.6 113.4 1199.8 102.1C1247 94 1294.2 84.5 1341.4 78.6C1374.2 74.5 1407 69.7 1439.9 68.6C1474.5 67.5 1509.1 66.8 1543.7 66.7C1588.7 66.6 1633.6 66.5 1678.6 66.5" stroke="#9d2434"/>
<path d="M1004.2 143.5C1069.4 139.4 1134.6 135 1199.8 130.5C1279.8 125 1359.8 118 1439.9 113.1C1519.4 108.2 1599 100.4 1678.6 100.4" stroke="#9d2434"/>
<path d="M1004.2 148.3C1069.4 145.3 1134.6 142.6 1199.8 140.5C1279.8 138 1359.8 134.1 1439.9 134.1C1519.4 134.1 1599 139 1678.6 139" stroke="#9d2434"/>
<path d="M1004.2 155.6C1069.4 155.6 1134.6 159.7 1199.8 160.3C1279.8 160.9 1359.8 161.5 1439.9 161.5C1519.4 161.5 1599 161.5 1678.6 161.5" stroke="#9d2434"/>
<path d="M1004.2 153.4C1069.4 162.7 1134.6 171.8 1199.8 180.7C1279.8 191.6 1359.8 203.6 1439.9 212.4C1485.7 217.5 1531.6 223.9 1577.4 225.8C1611.2 227.2 1644.9 228.6 1678.6 228.6" stroke="#9d2434"/>
<path d="M1004.2 419.7C1060.4 415.4 1116.6 410.2 1172.8 404.4C1229 398.7 1285.2 390.4 1341.4 384.7C1397.6 378.9 1453.8 372 1510 369.4C1566.2 366.8 1622.4 364.2 1678.6 364.2" stroke="#9d2434"/>
<path d="M1004.2 423.7C1060.4 423.7 1116.6 425.4 1172.8 425.4C1229 425.4 1285.2 422.2 1341.4 419C1397.6 415.7 1453.8 403.5 1510 399C1566.2 394.5 1622.4 388.8 1678.6 388.8" stroke="#9d2434"/>
<path d="M1004.2 473.3C1060.4 473.3 1116.6 465.1 1172.8 459.4C1229 453.7 1285.2 439.9 1341.4 437C1397.6 434.1 1453.8 432.5 1510 431.6C1566.2 430.6 1622.4 429.7 1678.6 429.7" stroke="#9d2434"/>
<path d="M1004.2 465.2C1060.4 465.2 1116.6 461 1172.8 458.9C1229 456.9 1285.2 453.6 1341.4 452.9C1397.6 452.1 1453.8 451.4 1510 451.4C1566.2 451.4 1622.4 451.4 1678.6 451.4" stroke="#9d2434"/>
<path d="M1004.2 468.9C1071.6 468.9 1139.1 466 1206.5 463.3C1251.5 461.4 1296.4 453.7 1341.4 453.7C1397.6 453.7 1453.8 457.4 1510 459.4C1566.2 461.4 1622.4 465.7 1678.6 465.7" stroke="#9d2434"/>
<path d="M1004.2 473.6C1060.4 473.6 1116.6 486.6 1172.8 489.1C1229 491.7 1285.2 493.8 1341.4 494.2C1397.6 494.6 1453.8 494.8 1510 494.9C1566.2 495 1622.4 495 1678.6 495" stroke="#9d2434"/>
<path d="M1004.2 493.2C1060.4 493.2 1116.6 502.3 1172.8 505.1C1229 507.9 1285.2 511 1341.4 511.6C1397.6 512.2 1453.8 512.3 1510 512.7C1566.2 513.1 1622.4 514 1678.6 514" stroke="#9d2434"/>
<path d="M1004.2 523.6C1060.4 523.6 1116.6 510.8 1172.8 510.8C1229 510.8 1285.2 511.5 1341.4 512.4C1397.6 513.3 1453.8 522.9 1510 523.1C1566.2 523.3 1622.4 523.4 1678.6 523.4" stroke="#9d2434"/>
<path d="M1004.2 529.4C1060.4 529.4 1116.6 530.3 1172.8 531.1C1229 532 1285.2 534.1 1341.4 536.6C1397.6 539.1 1453.8 544.6 1510 547.9C1566.2 551.2 1622.4 556.8 1678.6 556.8" stroke="#9d2434"/>
<path d="M1004.2 493.2C1060.4 493.2 1116.6 503.3 1172.8 509.9C1229 516.4 1285.2 527.3 1341.4 533.9C1397.6 540.6 1453.8 550.4 1510 551C1566.2 551.6 1622.4 551.9 1678.6 551.9" stroke="#9d2434"/>
<path d="M1004.2 525C1060.4 525 1116.6 530.1 1172.8 533.9C1229 537.7 1285.2 543.4 1341.4 549.8C1397.6 556.1 1453.8 567.2 1510 573.4C1566.2 579.7 1622.4 588.9 1678.6 588.9" stroke="#9d2434"/>
<path d="M1004.2 540.9C1060.4 540.9 1116.6 541.8 1172.8 542.8C1229 543.8 1285.2 546.6 1341.4 549.3C1397.6 552 1453.8 557.3 1510 560.6C1566.2 563.9 1622.4 569.5 1678.6 569.5" stroke="#9d2434"/>
<path d="M1004.2 74.7C1069.4 66.2 1134.6 57.8 1199.8 49.4C1269.5 40.5 1339.2 31.3 1408.8 22.8C1498.8 11.8 1588.7 -9 1678.6 -9" stroke="#8b1f37"/>
<path d="M1004.2 74.7C1069.4 80.7 1134.6 86.1 1199.8 86.1C1279.8 86.1 1359.8 82.6 1439.9 82.6C1519.4 82.6 1599 85.4 1678.6 85.4" stroke="#8b1f37"/>
<path d="M1004.2 138.7C1069.4 126.7 1134.6 115.2 1199.8 103.9C1247 95.7 1294.2 86 1341.4 79.9C1374.2 75.7 1407 70.3 1439.9 69.3C1474.5 68.4 1509.1 67.8 1543.7 67.7C1588.7 67.5 1633.6 67.4 1678.6 67.4" stroke="#8b1f37"/>
<path d="M1004.2 144.3C1069.4 140.5 1134.6 136.4 1199.8 132.1C1279.8 126.8 1359.8 120 1439.9 115.1C1519.4 110.3 1599 102.4 1678.6 102.4" stroke="#8b1f37"/>
<path d="M1004.2 149.4C1069.4 146.4 1134.6 143.8 1199.8 141.7C1279.8 139.2 1359.8 135.4 1439.9 135.4C1519.4 135.4 1599 140.3 1678.6 140.3" stroke="#8b1f37"/>
<path d="M1004.2 156.7C1069.4 156.7 1134.6 160.6 1199.8 161.2C1279.8 162 1359.8 162.6 1439.9 162.6C1519.4 162.6 1599 162.6 1678.6 162.6" stroke="#8b1f37"/>
<path d="M1004.2 154.9C1069.4 164.1 1134.6 173.2 1199.8 182C1279.8 192.8 1359.8 204.7 1439.9 213.6C1485.7 218.7 1531.6 225.2 1577.4 227C1611.2 228.4 1644.9 229.7 1678.6 229.7" stroke="#8b1f37"/>
<path d="M1004.2 418.3C1060.4 414 1116.6 408.9 1172.8 403.2C1229 397.5 1285.2 389.3 1341.4 383.7C1397.6 378 1453.8 371.5 1510 368.7C1566.2 365.9 1622.4 362.8 1678.6 362.8" stroke="#8b1f37"/>
<path d="M1004.2 421.1C1060.4 421.1 1116.6 424.3 1172.8 424.3C1229 424.3 1285.2 423.1 1341.4 421.4C1397.6 419.6 1453.8 406.6 1510 402.4C1566.2 398.3 1622.4 393.1 1678.6 393.1" stroke="#8b1f37"/>
<path d="M1004.2 476C1060.4 476 1116.6 466.9 1172.8 460.6C1229 454.3 1285.2 439.1 1341.4 436.2C1397.6 433.2 1453.8 431.6 1510 430.7C1566.2 429.8 1622.4 428.9 1678.6 428.9" stroke="#8b1f37"/>
<path d="M1004.2 467C1060.4 467 1116.6 462.4 1172.8 460.2C1229 458.1 1285.2 454.7 1341.4 454C1397.6 453.3 1453.8 452.8 1510 452.8C1566.2 452.8 1622.4 452.8 1678.6 452.8" stroke="#8b1f37"/>
<path d="M1004.2 470.6C1071.6 470.6 1139.1 466.9 1206.5 463.7C1251.5 461.5 1296.4 453.6 1341.4 453.6C1397.6 453.6 1453.8 456.6 1510 458.4C1566.2 460.3 1622.4 464.7 1678.6 464.7" stroke="#8b1f37"/>
<path d="M1004.2 476.1C1060.4 476.1 1116.6 489.2 1172.8 491.4C1229 493.5 1285.2 495.1 1341.4 495.4C1397.6 495.7 1453.8 495.8 1510 495.9C1566.2 496 1622.4 496.1 1678.6 496.1" stroke="#8b1f37"/>
<path d="M1004.2 494.2C1060.4 494.2 1116.6 503.7 1172.8 506.4C1229 509 1285.2 511.8 1341.4 512.4C1397.6 512.9 1453.8 512.9 1510 513.3C1566.2 513.6 1622.4 514.5 1678.6 514.5" stroke="#8b1f37"/>
<path d="M1004.2 524.5C1060.4 524.5 1116.6 512.3 1172.8 512.3C1229 512.3 1285.2 512.7 1341.4 513.3C1397.6 514 1453.8 523.6 1510 523.7C1566.2 523.8 1622.4 523.9 1678.6 523.9" stroke="#8b1f37"/>
<path d="M1004.2 529C1060.4 529 1116.6 529.8 1172.8 530.7C1229 531.5 1285.2 533.9 1341.4 536.4C1397.6 538.9 1453.8 544.3 1510 547.7C1566.2 551 1622.4 556.8 1678.6 556.8" stroke="#8b1f37"/>
<path d="M1004.2 494.2C1060.4 494.2 1116.6 504.5 1172.8 511.1C1229 517.7 1285.2 528.6 1341.4 535.1C1397.6 541.6 1453.8 551.1 1510 551.6C1566.2 552 1622.4 552.3 1678.6 552.3" stroke="#8b1f37"/>
<path d="M1004.2 525.5C1060.4 525.5 1116.6 530.7 1172.8 534.6C1229 538.5 1285.2 544.5 1341.4 551C1397.6 557.4 1453.8 568.4 1510 574.6C1566.2 580.9 1622.4 590.2 1678.6 590.2" stroke="#8b1f37"/>
<path d="M1004.2 540.2C1060.4 540.2 1116.6 541.1 1172.8 542.2C1229 543.2 1285.2 546.2 1341.4 549.1C1397.6 552 1453.8 557 1510 560.4C1566.2 563.7 1622.4 569.5 1678.6 569.5" stroke="#8b1f37"/>
<path d="M1004.2 75.7C1069.4 67.2 1134.6 58.7 1199.8 50.3C1269.5 41.4 1339.2 32.3 1408.8 23.8C1498.8 12.8 1588.7 -8 1678.6 -8" stroke="#6b1835"/>
<path d="M1004.2 75.7C1069.4 81.7 1134.6 87.3 1199.8 87.3C1279.8 87.3 1359.8 84.1 1439.9 84.1C1519.4 84.1 1599 87.4 1678.6 87.4" stroke="#6b1835"/>
<path d="M1004.2 139.7C1069.4 128.3 1134.6 117 1199.8 105.7C1247 97.6 1294.2 87.7 1341.4 81.3C1374.2 76.8 1407 70.9 1439.9 70.1C1474.5 69.2 1509.1 68.7 1543.7 68.7C1588.7 68.5 1633.6 68.5 1678.6 68.5" stroke="#6b1835"/>
<path d="M1004.2 145.2C1069.4 141.7 1134.6 138 1199.8 133.9C1279.8 128.9 1359.8 122.4 1439.9 117.6C1519.4 112.8 1599 104.8 1678.6 104.8" stroke="#6b1835"/>
<path d="M1004.2 150.5C1069.4 147.7 1134.6 145.1 1199.8 143.1C1279.8 140.7 1359.8 137.1 1439.9 137.1C1519.4 137.1 1599 141.9 1678.6 141.9" stroke="#6b1835"/>
<path d="M1004.2 157.8C1069.4 157.8 1134.6 161.6 1199.8 162.2C1279.8 163 1359.8 163.8 1439.9 163.8C1519.4 163.8 1599 163.8 1678.6 163.8" stroke="#6b1835"/>
<path d="M1004.2 156.5C1069.4 165.6 1134.6 174.6 1199.8 183.4C1279.8 194.1 1359.8 206 1439.9 214.8C1485.7 219.9 1531.6 226.6 1577.4 228.3C1611.2 229.6 1644.9 230.7 1678.6 230.7" stroke="#6b1835"/>
<path d="M1004.2 417.1C1060.4 412.8 1116.6 407.7 1172.8 402.1C1229 396.5 1285.2 388.3 1341.4 382.7C1397.6 377.2 1453.8 371.2 1510 368.2C1566.2 365.1 1622.4 361.6 1678.6 361.6" stroke="#6b1835"/>
<path d="M1004.2 418.5C1060.4 418.5 1116.6 423.1 1172.8 423.4C1229 423.7 1285.2 423.9 1341.4 423.9C1397.6 423.9 1453.8 410 1510 406.3C1566.2 402.6 1622.4 398.2 1678.6 398.2" stroke="#6b1835"/>
<path d="M1004.2 478.8C1060.4 478.8 1116.6 468.7 1172.8 461.8C1229 454.9 1285.2 438.4 1341.4 435.3C1397.6 432.3 1453.8 430.7 1510 429.8C1566.2 428.9 1622.4 428.1 1678.6 428.1" stroke="#6b1835"/>
<path d="M1004.2 468.9C1060.4 468.9 1116.6 463.8 1172.8 461.6C1229 459.3 1285.2 455.9 1341.4 455.3C1397.6 454.7 1453.8 454.3 1510 454.3C1566.2 454.3 1622.4 454.3 1678.6 454.3" stroke="#6b1835"/>
<path d="M1004.2 472.3C1071.6 472.3 1139.1 467.8 1206.5 464.1C1251.5 461.7 1296.4 453.5 1341.4 453.5C1397.6 453.5 1453.8 455.9 1510 457.5C1566.2 459.2 1622.4 463.8 1678.6 463.8" stroke="#6b1835"/>
<path d="M1004.2 478.8C1060.4 478.8 1116.6 492.2 1172.8 493.8C1229 495.4 1285.2 496.5 1341.4 496.7C1397.6 496.8 1453.8 496.8 1510 496.9C1566.2 497 1622.4 497.2 1678.6 497.2" stroke="#6b1835"/>
<path d="M1004.2 495.3C1060.4 495.3 1116.6 505.2 1172.8 507.7C1229 510.2 1285.2 512.6 1341.4 513.1C1397.6 513.6 1453.8 513.7 1510 514C1566.2 514.3 1622.4 515 1678.6 515" stroke="#6b1835"/>
<path d="M1004.2 525.5C1060.4 525.5 1116.6 513.8 1172.8 513.8C1229 513.8 1285.2 514 1341.4 514.4C1397.6 514.7 1453.8 524.3 1510 524.3C1566.2 524.4 1622.4 524.4 1678.6 524.4" stroke="#6b1835"/>
<path d="M1004.2 528.6C1060.4 528.6 1116.6 529.4 1172.8 530.2C1229 531.1 1285.2 533.6 1341.4 536.2C1397.6 538.9 1453.8 544.1 1510 547.5C1566.2 550.8 1622.4 556.8 1678.6 556.8" stroke="#6b1835"/>
<path d="M1004.2 495.3C1060.4 495.3 1116.6 505.8 1172.8 512.5C1229 519.1 1285.2 530 1341.4 536.4C1397.6 542.7 1453.8 551.8 1510 552.2C1566.2 552.5 1622.4 552.7 1678.6 552.7" stroke="#6b1835"/>
<path d="M1004.2 526C1060.4 526 1116.6 531.3 1172.8 535.3C1229 539.3 1285.2 545.7 1341.4 552.3C1397.6 558.8 1453.8 569.7 1510 576C1566.2 582.3 1622.4 591.7 1678.6 591.7" stroke="#6b1835"/>
<path d="M1004.2 539.5C1060.4 539.5 1116.6 540.5 1172.8 541.5C1229 542.6 1285.2 546 1341.4 548.9C1397.6 551.9 1453.8 556.8 1510 560.2C1566.2 563.5 1622.4 569.5 1678.6 569.5" stroke="#6b1835"/>
<path d="M1004.2 76.7C1069.4 68.1 1134.6 59.7 1199.8 51.3C1269.5 42.3 1339.2 33.3 1408.8 24.8C1498.8 13.8 1588.7 -7 1678.6 -7" stroke="#4a1232"/>
<path d="M1004.2 76.7C1069.4 82.8 1134.6 88.6 1199.8 88.6C1279.8 88.6 1359.8 85.8 1439.9 85.8C1519.4 85.8 1599 89.6 1678.6 89.6" stroke="#4a1232"/>
<path d="M1004.2 140.7C1069.4 130 1134.6 118.9 1199.8 107.7C1247 99.5 1294.2 89.4 1341.4 82.7C1374.2 78.1 1407 71.5 1439.9 70.8C1474.5 70.1 1509.1 69.8 1543.7 69.7C1588.7 69.6 1633.6 69.6 1678.6 69.6" stroke="#4a1232"/>
<path d="M1004.2 146.3C1069.4 143.2 1134.6 139.7 1199.8 135.9C1279.8 131.3 1359.8 125.1 1439.9 120.4C1519.4 115.7 1599 107.5 1678.6 107.5" stroke="#4a1232"/>
<path d="M1004.2 151.8C1069.4 149 1134.6 146.5 1199.8 144.7C1279.8 142.4 1359.8 139.1 1439.9 139.1C1519.4 139.1 1599 143.9 1678.6 143.9" stroke="#4a1232"/>
<path d="M1004.2 159C1069.4 159 1134.6 162.5 1199.8 163.2C1279.8 164.1 1359.8 165 1439.9 165C1519.4 165 1599 165 1678.6 165" stroke="#4a1232"/>
<path d="M1004.2 158.2C1069.4 167.2 1134.6 176.2 1199.8 184.8C1279.8 195.5 1359.8 207.3 1439.9 216.1C1485.7 221.2 1531.6 228 1577.4 229.6C1611.2 230.8 1644.9 231.9 1678.6 231.9" stroke="#4a1232"/>
<path d="M1004.2 415.9C1060.4 411.7 1116.6 406.7 1172.8 401.1C1229 395.5 1285.2 387.2 1341.4 381.8C1397.6 376.3 1453.8 371 1510 367.8C1566.2 364.6 1622.4 360.5 1678.6 360.5" stroke="#4a1232"/>
<path d="M1004.2 415.9C1060.4 415.9 1116.6 420.9 1172.8 422.6C1229 424.2 1285.2 426.5 1341.4 426.5C1397.6 426.5 1453.8 413.8 1510 410.7C1566.2 407.5 1622.4 404 1678.6 404" stroke="#4a1232"/>
<path d="M1004.2 481.8C1060.4 481.8 1116.6 470.6 1172.8 463.1C1229 455.5 1285.2 437.6 1341.4 434.5C1397.6 431.4 1453.8 429.7 1510 428.9C1566.2 428.1 1622.4 427.3 1678.6 427.3" stroke="#4a1232"/>
<path d="M1004.2 471C1060.4 471 1116.6 465.4 1172.8 463.1C1229 460.7 1285.2 457.2 1341.4 456.7C1397.6 456.2 1453.8 455.9 1510 455.9C1566.2 455.9 1622.4 455.9 1678.6 455.9" stroke="#4a1232"/>
<path d="M1004.2 474.2C1071.6 474.2 1139.1 468.8 1206.5 464.7C1251.5 461.9 1296.4 453.5 1341.4 453.5C1397.6 453.5 1453.8 455.3 1510 456.7C1566.2 458.1 1622.4 463.1 1678.6 463.1" stroke="#4a1232"/>
<path d="M1004.2 481.8C1060.4 481.8 1116.6 495.5 1172.8 496.4C1229 497.4 1285.2 498 1341.4 498C1397.6 498 1453.8 498 1510 498C1566.2 498 1622.4 498.3 1678.6 498.3" stroke="#4a1232"/>
<path d="M1004.2 496.4C1060.4 496.4 1116.6 506.8 1172.8 509.1C1229 511.4 1285.2 513.4 1341.4 513.9C1397.6 514.3 1453.8 514.4 1510 514.7C1566.2 514.9 1622.4 515.5 1678.6 515.5" stroke="#4a1232"/>
<path d="M1004.2 526.6C1060.4 526.6 1116.6 515.5 1172.8 515.5C1229 515.5 1285.2 515.5 1341.4 515.5C1397.6 515.5 1453.8 525 1510 525C1566.2 525 1622.4 525 1678.6 525" stroke="#4a1232"/>
<path d="M1004.2 528.2C1060.4 528.2 1116.6 528.9 1172.8 529.8C1229 530.6 1285.2 533.4 1341.4 536.1C1397.6 538.8 1453.8 543.8 1510 547.2C1566.2 550.6 1622.4 556.8 1678.6 556.8" stroke="#4a1232"/>
<path d="M1004.2 496.4C1060.4 496.4 1116.6 507.2 1172.8 513.9C1229 520.6 1285.2 531.5 1341.4 537.7C1397.6 543.9 1453.8 552.6 1510 552.8C1566.2 553 1622.4 553.1 1678.6 553.1" stroke="#4a1232"/>
<path d="M1004.2 526.6C1060.4 526.6 1116.6 532 1172.8 536.1C1229 540.2 1285.2 546.9 1341.4 553.6C1397.6 560.3 1453.8 571 1510 577.4C1566.2 583.8 1622.4 593.3 1678.6 593.3" stroke="#4a1232"/>
<path d="M1004.2 538.8C1060.4 538.8 1116.6 539.8 1172.8 540.9C1229 542 1285.2 545.7 1341.4 548.8C1397.6 551.9 1453.8 556.5 1510 559.9C1566.2 563.4 1622.4 569.5 1678.6 569.5" stroke="#4a1232"/>
</g>
<rect x="1004.2" y="45.4" width="674.4" height="508.3" fill="none" stroke="#1c1c1c" stroke-width="1.5"/>
<line x1="997.7" y1="537.7" x2="1004.2" y2="537.7" stroke="#000" stroke-width="1.4"/>
<line x1="997.7" y1="458.3" x2="1004.2" y2="458.3" stroke="#000" stroke-width="1.4"/>
<text x="990.9" y="468.2" text-anchor="end" font-size="29.5" stroke="#000" stroke-width="0.5" stroke-linejoin="round">-1</text>
<line x1="997.7" y1="378.9" x2="1004.2" y2="378.9" stroke="#000" stroke-width="1.4"/>
<line x1="997.7" y1="299.5" x2="1004.2" y2="299.5" stroke="#000" stroke-width="1.4"/>
<text x="990.9" y="309.4" text-anchor="end" font-size="29.5" stroke="#000" stroke-width="0.5" stroke-linejoin="round">0</text>
<line x1="997.7" y1="220.1" x2="1004.2" y2="220.1" stroke="#000" stroke-width="1.4"/>
<line x1="997.7" y1="140.7" x2="1004.2" y2="140.7" stroke="#000" stroke-width="1.4"/>
<text x="990.9" y="150.6" text-anchor="end" font-size="29.5" stroke="#000" stroke-width="0.5" stroke-linejoin="round">1</text>
<line x1="997.7" y1="61.3" x2="1004.2" y2="61.3" stroke="#000" stroke-width="1.4"/>
<line x1="1004.2" y1="553.7" x2="1004.2" y2="560.2" stroke="#000" stroke-width="1.4"/>
<line x1="1678.6" y1="553.7" x2="1678.6" y2="560.2" stroke="#000" stroke-width="1.4"/>
<text x="994.9" y="592.6" font-size="34.5" stroke="#000" stroke-width="0.5" stroke-linejoin="round" textLength="20.9" lengthAdjust="spacingAndGlyphs">Z</text>
<text x="1657.8" y="592" font-size="35" stroke="#000" stroke-width="0.5" stroke-linejoin="round" textLength="26.2" lengthAdjust="spacingAndGlyphs">G</text>
<text x="1075.7" y="35.4" font-size="47.5" stroke="#000" stroke-width="0.5" stroke-linejoin="round" textLength="529.4" lengthAdjust="spacingAndGlyphs">Electronic band structure</text>
<text x="952.3" y="422.5" font-size="48" stroke="#000" stroke-width="0.5" stroke-linejoin="round" textLength="257.2" lengthAdjust="spacingAndGlyphs" transform="rotate(-90 952.3 422.5)">Energy (eV)</text>
<text x="1220.4" y="601.9" font-size="45.5" stroke="#000" stroke-width="0.5" stroke-linejoin="round" textLength="266.8" lengthAdjust="spacingAndGlyphs">Stress (GPa)</text>
<g shape-rendering="crispEdges">
<rect x="1111.1" y="610.7" width="10.9" height="41.5" fill="#2c2448"/>
<rect x="1121.4" y="610.7" width="10.9" height="41.5" fill="#302850"/>
<rect x="1131.7" y="610.7" width="10.9" height="41.5" fill="#362d5e"/>
<rect x="1142" y="610.7" width="10.9" height="41.5" fill="#3f3470"/>
<rect x="1152.2" y="610.7" width="10.9" height="41.5" fill="#4a3d86"/>
<rect x="1162.5" y="610.7" width="10.9" height="41.5" fill="#584a9c"/>
<rect x="1172.8" y="610.7" width="10.9" height="41.5" fill="#5c54ab"/>
<rect x="1183.1" y="610.7" width="10.9" height="41.5" fill="#585cb1"/>
<rect x="1193.4" y="610.7" width="10.9" height="41.5" fill="#5165b6"/>
<rect x="1203.7" y="610.7" width="10.9" height="41.5" fill="#486eb9"/>
<rect x="1214" y="610.7" width="10.9" height="41.5" fill="#3f78bd"/>
<rect x="1224.2" y="610.7" width="10.9" height="41.5" fill="#3c80be"/>
<rect x="1234.5" y="610.7" width="10.9" height="41.5" fill="#3889c0"/>
<rect x="1244.8" y="610.7" width="10.9" height="41.5" fill="#3d96b9"/>
<rect x="1255.1" y="610.7" width="10.9" height="41.5" fill="#45a2b1"/>
<rect x="1265.4" y="610.7" width="10.9" height="41.5" fill="#50afa8"/>
<rect x="1275.7" y="610.7" width="10.9" height="41.5" fill="#5bb8a2"/>
<rect x="1286" y="610.7" width="10.9" height="41.5" fill="#66c0a1"/>
<rect x="1296.2" y="610.7" width="10.9" height="41.5" fill="#75c6a2"/>
<rect x="1306.5" y="610.7" width="10.9" height="41.5" fill="#86cda6"/>
<rect x="1316.8" y="610.7" width="10.9" height="41.5" fill="#99d4aa"/>
<rect x="1327.1" y="610.7" width="10.9" height="41.5" fill="#aedeae"/>
<rect x="1337.4" y="610.7" width="10.9" height="41.5" fill="#c3e6b0"/>
<rect x="1347.7" y="610.7" width="10.9" height="41.5" fill="#d9efb2"/>
<rect x="1358" y="610.7" width="10.9" height="41.5" fill="#f0f4b0"/>
<rect x="1368.2" y="610.7" width="10.9" height="41.5" fill="#fcf0a7"/>
<rect x="1378.5" y="610.7" width="10.9" height="41.5" fill="#fde49a"/>
<rect x="1388.8" y="610.7" width="10.9" height="41.5" fill="#fdd386"/>
<rect x="1399.1" y="610.7" width="10.9" height="41.5" fill="#fcc476"/>
<rect x="1409.4" y="610.7" width="10.9" height="41.5" fill="#fcb76b"/>
<rect x="1419.7" y="610.7" width="10.9" height="41.5" fill="#faaa62"/>
<rect x="1430" y="610.7" width="10.9" height="41.5" fill="#faa05b"/>
<rect x="1440.3" y="610.7" width="10.9" height="41.5" fill="#f89355"/>
<rect x="1450.5" y="610.7" width="10.9" height="41.5" fill="#f7864e"/>
<rect x="1460.8" y="610.7" width="10.9" height="41.5" fill="#f47a4b"/>
<rect x="1471.1" y="610.7" width="10.9" height="41.5" fill="#f16f4a"/>
<rect x="1481.4" y="610.7" width="10.9" height="41.5" fill="#ec654b"/>
<rect x="1491.7" y="610.7" width="10.9" height="41.5" fill="#e85b4d"/>
<rect x="1502" y="610.7" width="10.9" height="41.5" fill="#e2524f"/>
<rect x="1512.3" y="610.7" width="10.9" height="41.5" fill="#dd4a52"/>
<rect x="1522.5" y="610.7" width="10.9" height="41.5" fill="#d64054"/>
<rect x="1532.8" y="610.7" width="10.9" height="41.5" fill="#cd3555"/>
<rect x="1543.1" y="610.7" width="10.9" height="41.5" fill="#c22754"/>
<rect x="1553.4" y="610.7" width="10.9" height="41.5" fill="#b51650"/>
<rect x="1563.7" y="610.7" width="10.9" height="41.5" fill="#a30b49"/>
<rect x="1574" y="610.7" width="10.9" height="41.5" fill="#8e0640"/>
<rect x="1584.3" y="610.7" width="10.9" height="41.5" fill="#760735"/>
<rect x="1594.5" y="610.7" width="10.9" height="41.5" fill="#60092c"/>
<rect x="1604.8" y="610.7" width="10.9" height="41.5" fill="#4c0a26"/>
<rect x="1615.1" y="610.7" width="10.9" height="41.5" fill="#400a23"/>
</g>
<rect x="1111.9" y="611.5" width="512.7" height="39.9" fill="none" stroke="#0a0614" stroke-width="1.9"/>
<line x1="1119.7" y1="652.2" x2="1119.7" y2="654.4" stroke="#000" stroke-width="1.6"/>
<line x1="1367.2" y1="652.2" x2="1367.2" y2="654.4" stroke="#000" stroke-width="1.6"/>
<line x1="1613.9" y1="652.2" x2="1613.9" y2="654.4" stroke="#000" stroke-width="1.6"/>
<text x="1013.3" y="650.6" font-size="48.5" stroke="#000" stroke-width="0.5" stroke-linejoin="round" textLength="85.7" lengthAdjust="spacingAndGlyphs">-3.5</text>
<text x="1634.5" y="647.8" font-size="48.5" stroke="#000" stroke-width="0.5" stroke-linejoin="round" textLength="68.2" lengthAdjust="spacingAndGlyphs">7.5</text>
<text x="913" y="107.2" font-size="80" stroke="#000" stroke-width="1.3" stroke-linejoin="round" textLength="44.9" lengthAdjust="spacingAndGlyphs">b</text>
<g clip-path="url(#clc)">
<polyline points="123.3,877 195,840 266.7,802.3 338.4,768.6 410.1,731.9 481.8,728.4 553.5,744.5 625.2,755.2 696.9,754.8 768.6,802.3" fill="none" stroke="#04607a" stroke-width="2.9" stroke-linejoin="round"/>
<circle cx="123.3" cy="877" r="8.1" fill="#04607a"/>
<circle cx="195" cy="840" r="8.1" fill="#04607a"/>
<circle cx="266.7" cy="802.3" r="8.1" fill="#04607a"/>
<circle cx="338.4" cy="768.6" r="8.1" fill="#04607a"/>
<circle cx="410.1" cy="731.9" r="8.1" fill="#04607a"/>
<circle cx="481.8" cy="728.4" r="8.1" fill="#04607a"/>
<circle cx="553.5" cy="744.5" r="8.1" fill="#04607a"/>
<circle cx="625.2" cy="755.2" r="8.1" fill="#04607a"/>
<circle cx="696.9" cy="754.8" r="8.1" fill="#04607a"/>
<circle cx="768.6" cy="802.3" r="8.1" fill="#04607a"/>
<polyline points="123.3,1118 195,1114.9 266.7,1111.7 338.4,1108.4 410.1,1105.4 481.8,1101.3 553.5,1097.3 625.2,1093.2 696.9,1087.7 768.6,1080" fill="none" stroke="#cf6d87" stroke-width="2.9" stroke-linejoin="round"/>
<circle cx="123.3" cy="1118" r="8.1" fill="#cf6d87"/>
<circle cx="195" cy="1114.9" r="8.1" fill="#cf6d87"/>
<circle cx="266.7" cy="1111.7" r="8.1" fill="#cf6d87"/>
<circle cx="338.4" cy="1108.4" r="8.1" fill="#cf6d87"/>
<circle cx="410.1" cy="1105.4" r="8.1" fill="#cf6d87"/>
<circle cx="481.8" cy="1101.3" r="8.1" fill="#cf6d87"/>
<circle cx="553.5" cy="1097.3" r="8.1" fill="#cf6d87"/>
<circle cx="625.2" cy="1093.2" r="8.1" fill="#cf6d87"/>
<circle cx="696.9" cy="1087.7" r="8.1" fill="#cf6d87"/>
<circle cx="768.6" cy="1080" r="8.1" fill="#cf6d87"/>
</g>
<rect x="123.3" y="683.8" width="645.3" height="500.1" fill="none" stroke="#000" stroke-width="2.9"/>
<line x1="113.3" y1="1138" x2="123.3" y2="1138" stroke="#000" stroke-width="2.9"/>
<text x="105.2" y="1147.9" text-anchor="end" font-size="31.5" stroke="#000" stroke-width="0.5" stroke-linejoin="round">0.0</text>
<line x1="113.3" y1="1047.2" x2="123.3" y2="1047.2" stroke="#000" stroke-width="2.9"/>
<text x="105.2" y="1057.1" text-anchor="end" font-size="31.5" stroke="#000" stroke-width="0.5" stroke-linejoin="round">0.2</text>
<line x1="113.3" y1="956.3" x2="123.3" y2="956.3" stroke="#000" stroke-width="2.9"/>
<text x="105.2" y="966.2" text-anchor="end" font-size="31.5" stroke="#000" stroke-width="0.5" stroke-linejoin="round">0.4</text>
<line x1="113.3" y1="865.5" x2="123.3" y2="865.5" stroke="#000" stroke-width="2.9"/>
<text x="105.2" y="875.4" text-anchor="end" font-size="31.5" stroke="#000" stroke-width="0.5" stroke-linejoin="round">0.6</text>
<line x1="113.3" y1="774.6" x2="123.3" y2="774.6" stroke="#000" stroke-width="2.9"/>
<text x="105.2" y="784.5" text-anchor="end" font-size="31.5" stroke="#000" stroke-width="0.5" stroke-linejoin="round">0.8</text>
<line x1="113.3" y1="683.8" x2="123.3" y2="683.8" stroke="#000" stroke-width="2.9"/>
<text x="105.2" y="693.7" text-anchor="end" font-size="31.5" stroke="#000" stroke-width="0.5" stroke-linejoin="round">1.0</text>
<line x1="768.6" y1="1096.9" x2="778.6" y2="1096.9" stroke="#000" stroke-width="2.9"/>
<text x="785.9" y="1106.8" text-anchor="start" font-size="31.5" stroke="#000" stroke-width="0.5" stroke-linejoin="round">10</text>
<line x1="768.6" y1="988.3" x2="778.6" y2="988.3" stroke="#000" stroke-width="2.9"/>
<text x="785.9" y="998.2" text-anchor="start" font-size="31.5" stroke="#000" stroke-width="0.5" stroke-linejoin="round">15</text>
<line x1="768.6" y1="879.6" x2="778.6" y2="879.6" stroke="#000" stroke-width="2.9"/>
<text x="785.9" y="889.5" text-anchor="start" font-size="31.5" stroke="#000" stroke-width="0.5" stroke-linejoin="round">20</text>
<line x1="768.6" y1="771" x2="778.6" y2="771" stroke="#000" stroke-width="2.9"/>
<text x="785.9" y="780.9" text-anchor="start" font-size="31.5" stroke="#000" stroke-width="0.5" stroke-linejoin="round">25</text>
<line x1="195" y1="1183.9" x2="195" y2="1193.9" stroke="#000" stroke-width="2.9"/>
<text x="192.4" y="1225.4" text-anchor="middle" font-size="31.5" stroke="#000" stroke-width="0.5" stroke-linejoin="round">-1</text>
<line x1="338.4" y1="1183.9" x2="338.4" y2="1193.9" stroke="#000" stroke-width="2.9"/>
<text x="338.4" y="1225.4" text-anchor="middle" font-size="31.5" stroke="#000" stroke-width="0.5" stroke-linejoin="round">0</text>
<line x1="481.8" y1="1183.9" x2="481.8" y2="1193.9" stroke="#000" stroke-width="2.9"/>
<text x="481.8" y="1225.4" text-anchor="middle" font-size="31.5" stroke="#000" stroke-width="0.5" stroke-linejoin="round">1</text>
<line x1="625.2" y1="1183.9" x2="625.2" y2="1193.9" stroke="#000" stroke-width="2.9"/>
<text x="625.2" y="1225.4" text-anchor="middle" font-size="31.5" stroke="#000" stroke-width="0.5" stroke-linejoin="round">2</text>
<line x1="768.6" y1="1183.9" x2="768.6" y2="1193.9" stroke="#000" stroke-width="2.9"/>
<text x="768.6" y="1225.4" text-anchor="middle" font-size="31.5" stroke="#000" stroke-width="0.5" stroke-linejoin="round">3</text>
<text x="331" y="1271.3" font-size="44.5" stroke="#000" stroke-width="0.5" stroke-linejoin="round" textLength="257.8" lengthAdjust="spacingAndGlyphs">Stress (GPa)</text>
<text x="32.8" y="1063.3" font-size="43.5" stroke="#000" stroke-width="0.5" stroke-linejoin="round" textLength="273.4" lengthAdjust="spacingAndGlyphs" transform="rotate(-90 32.8 1063.3)">Band gap (eV)</text>
<text x="877" y="1026.8" font-size="43.5" stroke="#000" stroke-width="0.5" stroke-linejoin="round" textLength="230.4" lengthAdjust="spacingAndGlyphs" transform="rotate(-90 877 1026.8)">Distance (Å)</text>
<path d="M205.5 896.7L141.6 896.7M166.6 883L141.1 896.7L166.6 910.4" fill="none" stroke="#1c4252" stroke-width="4.5" stroke-linecap="round" stroke-linejoin="miter"/>
<path d="M670.3 970L735.3 970M710.3 956.3L735.8 970L710.3 983.7" fill="none" stroke="#b04468" stroke-width="4.5" stroke-linecap="round" stroke-linejoin="miter"/>
<text x="12" y="713" font-size="84" font-weight="bold" textLength="44.6" lengthAdjust="spacingAndGlyphs">c</text>
<g clip-path="url(#cld)">
<polyline points="1032.3,929.9 1061.7,867 1091.1,824.8 1120.6,790.9 1150,762.5 1179.4,754.8 1208.8,743.2 1238.3,732 1267.7,718.8 1297.1,729.6 1326.5,737.5 1356,745.2 1385.4,751.9 1414.8,756.4 1444.2,768.2 1473.7,784.8 1503.1,802.5 1532.5,819.7 1561.9,844.7 1591.4,867 1620.8,894.4 1650.2,925.4 1679.7,973.5" fill="none" stroke="#174a64" stroke-width="2.9" stroke-linejoin="round"/>
<circle cx="1032.3" cy="929.9" r="8.1" fill="#174a64"/>
<circle cx="1061.7" cy="867" r="8.1" fill="#174a64"/>
<circle cx="1091.1" cy="824.8" r="8.1" fill="#174a64"/>
<circle cx="1120.6" cy="790.9" r="8.1" fill="#174a64"/>
<circle cx="1150" cy="762.5" r="8.1" fill="#174a64"/>
<circle cx="1179.4" cy="754.8" r="8.1" fill="#174a64"/>
<circle cx="1208.8" cy="743.2" r="8.1" fill="#174a64"/>
<circle cx="1238.3" cy="732" r="8.1" fill="#174a64"/>
<circle cx="1267.7" cy="718.8" r="8.1" fill="#174a64"/>
<circle cx="1297.1" cy="729.6" r="8.1" fill="#174a64"/>
<circle cx="1326.5" cy="737.5" r="8.1" fill="#174a64"/>
<circle cx="1356" cy="745.2" r="8.1" fill="#174a64"/>
<circle cx="1385.4" cy="751.9" r="8.1" fill="#174a64"/>
<circle cx="1414.8" cy="756.4" r="8.1" fill="#174a64"/>
<circle cx="1444.2" cy="768.2" r="8.1" fill="#174a64"/>
<circle cx="1473.7" cy="784.8" r="8.1" fill="#174a64"/>
<circle cx="1503.1" cy="802.5" r="8.1" fill="#174a64"/>
<circle cx="1532.5" cy="819.7" r="8.1" fill="#174a64"/>
<circle cx="1561.9" cy="844.7" r="8.1" fill="#174a64"/>
<circle cx="1591.4" cy="867" r="8.1" fill="#174a64"/>
<circle cx="1620.8" cy="894.4" r="8.1" fill="#174a64"/>
<circle cx="1650.2" cy="925.4" r="8.1" fill="#174a64"/>
<circle cx="1679.7" cy="973.5" r="8.1" fill="#174a64"/>
<polyline points="1032.3,994.4 1061.7,986.9 1091.1,981.2 1120.6,976.7 1150,971.4 1179.4,969 1208.8,964.9 1238.3,961.9 1267.7,958.4 1297.1,954.8 1326.5,951.7 1356,948.1 1385.4,944.6 1414.8,941.2 1444.2,937.6 1473.7,933.9 1503.1,930.3 1532.5,926.2 1561.9,922.2 1591.4,917.7 1620.8,912.2 1650.2,906.1 1679.7,897.8" fill="none" stroke="#bb4f70" stroke-width="2.9" stroke-linejoin="round"/>
<circle cx="1032.3" cy="994.4" r="8.1" fill="#bb4f70"/>
<circle cx="1061.7" cy="986.9" r="8.1" fill="#bb4f70"/>
<circle cx="1091.1" cy="981.2" r="8.1" fill="#bb4f70"/>
<circle cx="1120.6" cy="976.7" r="8.1" fill="#bb4f70"/>
<circle cx="1150" cy="971.4" r="8.1" fill="#bb4f70"/>
<circle cx="1179.4" cy="969" r="8.1" fill="#bb4f70"/>
<circle cx="1208.8" cy="964.9" r="8.1" fill="#bb4f70"/>
<circle cx="1238.3" cy="961.9" r="8.1" fill="#bb4f70"/>
<circle cx="1267.7" cy="958.4" r="8.1" fill="#bb4f70"/>
<circle cx="1297.1" cy="954.8" r="8.1" fill="#bb4f70"/>
<circle cx="1326.5" cy="951.7" r="8.1" fill="#bb4f70"/>
<circle cx="1356" cy="948.1" r="8.1" fill="#bb4f70"/>
<circle cx="1385.4" cy="944.6" r="8.1" fill="#bb4f70"/>
<circle cx="1414.8" cy="941.2" r="8.1" fill="#bb4f70"/>
<circle cx="1444.2" cy="937.6" r="8.1" fill="#bb4f70"/>
<circle cx="1473.7" cy="933.9" r="8.1" fill="#bb4f70"/>
<circle cx="1503.1" cy="930.3" r="8.1" fill="#bb4f70"/>
<circle cx="1532.5" cy="926.2" r="8.1" fill="#bb4f70"/>
<circle cx="1561.9" cy="922.2" r="8.1" fill="#bb4f70"/>
<circle cx="1591.4" cy="917.7" r="8.1" fill="#bb4f70"/>
<circle cx="1620.8" cy="912.2" r="8.1" fill="#bb4f70"/>
<circle cx="1650.2" cy="906.1" r="8.1" fill="#bb4f70"/>
<circle cx="1679.7" cy="897.8" r="8.1" fill="#bb4f70"/>
</g>
<rect x="1031.9" y="677.9" width="647.6" height="502.1" fill="none" stroke="#000" stroke-width="2.9"/>
<line x1="1021.9" y1="1133.1" x2="1031.9" y2="1133.1" stroke="#000" stroke-width="2.9"/>
<text x="1014.9" y="1143" text-anchor="end" font-size="31.5" stroke="#000" stroke-width="0.5" stroke-linejoin="round">0.0</text>
<line x1="1021.9" y1="995" x2="1031.9" y2="995" stroke="#000" stroke-width="2.9"/>
<text x="1014.9" y="1004.9" text-anchor="end" font-size="31.5" stroke="#000" stroke-width="0.5" stroke-linejoin="round">0.3</text>
<line x1="1021.9" y1="856.9" x2="1031.9" y2="856.9" stroke="#000" stroke-width="2.9"/>
<text x="1014.9" y="866.8" text-anchor="end" font-size="31.5" stroke="#000" stroke-width="0.5" stroke-linejoin="round">0.6</text>
<line x1="1021.9" y1="718.8" x2="1031.9" y2="718.8" stroke="#000" stroke-width="2.9"/>
<text x="1014.9" y="728.7" text-anchor="end" font-size="31.5" stroke="#000" stroke-width="0.5" stroke-linejoin="round">0.9</text>
<line x1="1679.5" y1="1117.2" x2="1689.5" y2="1117.2" stroke="#000" stroke-width="2.9"/>
<text x="1696.2" y="1127.1" text-anchor="start" font-size="31.5" stroke="#000" stroke-width="0.5" stroke-linejoin="round">9</text>
<line x1="1679.5" y1="928.9" x2="1689.5" y2="928.9" stroke="#000" stroke-width="2.9"/>
<text x="1696.2" y="938.8" text-anchor="start" font-size="31.5" stroke="#000" stroke-width="0.5" stroke-linejoin="round">18</text>
<line x1="1679.5" y1="740.6" x2="1689.5" y2="740.6" stroke="#000" stroke-width="2.9"/>
<text x="1696.2" y="750.5" text-anchor="start" font-size="31.5" stroke="#000" stroke-width="0.5" stroke-linejoin="round">27</text>
<line x1="1120.6" y1="1180" x2="1120.6" y2="1190" stroke="#000" stroke-width="2.9"/>
<text x="1118" y="1221.4" text-anchor="middle" font-size="31.5" stroke="#000" stroke-width="0.5" stroke-linejoin="round">-2</text>
<line x1="1238.3" y1="1180" x2="1238.3" y2="1190" stroke="#000" stroke-width="2.9"/>
<text x="1238.3" y="1221.4" text-anchor="middle" font-size="31.5" stroke="#000" stroke-width="0.5" stroke-linejoin="round">0</text>
<line x1="1356" y1="1180" x2="1356" y2="1190" stroke="#000" stroke-width="2.9"/>
<text x="1356" y="1221.4" text-anchor="middle" font-size="31.5" stroke="#000" stroke-width="0.5" stroke-linejoin="round">2</text>
<line x1="1473.7" y1="1180" x2="1473.7" y2="1190" stroke="#000" stroke-width="2.9"/>
<text x="1473.7" y="1221.4" text-anchor="middle" font-size="31.5" stroke="#000" stroke-width="0.5" stroke-linejoin="round">4</text>
<line x1="1591.4" y1="1180" x2="1591.4" y2="1190" stroke="#000" stroke-width="2.9"/>
<text x="1591.4" y="1221.4" text-anchor="middle" font-size="31.5" stroke="#000" stroke-width="0.5" stroke-linejoin="round">6</text>
<text x="1214.7" y="1266.8" font-size="44.5" stroke="#000" stroke-width="0.5" stroke-linejoin="round" textLength="257.9" lengthAdjust="spacingAndGlyphs">Stress (GPa)</text>
<text x="949.6" y="1065.3" font-size="43.5" stroke="#000" stroke-width="0.5" stroke-linejoin="round" textLength="272.0" lengthAdjust="spacingAndGlyphs" transform="rotate(-90 949.6 1065.3)">Band gap (eV)</text>
<text x="1764.6" y="1040.1" font-size="43.5" stroke="#000" stroke-width="0.5" stroke-linejoin="round" textLength="235.4" lengthAdjust="spacingAndGlyphs" transform="rotate(-90 1764.6 1040.1)">Distance (Å)</text>
<path d="M1119 752.7L1053.6 752.7M1078.6 739L1053.1 752.7L1078.6 766.4" fill="none" stroke="#1c4a5a" stroke-width="4.5" stroke-linecap="round" stroke-linejoin="miter"/>
<path d="M1575 1021.5L1640 1021.5M1615 1007.8L1640.5 1021.5L1615 1035.2" fill="none" stroke="#b04468" stroke-width="4.5" stroke-linecap="round" stroke-linejoin="miter"/>
<text x="905.2" y="711.4" font-size="84" stroke="#000" stroke-width="1.3" stroke-linejoin="round" textLength="45.2" lengthAdjust="spacingAndGlyphs">d</text>
<g clip-path="url(#cle)">
<polyline points="117.2,1571.5 189.6,1577.5 261.9,1584.6 334.2,1591.3 406.6,1600.3 478.9,1727.1 551.3,1710 623.6,1690.8 696,1669.5 768.4,1646.1" fill="none" stroke="#8c9af5" stroke-width="3.6" stroke-linejoin="round"/>
<circle cx="117.2" cy="1571.5" r="8.5" fill="#5b72f5"/>
<circle cx="189.6" cy="1577.5" r="8.5" fill="#5b72f5"/>
<circle cx="261.9" cy="1584.6" r="8.5" fill="#5b72f5"/>
<circle cx="334.2" cy="1591.3" r="8.5" fill="#5b72f5"/>
<circle cx="406.6" cy="1600.3" r="8.5" fill="#5b72f5"/>
<circle cx="478.9" cy="1727.1" r="8.5" fill="#5b72f5"/>
<circle cx="551.3" cy="1710" r="8.5" fill="#5b72f5"/>
<circle cx="623.6" cy="1690.8" r="8.5" fill="#5b72f5"/>
<circle cx="696" cy="1669.5" r="8.5" fill="#5b72f5"/>
<circle cx="768.4" cy="1646.1" r="8.5" fill="#5b72f5"/>
<polyline points="117.2,1483.3 189.6,1477.2 261.9,1471.4 334.2,1466.1 406.6,1459.4 478.9,1451.5 551.3,1441.7 623.6,1428.5 696,1401.8 768.4,1409.5" fill="none" stroke="#b84a70" stroke-width="3.4" stroke-linejoin="round" stroke-dasharray="9.5 8.5" stroke-linecap="round"/>
<path d="M117.2 1474.8L127 1491.8L107.5 1491.8Z" fill="#d0708a"/>
<path d="M189.6 1468.7L199.3 1485.7L179.8 1485.7Z" fill="#d0708a"/>
<path d="M261.9 1462.9L271.6 1479.9L252.1 1479.9Z" fill="#d0708a"/>
<path d="M334.2 1457.6L344 1474.6L324.5 1474.6Z" fill="#d0708a"/>
<path d="M406.6 1450.9L416.3 1467.9L396.8 1467.9Z" fill="#d0708a"/>
<path d="M478.9 1443L488.7 1460L469.2 1460Z" fill="#d0708a"/>
<path d="M551.3 1433.2L561 1450.2L541.5 1450.2Z" fill="#d0708a"/>
<path d="M623.6 1420L633.4 1437L613.9 1437Z" fill="#d0708a"/>
<path d="M696 1393.3L705.8 1410.3L686.2 1410.3Z" fill="#d0708a"/>
<path d="M768.4 1401L778.1 1418L758.6 1418Z" fill="#d0708a"/>
</g>
<line x1="137.5" y1="1734.4" x2="200.4" y2="1734.4" stroke="#8c9af5" stroke-width="3.6" stroke-linecap="round"/>
<circle cx="169" cy="1734.4" r="8.5" fill="#5b72f5"/>
<line x1="138.5" y1="1768.3" x2="199.4" y2="1768.3" stroke="#b84a70" stroke-width="3.4" stroke-dasharray="7 9.8" stroke-linecap="round"/>
<path d="M169 1757.8L178.8 1774.8L159.2 1774.8Z" fill="#d0708a"/>
<text x="205.8" y="1743.5" font-size="27" stroke="#000" stroke-width="0.5" stroke-linejoin="round" textLength="52.2" lengthAdjust="spacingAndGlyphs">hole</text>
<text x="206.7" y="1777" font-size="27" stroke="#000" stroke-width="0.5" stroke-linejoin="round" textLength="86.7" lengthAdjust="spacingAndGlyphs">electric</text>
<rect x="117.2" y="1287.6" width="651.7" height="523.3" fill="none" stroke="#000" stroke-width="2.9"/>
<line x1="107.2" y1="1704.8" x2="117.2" y2="1704.8" stroke="#000" stroke-width="2.9"/>
<text x="100" y="1714" text-anchor="end" font-size="27" stroke="#000" stroke-width="0.5" stroke-linejoin="round">-0.2</text>
<line x1="107.2" y1="1528.6" x2="117.2" y2="1528.6" stroke="#000" stroke-width="2.9"/>
<text x="100" y="1537.8" text-anchor="end" font-size="27" stroke="#000" stroke-width="0.5" stroke-linejoin="round">0.0</text>
<line x1="107.2" y1="1352.4" x2="117.2" y2="1352.4" stroke="#000" stroke-width="2.9"/>
<text x="100" y="1361.6" text-anchor="end" font-size="27" stroke="#000" stroke-width="0.5" stroke-linejoin="round">0.2</text>
<line x1="189.6" y1="1810.9" x2="189.6" y2="1820.9" stroke="#000" stroke-width="2.9"/>
<text x="187.4" y="1850" text-anchor="middle" font-size="27" stroke="#000" stroke-width="0.5" stroke-linejoin="round">-1</text>
<line x1="334.2" y1="1810.9" x2="334.2" y2="1820.9" stroke="#000" stroke-width="2.9"/>
<text x="334.2" y="1850" text-anchor="middle" font-size="27" stroke="#000" stroke-width="0.5" stroke-linejoin="round">0</text>
<line x1="478.9" y1="1810.9" x2="478.9" y2="1820.9" stroke="#000" stroke-width="2.9"/>
<text x="478.9" y="1850" text-anchor="middle" font-size="27" stroke="#000" stroke-width="0.5" stroke-linejoin="round">1</text>
<line x1="623.6" y1="1810.9" x2="623.6" y2="1820.9" stroke="#000" stroke-width="2.9"/>
<text x="623.6" y="1850" text-anchor="middle" font-size="27" stroke="#000" stroke-width="0.5" stroke-linejoin="round">2</text>
<line x1="768.4" y1="1810.9" x2="768.4" y2="1820.9" stroke="#000" stroke-width="2.9"/>
<text x="768.4" y="1850" text-anchor="middle" font-size="27" stroke="#000" stroke-width="0.5" stroke-linejoin="round">3</text>
<text x="338.4" y="1902.7" font-size="37" stroke="#000" stroke-width="0.5" stroke-linejoin="round" textLength="211.6" lengthAdjust="spacingAndGlyphs">Stress (GPa)</text>
<text x="39.1" y="1667.4" font-size="38" stroke="#000" stroke-width="0.5" stroke-linejoin="round" textLength="235.0" lengthAdjust="spacingAndGlyphs" transform="rotate(-90 39.1 1667.4)">Effective Mass</text>
<text x="11.6" y="1371.2" font-size="81.5" stroke="#000" stroke-width="1.3" stroke-linejoin="round" textLength="47.9" lengthAdjust="spacingAndGlyphs">e</text>
<g clip-path="url(#clf)">
<polyline points="1028.3,1597.4 1057.9,1612.4 1087.5,1620.2 1117.2,1625.6 1146.8,1630.3 1176.4,1632.3 1206,1633.3 1235.7,1635.4 1265.3,1671.3 1294.9,1664.2 1324.5,1660.3 1354.2,1657.3 1383.8,1656.1 1413.4,1656.1 1443,1656.7 1472.7,1659.1 1502.3,1663.8 1531.9,1670.5 1561.5,1677.4 1591.2,1689.8 1620.8,1707 1650.4,1735.2 1680,1783.1" fill="none" stroke="#8c9af5" stroke-width="3.6" stroke-linejoin="round"/>
<circle cx="1028.3" cy="1597.4" r="8.5" fill="#5b72f5"/>
<circle cx="1057.9" cy="1612.4" r="8.5" fill="#5b72f5"/>
<circle cx="1087.5" cy="1620.2" r="8.5" fill="#5b72f5"/>
<circle cx="1117.2" cy="1625.6" r="8.5" fill="#5b72f5"/>
<circle cx="1146.8" cy="1630.3" r="8.5" fill="#5b72f5"/>
<circle cx="1176.4" cy="1632.3" r="8.5" fill="#5b72f5"/>
<circle cx="1206" cy="1633.3" r="8.5" fill="#5b72f5"/>
<circle cx="1235.7" cy="1635.4" r="8.5" fill="#5b72f5"/>
<circle cx="1265.3" cy="1671.3" r="8.5" fill="#5b72f5"/>
<circle cx="1294.9" cy="1664.2" r="8.5" fill="#5b72f5"/>
<circle cx="1324.5" cy="1660.3" r="8.5" fill="#5b72f5"/>
<circle cx="1354.2" cy="1657.3" r="8.5" fill="#5b72f5"/>
<circle cx="1383.8" cy="1656.1" r="8.5" fill="#5b72f5"/>
<circle cx="1413.4" cy="1656.1" r="8.5" fill="#5b72f5"/>
<circle cx="1443" cy="1656.7" r="8.5" fill="#5b72f5"/>
<circle cx="1472.7" cy="1659.1" r="8.5" fill="#5b72f5"/>
<circle cx="1502.3" cy="1663.8" r="8.5" fill="#5b72f5"/>
<circle cx="1531.9" cy="1670.5" r="8.5" fill="#5b72f5"/>
<circle cx="1561.5" cy="1677.4" r="8.5" fill="#5b72f5"/>
<circle cx="1591.2" cy="1689.8" r="8.5" fill="#5b72f5"/>
<circle cx="1620.8" cy="1707" r="8.5" fill="#5b72f5"/>
<circle cx="1650.4" cy="1735.2" r="8.5" fill="#5b72f5"/>
<circle cx="1680" cy="1783.1" r="8.5" fill="#5b72f5"/>
<polyline points="1028.3,1450.5 1057.9,1431.2 1087.5,1419.6 1117.2,1411.5 1146.8,1396.1 1176.4,1398.7 1206,1406.8 1235.7,1407.4 1265.3,1409.5 1294.9,1412.3 1324.5,1414.3 1354.2,1416 1383.8,1417 1413.4,1418 1443,1397.7 1472.7,1396.1 1502.3,1393.2 1531.9,1389 1561.5,1383.9 1591.2,1376 1620.8,1364.8 1650.4,1347.6 1680,1318.4" fill="none" stroke="#b84a70" stroke-width="3.4" stroke-linejoin="round" stroke-dasharray="9.5 8.5" stroke-linecap="round"/>
<path d="M1028.3 1442L1038 1459L1018.5 1459Z" fill="#d0708a"/>
<path d="M1057.9 1422.7L1067.7 1439.7L1048.2 1439.7Z" fill="#d0708a"/>
<path d="M1087.5 1411.1L1097.3 1428.1L1077.8 1428.1Z" fill="#d0708a"/>
<path d="M1117.2 1403L1126.9 1420L1107.4 1420Z" fill="#d0708a"/>
<path d="M1146.8 1387.6L1156.5 1404.6L1137 1404.6Z" fill="#d0708a"/>
<path d="M1176.4 1390.2L1186.2 1407.2L1166.7 1407.2Z" fill="#d0708a"/>
<path d="M1206 1398.3L1215.8 1415.3L1196.3 1415.3Z" fill="#d0708a"/>
<path d="M1235.7 1398.9L1245.4 1415.9L1225.9 1415.9Z" fill="#d0708a"/>
<path d="M1265.3 1401L1275 1418L1255.5 1418Z" fill="#d0708a"/>
<path d="M1294.9 1403.8L1304.7 1420.8L1285.2 1420.8Z" fill="#d0708a"/>
<path d="M1324.5 1405.8L1334.3 1422.8L1314.8 1422.8Z" fill="#d0708a"/>
<path d="M1354.2 1407.5L1363.9 1424.5L1344.4 1424.5Z" fill="#d0708a"/>
<path d="M1383.8 1408.5L1393.5 1425.5L1374 1425.5Z" fill="#d0708a"/>
<path d="M1413.4 1409.5L1423.2 1426.5L1403.7 1426.5Z" fill="#d0708a"/>
<path d="M1443 1389.2L1452.8 1406.2L1433.3 1406.2Z" fill="#d0708a"/>
<path d="M1472.7 1387.6L1482.4 1404.6L1462.9 1404.6Z" fill="#d0708a"/>
<path d="M1502.3 1384.7L1512 1401.7L1492.5 1401.7Z" fill="#d0708a"/>
<path d="M1531.9 1380.5L1541.7 1397.5L1522.2 1397.5Z" fill="#d0708a"/>
<path d="M1561.5 1375.4L1571.3 1392.4L1551.8 1392.4Z" fill="#d0708a"/>
<path d="M1591.2 1367.5L1600.9 1384.5L1581.4 1384.5Z" fill="#d0708a"/>
<path d="M1620.8 1356.3L1630.5 1373.3L1611 1373.3Z" fill="#d0708a"/>
<path d="M1650.4 1339.1L1660.2 1356.1L1640.7 1356.1Z" fill="#d0708a"/>
<path d="M1680 1309.9L1689.8 1326.9L1670.3 1326.9Z" fill="#d0708a"/>
</g>
<line x1="1048.6" y1="1734.4" x2="1111.5" y2="1734.4" stroke="#8c9af5" stroke-width="3.6" stroke-linecap="round"/>
<circle cx="1079.6" cy="1734.4" r="8.5" fill="#5b72f5"/>
<line x1="1049.6" y1="1768.3" x2="1110.5" y2="1768.3" stroke="#b84a70" stroke-width="3.4" stroke-dasharray="7 9.8" stroke-linecap="round"/>
<path d="M1079.6 1757.8L1089.3 1774.8L1069.8 1774.8Z" fill="#d0708a"/>
<text x="1117.5" y="1743.5" font-size="27" stroke="#000" stroke-width="0.5" stroke-linejoin="round" textLength="52.2" lengthAdjust="spacingAndGlyphs">hole</text>
<text x="1118.4" y="1777" font-size="27" stroke="#000" stroke-width="0.5" stroke-linejoin="round" textLength="86.7" lengthAdjust="spacingAndGlyphs">electric</text>
<rect x="1028.3" y="1287.6" width="652" height="523.3" fill="none" stroke="#000" stroke-width="2.9"/>
<line x1="1018.3" y1="1704.8" x2="1028.3" y2="1704.8" stroke="#000" stroke-width="2.9"/>
<text x="1010.8" y="1714" text-anchor="end" font-size="27" stroke="#000" stroke-width="0.5" stroke-linejoin="round">-0.2</text>
<line x1="1018.3" y1="1528.6" x2="1028.3" y2="1528.6" stroke="#000" stroke-width="2.9"/>
<text x="1010.8" y="1537.8" text-anchor="end" font-size="27" stroke="#000" stroke-width="0.5" stroke-linejoin="round">0.0</text>
<line x1="1018.3" y1="1352.4" x2="1028.3" y2="1352.4" stroke="#000" stroke-width="2.9"/>
<text x="1010.8" y="1361.6" text-anchor="end" font-size="27" stroke="#000" stroke-width="0.5" stroke-linejoin="round">0.2</text>
<line x1="1117.2" y1="1810.9" x2="1117.2" y2="1820.9" stroke="#000" stroke-width="2.9"/>
<text x="1115" y="1850" text-anchor="middle" font-size="27" stroke="#000" stroke-width="0.5" stroke-linejoin="round">-2</text>
<line x1="1235.7" y1="1810.9" x2="1235.7" y2="1820.9" stroke="#000" stroke-width="2.9"/>
<text x="1235.7" y="1850" text-anchor="middle" font-size="27" stroke="#000" stroke-width="0.5" stroke-linejoin="round">0</text>
<line x1="1354.2" y1="1810.9" x2="1354.2" y2="1820.9" stroke="#000" stroke-width="2.9"/>
<text x="1354.2" y="1850" text-anchor="middle" font-size="27" stroke="#000" stroke-width="0.5" stroke-linejoin="round">2</text>
<line x1="1472.7" y1="1810.9" x2="1472.7" y2="1820.9" stroke="#000" stroke-width="2.9"/>
<text x="1472.7" y="1850" text-anchor="middle" font-size="27" stroke="#000" stroke-width="0.5" stroke-linejoin="round">4</text>
<line x1="1591.2" y1="1810.9" x2="1591.2" y2="1820.9" stroke="#000" stroke-width="2.9"/>
<text x="1591.2" y="1850" text-anchor="middle" font-size="27" stroke="#000" stroke-width="0.5" stroke-linejoin="round">6</text>
<text x="1249.2" y="1902.7" font-size="37" stroke="#000" stroke-width="0.5" stroke-linejoin="round" textLength="211.9" lengthAdjust="spacingAndGlyphs">Stress (GPa)</text>
<text x="950.9" y="1666.8" font-size="38" stroke="#000" stroke-width="0.5" stroke-linejoin="round" textLength="234.7" lengthAdjust="spacingAndGlyphs" transform="rotate(-90 950.9 1666.8)">Effective Mass</text>
<text x="916.6" y="1372.8" font-size="83" font-weight="bold" textLength="26.3" lengthAdjust="spacingAndGlyphs">f</text>
</svg>
</body>
</html>
